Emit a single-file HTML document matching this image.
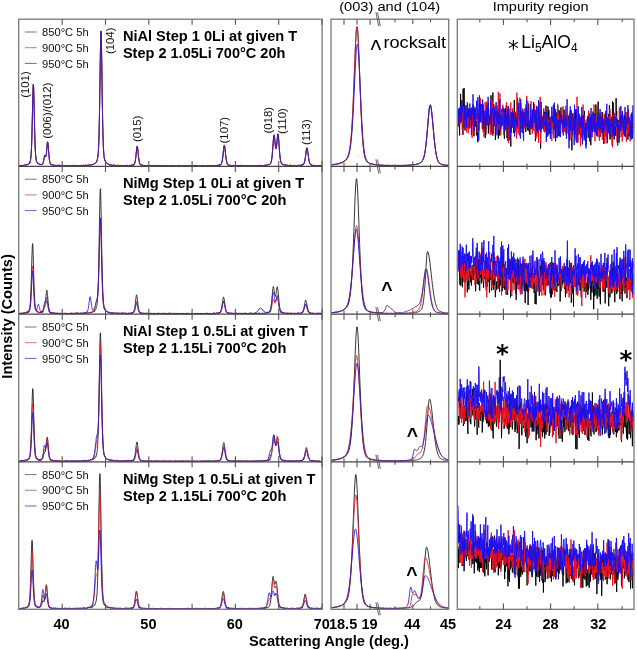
<!DOCTYPE html>
<html><head><meta charset="utf-8"><title>XRD patterns</title>
<style>html,body{margin:0;padding:0;background:#fff}svg{display:block;filter:blur(0.35px)}</style></head>
<body>
<svg width="637" height="650" viewBox="0 0 637 650">
<rect width="637" height="650" fill="#fff"/>
<path d="M19.3 165.6L20.2 165.5L21.1 165.6L22.0 165.6L22.9 165.5L23.8 165.5L24.7 165.2L25.6 164.7L26.5 164.9L27.4 164.7L28.3 163.9L28.4 163.9L28.6 163.8L28.8 163.9L29.0 163.5L29.2 163.1L29.4 163.3L29.6 162.8L29.8 162.8L30.0 162.2L30.1 162.1L30.2 161.4L30.4 160.9L30.6 159.5L30.8 158.1L31.0 156.3L31.2 154.1L31.4 150.2L31.6 145.5L31.8 139.7L31.9 136.7L32.0 132.8L32.2 124.8L32.4 115.8L32.6 106.1L32.8 97.7L33.0 90.1L33.2 85.1L33.4 84.2L33.6 86.8L33.7 89.3L33.8 92.6L34.0 101.0L34.2 109.8L34.4 118.8L34.6 128.1L34.8 135.3L35.0 141.9L35.2 147.4L35.4 151.0L35.5 153.0L35.6 154.9L35.8 156.9L36.0 158.5L36.2 159.9L36.4 160.7L36.6 161.5L36.8 161.8L37.0 162.1L37.2 162.8L37.3 162.8L37.4 163.1L37.6 163.2L37.8 163.6L38.0 163.7L38.2 163.7L39.1 164.0L39.7 164.1L39.9 164.7L40.0 164.6L40.1 164.3L40.3 164.9L40.5 164.6L40.7 164.5L40.9 164.2L41.1 164.3L41.3 164.5L41.5 164.5L41.7 164.5L41.8 164.1L41.9 164.5L42.1 164.3L42.3 164.1L42.5 164.0L42.7 163.7L42.9 163.6L43.1 162.8L43.3 162.2L43.5 161.0L43.6 160.7L43.7 160.3L43.9 159.0L44.1 158.1L44.3 156.7L44.5 156.1L44.7 155.5L44.9 155.9L45.1 155.8L45.3 156.6L45.4 156.9L45.5 156.6L45.7 156.8L45.9 156.2L46.1 154.9L46.3 154.2L46.5 152.3L46.7 149.9L46.9 147.5L47.1 145.3L47.2 144.2L47.3 143.1L47.5 141.9L47.7 142.1L47.9 142.7L48.1 144.5L48.3 147.1L48.5 149.4L48.7 152.4L48.9 154.5L49.0 155.8L49.1 156.9L49.3 158.9L49.5 160.3L49.7 161.9L49.9 162.6L50.1 163.0L50.3 164.0L50.5 163.7L50.7 164.6L50.8 164.1L50.9 164.6L51.1 164.4L51.3 164.6L51.5 165.1L51.7 164.6L51.9 164.6L52.1 165.0L52.3 165.1L52.5 165.1L52.6 165.3L53.5 165.0L54.4 165.5L55.3 165.5L56.2 165.7L57.1 165.7L58.0 165.9L58.9 165.3L59.8 165.7L60.7 165.4L61.6 165.6L62.5 165.8L63.4 165.7L64.3 165.8L65.2 165.7L66.1 165.8L67.0 165.7L67.9 166.0L68.8 165.9L69.7 165.3L70.6 165.8L71.5 165.9L72.4 165.6L73.3 165.4L74.2 166.0L75.1 165.7L76.0 165.8L76.9 166.0L77.8 165.5L78.7 165.6L79.6 165.6L80.5 165.8L81.4 165.5L82.3 165.7L83.2 165.6L84.1 165.7L85.0 165.7L85.9 165.1L86.8 165.5L87.7 165.2L88.6 165.2L89.5 165.2L90.4 165.1L91.3 164.7L92.2 164.7L93.1 164.4L94.0 164.0L94.9 163.2L95.8 162.5L96.0 162.3L96.2 162.3L96.4 162.1L96.6 161.3L96.7 161.1L96.8 161.1L97.0 160.5L97.2 159.9L97.4 159.1L97.6 158.2L97.8 157.4L98.0 155.4L98.2 153.9L98.4 150.6L98.5 149.0L98.6 146.9L98.8 141.7L99.0 135.5L99.2 128.1L99.4 118.5L99.6 106.6L99.8 94.2L100.0 80.1L100.2 65.7L100.3 59.3L100.4 52.9L100.6 41.1L100.8 33.5L101.0 30.9L101.2 33.7L101.4 41.6L101.6 53.2L101.8 66.4L102.0 80.7L102.1 87.9L102.2 94.3L102.4 107.2L102.6 118.4L102.8 128.3L103.0 136.2L103.2 142.5L103.4 147.4L103.6 150.9L103.8 153.9L103.9 154.7L104.0 155.7L104.2 156.8L104.4 158.8L104.6 159.1L104.8 160.1L105.0 160.6L105.2 161.4L105.4 161.6L105.6 161.7L105.7 162.0L105.8 162.1L106.6 163.1L107.5 163.5L108.4 164.2L109.3 165.0L110.2 164.9L111.1 165.4L112.0 165.8L112.9 165.3L113.8 165.0L114.7 165.3L115.6 165.6L116.5 165.6L117.4 165.2L118.3 165.5L119.2 165.5L120.1 165.6L121.0 165.6L121.9 165.4L122.8 165.5L123.7 165.5L124.6 165.8L125.5 165.5L126.4 165.7L127.3 165.3L128.2 165.8L129.1 165.6L130.0 165.5L130.9 165.7L131.8 164.9L132.2 164.9L132.4 165.3L132.6 165.0L132.7 165.1L132.8 165.7L133.0 165.0L133.2 165.0L133.4 164.9L133.6 165.1L133.8 164.7L134.0 164.6L134.2 164.0L134.4 163.9L134.5 163.8L134.6 163.3L134.8 163.2L135.0 162.4L135.2 161.8L135.4 160.0L135.6 158.7L135.8 157.1L136.0 155.3L136.2 153.4L136.3 152.4L136.4 151.4L136.6 149.5L136.8 147.8L137.0 146.4L137.2 146.3L137.4 146.8L137.6 148.0L137.8 149.7L138.0 151.1L138.1 152.4L138.2 153.5L138.4 155.6L138.6 157.6L138.8 159.0L139.0 160.2L139.2 161.6L139.4 162.5L139.6 163.2L139.8 163.6L139.9 164.2L140.0 164.1L140.2 164.5L140.4 164.4L140.6 164.9L140.8 164.7L141.0 164.6L141.2 165.1L141.4 165.2L141.6 165.1L141.7 165.2L141.8 165.4L142.0 165.2L142.6 164.9L143.5 165.5L144.4 165.6L145.3 165.8L146.2 165.6L147.1 165.9L148.0 165.9L148.9 165.4L149.8 165.9L150.7 165.5L151.6 165.4L152.5 165.7L153.4 165.6L154.3 165.3L155.2 165.8L156.1 165.9L157.0 166.1L157.9 165.8L158.8 165.5L159.7 165.6L160.6 166.0L161.5 166.0L162.4 165.9L163.3 165.7L164.2 165.8L165.1 165.8L166.0 165.7L166.9 165.9L167.8 165.8L168.7 165.8L169.6 165.8L170.5 165.7L171.4 165.4L172.3 165.7L173.2 165.8L174.1 166.2L175.0 165.7L175.9 166.2L176.8 166.1L177.7 165.6L178.6 165.7L179.5 165.8L180.4 166.2L181.3 165.9L182.2 166.0L183.1 165.7L184.0 165.3L184.9 165.8L185.8 166.0L186.7 166.1L187.6 165.8L188.5 165.8L189.4 166.1L190.3 165.8L191.2 166.1L192.1 165.6L193.0 165.6L193.9 165.6L194.8 165.9L195.7 165.7L196.6 165.8L197.5 165.9L198.4 165.9L199.3 166.1L200.2 166.1L201.1 165.6L202.0 165.8L202.9 165.7L203.8 165.6L204.7 166.2L205.6 165.9L206.5 165.7L207.4 165.7L208.3 165.8L209.2 165.5L210.1 165.7L211.0 166.0L211.9 165.9L212.8 165.5L213.7 165.6L214.6 166.1L215.5 165.3L216.4 165.4L217.3 165.2L218.2 165.5L219.1 165.3L219.3 165.4L219.5 164.6L219.7 165.1L219.9 164.7L220.0 165.1L220.1 164.9L220.3 165.2L220.5 164.8L220.7 164.4L220.9 164.7L221.1 163.9L221.3 163.7L221.5 163.6L221.7 163.0L221.8 162.6L221.9 162.2L222.1 161.4L222.3 160.4L222.5 159.0L222.7 157.6L222.9 156.0L223.1 153.9L223.3 151.8L223.5 150.4L223.6 149.1L223.7 148.4L223.9 147.0L224.1 145.6L224.3 145.5L224.5 145.4L224.7 146.8L224.9 147.9L225.1 149.8L225.3 151.8L225.4 152.5L225.5 153.6L225.7 155.3L225.9 157.2L226.1 158.9L226.3 160.0L226.5 161.1L226.7 161.8L226.9 162.9L227.1 163.3L227.2 163.9L227.3 163.6L227.5 164.3L227.7 164.7L227.9 164.6L228.1 164.5L228.3 165.2L228.5 165.2L228.7 165.2L228.9 165.3L229.0 165.0L229.1 165.3L229.9 165.5L230.8 165.3L231.7 165.7L232.6 165.5L233.5 165.8L234.4 165.9L235.3 166.1L236.2 165.3L237.1 165.8L238.0 165.7L238.9 165.7L239.8 165.7L240.7 165.7L241.6 165.3L242.5 166.0L243.4 166.1L244.3 166.0L245.2 166.0L246.1 165.6L247.0 165.6L247.9 166.0L248.8 166.0L249.7 165.8L250.6 165.4L251.5 166.4L252.4 165.6L253.3 166.0L254.2 165.5L255.1 165.9L256.0 165.8L256.9 166.0L257.8 165.9L258.7 165.3L259.6 165.5L260.5 165.7L261.4 165.8L262.3 166.0L263.2 165.6L264.1 165.5L265.0 165.4L265.9 165.3L266.8 165.4L267.7 165.0L268.6 164.8L269.0 164.3L269.2 164.1L269.4 164.5L269.5 164.6L269.6 164.3L269.8 164.3L270.0 164.2L270.2 163.9L270.4 163.9L270.6 163.2L270.8 163.0L271.0 162.4L271.2 161.9L271.3 161.6L271.4 161.2L271.6 160.0L271.8 158.8L272.0 157.1L272.2 155.2L272.4 153.3L272.6 150.5L272.8 148.1L273.0 145.1L273.1 143.6L273.2 142.6L273.4 139.5L273.6 137.2L273.8 135.7L274.0 135.0L274.2 135.2L274.4 136.4L274.6 138.0L274.8 140.1L274.9 141.1L275.0 142.5L275.2 144.4L275.4 146.2L275.6 147.7L275.8 148.7L276.0 148.8L276.2 148.9L276.4 147.5L276.6 146.1L276.7 145.2L276.8 144.2L277.0 142.2L277.2 139.7L277.4 137.3L277.6 135.4L277.8 134.2L278.0 134.3L278.2 134.4L278.4 135.8L278.5 136.9L278.6 138.2L278.8 141.3L279.0 143.7L279.2 146.9L279.4 150.2L279.6 152.2L279.8 154.9L280.0 156.9L280.2 158.4L280.3 158.7L280.4 159.7L280.6 160.7L280.8 161.2L281.0 161.9L281.2 162.8L281.4 163.3L281.6 163.8L281.8 163.9L282.0 163.9L282.1 164.0L282.2 164.1L282.4 164.1L282.6 164.6L282.8 164.5L283.0 164.4L283.9 164.8L284.8 164.8L285.7 165.1L286.6 165.4L287.5 165.3L288.4 165.7L289.3 165.9L290.2 165.4L291.1 165.6L292.0 165.5L292.9 166.0L293.8 165.7L294.7 165.7L295.6 165.8L296.5 166.1L297.4 165.6L298.3 165.3L299.2 165.4L300.1 165.5L301.0 165.3L301.9 165.0L302.1 165.7L302.3 165.1L302.5 164.9L302.7 164.7L302.8 164.5L302.9 164.5L303.1 164.6L303.3 164.4L303.5 164.1L303.7 164.2L303.9 163.7L304.1 163.1L304.3 162.3L304.5 162.1L304.6 161.7L304.7 161.2L304.9 160.0L305.1 159.1L305.3 157.5L305.5 156.6L305.7 154.9L305.9 153.3L306.1 151.5L306.3 150.0L306.4 149.9L306.5 149.3L306.7 148.2L306.9 148.1L307.1 148.4L307.3 148.5L307.5 149.7L307.7 151.1L307.9 152.8L308.1 154.1L308.2 155.2L308.3 155.7L308.5 157.6L308.7 158.9L308.9 159.9L309.1 161.1L309.3 161.7L309.5 162.5L309.7 163.3L309.9 163.6L310.0 163.9L310.1 163.8L310.3 164.4L310.5 164.6L310.7 164.4L310.9 164.3L311.1 164.5L311.3 165.0L311.5 165.0L311.7 164.8L311.8 165.2L312.7 165.5L313.6 165.4L314.5 165.4L315.4 165.8L316.3 166.0L317.2 166.0L318.1 165.5L319.0 165.9L319.9 165.8L320.8 165.7L321.7 165.6" fill="none" stroke="#111111" stroke-width="0.85" stroke-linejoin="round"/>
<path d="M19.3 165.6L20.2 165.4L21.1 165.7L22.0 165.5L22.9 165.6L23.8 165.0L24.7 165.2L25.6 165.2L26.5 164.9L27.4 164.6L28.3 163.9L28.4 164.3L28.6 164.1L28.8 163.7L29.0 162.9L29.2 163.0L29.4 163.0L29.6 162.6L29.8 161.9L30.0 162.0L30.1 161.7L30.2 161.1L30.4 160.5L30.6 159.4L30.8 158.3L31.0 155.8L31.2 153.2L31.4 149.9L31.6 145.3L31.8 140.1L31.9 136.2L32.0 132.7L32.2 124.5L32.4 115.5L32.6 106.4L32.8 97.9L33.0 90.0L33.2 85.5L33.4 84.2L33.6 86.9L33.7 89.4L33.8 93.1L34.0 100.5L34.2 109.8L34.4 118.8L34.6 127.3L34.8 135.4L35.0 142.4L35.2 147.5L35.4 151.7L35.5 153.2L35.6 154.6L35.8 157.4L36.0 158.6L36.2 160.2L36.4 160.7L36.6 161.5L36.8 162.0L37.0 162.4L37.2 162.8L37.3 163.0L37.4 163.3L37.6 163.2L37.8 163.0L38.0 163.1L38.2 163.4L39.1 164.0L39.7 164.5L39.9 164.1L40.0 164.4L40.1 164.4L40.3 164.5L40.5 164.5L40.7 164.6L40.9 164.5L41.1 164.7L41.3 164.6L41.5 164.0L41.7 164.4L41.8 164.4L41.9 164.2L42.1 164.1L42.3 164.4L42.5 164.0L42.7 163.5L42.9 163.3L43.1 162.8L43.3 161.8L43.5 161.5L43.6 160.8L43.7 160.4L43.9 158.9L44.1 158.5L44.3 157.1L44.5 156.2L44.7 155.5L44.9 155.4L45.1 155.5L45.3 156.6L45.4 156.3L45.5 156.6L45.7 156.7L45.9 156.1L46.1 155.6L46.3 154.5L46.5 152.2L46.7 150.3L46.9 147.7L47.1 145.1L47.2 144.1L47.3 142.9L47.5 142.1L47.7 142.2L47.9 142.9L48.1 144.7L48.3 147.1L48.5 149.4L48.7 152.3L48.9 155.1L49.0 155.7L49.1 156.9L49.3 158.7L49.5 160.2L49.7 161.3L49.9 162.4L50.1 162.8L50.3 163.5L50.5 163.8L50.7 164.1L50.8 164.6L50.9 164.4L51.1 164.6L51.3 164.6L51.5 165.0L51.7 164.5L51.9 164.9L52.1 165.2L52.3 165.4L52.5 165.1L52.6 165.1L53.5 165.4L54.4 165.4L55.3 165.6L56.2 165.4L57.1 165.7L58.0 165.6L58.9 165.4L59.8 165.1L60.7 165.9L61.6 165.7L62.5 165.8L63.4 165.5L64.3 165.9L65.2 165.8L66.1 165.7L67.0 165.9L67.9 165.9L68.8 165.8L69.7 166.1L70.6 166.0L71.5 165.8L72.4 165.6L73.3 165.7L74.2 166.1L75.1 165.8L76.0 165.5L76.9 165.5L77.8 165.7L78.7 165.8L79.6 165.5L80.5 165.7L81.4 165.8L82.3 165.7L83.2 165.2L84.1 165.4L85.0 165.2L85.9 165.5L86.8 165.2L87.7 165.4L88.6 165.3L89.5 164.6L90.4 164.9L91.3 165.0L92.2 164.7L93.1 164.3L94.0 163.8L94.9 163.6L95.8 163.0L96.0 162.5L96.2 162.1L96.4 161.8L96.6 161.2L96.7 161.2L96.8 160.9L97.0 160.8L97.2 159.8L97.4 158.9L97.6 158.3L97.8 157.2L98.0 155.7L98.2 153.2L98.4 151.0L98.5 149.1L98.6 147.0L98.8 142.0L99.0 135.9L99.2 127.8L99.4 118.2L99.6 106.8L99.8 94.0L100.0 80.3L100.2 65.9L100.3 58.8L100.4 52.6L100.6 41.2L100.8 33.4L101.0 31.1L101.2 33.6L101.4 41.7L101.6 52.6L101.8 65.8L102.0 80.1L102.1 87.6L102.2 94.2L102.4 107.2L102.6 118.5L102.8 127.8L103.0 136.3L103.2 142.1L103.4 147.2L103.6 150.6L103.8 153.6L103.9 154.9L104.0 155.7L104.2 157.1L104.4 158.4L104.6 159.2L104.8 160.2L105.0 161.1L105.2 160.9L105.4 161.3L105.6 161.8L105.7 162.0L105.8 161.9L106.6 163.2L107.5 163.9L108.4 164.3L109.3 164.3L110.2 165.1L111.1 164.7L112.0 165.2L112.9 165.4L113.8 165.0L114.7 165.4L115.6 165.7L116.5 165.5L117.4 165.3L118.3 165.2L119.2 165.6L120.1 165.5L121.0 165.4L121.9 165.7L122.8 165.5L123.7 165.6L124.6 165.7L125.5 165.7L126.4 165.6L127.3 165.6L128.2 165.7L129.1 165.6L130.0 165.2L130.9 165.4L131.8 165.1L132.2 165.0L132.4 165.1L132.6 164.7L132.7 165.3L132.8 164.9L133.0 165.1L133.2 164.6L133.4 164.5L133.6 165.2L133.8 164.9L134.0 164.4L134.2 164.1L134.4 163.8L134.5 163.8L134.6 163.5L134.8 162.9L135.0 162.4L135.2 161.2L135.4 160.8L135.6 158.8L135.8 157.5L136.0 155.2L136.2 153.5L136.3 152.6L136.4 151.3L136.6 149.7L136.8 148.0L137.0 147.1L137.2 146.4L137.4 146.7L137.6 147.7L137.8 149.6L138.0 151.3L138.1 152.5L138.2 153.5L138.4 155.4L138.6 157.1L138.8 159.1L139.0 160.4L139.2 161.5L139.4 162.4L139.6 163.3L139.8 163.4L139.9 163.9L140.0 163.9L140.2 164.5L140.4 164.5L140.6 164.6L140.8 164.9L141.0 164.5L141.2 165.0L141.4 164.7L141.6 165.0L141.7 165.3L141.8 165.3L142.0 165.2L142.6 165.4L143.5 165.5L144.4 165.6L145.3 166.0L146.2 165.7L147.1 166.2L148.0 165.6L148.9 165.9L149.8 165.9L150.7 165.8L151.6 165.7L152.5 166.1L153.4 166.1L154.3 166.0L155.2 166.2L156.1 166.0L157.0 165.4L157.9 166.0L158.8 165.6L159.7 166.1L160.6 165.7L161.5 165.9L162.4 165.8L163.3 165.7L164.2 165.4L165.1 165.8L166.0 165.8L166.9 166.0L167.8 165.7L168.7 165.9L169.6 165.6L170.5 165.8L171.4 165.4L172.3 166.2L173.2 165.9L174.1 165.6L175.0 165.9L175.9 166.0L176.8 165.9L177.7 166.1L178.6 165.8L179.5 165.3L180.4 165.6L181.3 166.1L182.2 166.0L183.1 165.9L184.0 165.6L184.9 166.0L185.8 166.0L186.7 165.6L187.6 165.6L188.5 165.9L189.4 166.1L190.3 166.1L191.2 166.0L192.1 166.3L193.0 165.6L193.9 165.9L194.8 165.7L195.7 165.4L196.6 165.5L197.5 166.1L198.4 165.6L199.3 165.5L200.2 166.0L201.1 166.0L202.0 165.8L202.9 166.1L203.8 165.5L204.7 166.3L205.6 166.0L206.5 165.8L207.4 165.8L208.3 165.7L209.2 165.7L210.1 165.8L211.0 165.5L211.9 166.2L212.8 165.7L213.7 165.8L214.6 165.6L215.5 165.6L216.4 165.8L217.3 165.6L218.2 165.2L219.1 165.2L219.3 165.3L219.5 164.7L219.7 164.6L219.9 165.3L220.0 164.9L220.1 164.4L220.3 164.7L220.5 164.7L220.7 164.6L220.9 164.5L221.1 164.2L221.3 163.9L221.5 163.2L221.7 162.9L221.8 162.6L221.9 162.4L222.1 161.3L222.3 160.4L222.5 158.9L222.7 157.2L222.9 155.6L223.1 153.8L223.3 151.9L223.5 150.0L223.6 149.2L223.7 148.3L223.9 146.6L224.1 146.0L224.3 145.1L224.5 145.7L224.7 146.8L224.9 148.1L225.1 149.9L225.3 151.6L225.4 152.8L225.5 153.3L225.7 155.6L225.9 157.7L226.1 158.9L226.3 160.5L226.5 161.1L226.7 161.8L226.9 162.6L227.1 163.6L227.2 163.7L227.3 163.4L227.5 164.0L227.7 164.4L227.9 164.3L228.1 164.2L228.3 164.5L228.5 164.9L228.7 164.9L228.9 164.9L229.0 165.2L229.1 165.4L229.9 165.3L230.8 165.6L231.7 165.5L232.6 165.6L233.5 165.1L234.4 165.8L235.3 165.7L236.2 165.7L237.1 165.6L238.0 165.5L238.9 165.8L239.8 165.9L240.7 166.1L241.6 165.9L242.5 165.6L243.4 165.7L244.3 166.0L245.2 165.8L246.1 165.7L247.0 165.6L247.9 165.9L248.8 165.8L249.7 166.1L250.6 166.0L251.5 165.4L252.4 166.2L253.3 165.8L254.2 165.7L255.1 165.8L256.0 165.9L256.9 165.7L257.8 165.7L258.7 165.7L259.6 166.0L260.5 165.6L261.4 165.8L262.3 165.7L263.2 165.5L264.1 165.3L265.0 165.2L265.9 165.4L266.8 165.0L267.7 164.8L268.6 164.5L269.0 164.3L269.2 164.6L269.4 164.5L269.5 164.2L269.6 164.6L269.8 164.2L270.0 164.2L270.2 163.9L270.4 164.0L270.6 163.5L270.8 163.0L271.0 162.3L271.2 161.6L271.3 161.5L271.4 161.1L271.6 160.2L271.8 158.6L272.0 157.2L272.2 155.1L272.4 152.6L272.6 150.6L272.8 148.2L273.0 145.2L273.1 143.9L273.2 142.4L273.4 139.2L273.6 137.2L273.8 136.0L274.0 134.8L274.2 134.8L274.4 136.3L274.6 138.0L274.8 140.1L274.9 141.1L275.0 142.1L275.2 144.2L275.4 146.0L275.6 147.4L275.8 148.3L276.0 148.7L276.2 148.9L276.4 147.7L276.6 146.1L276.7 145.3L276.8 144.1L277.0 142.1L277.2 139.9L277.4 137.1L277.6 135.4L277.8 134.2L278.0 133.7L278.2 134.3L278.4 136.0L278.5 137.6L278.6 138.4L278.8 141.1L279.0 144.1L279.2 146.8L279.4 149.4L279.6 152.4L279.8 154.8L280.0 156.1L280.2 158.3L280.3 159.2L280.4 159.6L280.6 160.6L280.8 161.8L281.0 162.1L281.2 162.9L281.4 163.4L281.6 163.5L281.8 163.6L282.0 164.1L282.1 164.0L282.2 164.2L282.4 163.7L282.6 164.5L282.8 164.2L283.0 164.6L283.9 164.9L284.8 164.9L285.7 165.0L286.6 165.0L287.5 165.3L288.4 165.6L289.3 165.6L290.2 165.4L291.1 165.4L292.0 165.3L292.9 165.5L293.8 165.4L294.7 165.3L295.6 165.5L296.5 165.9L297.4 165.8L298.3 165.8L299.2 165.1L300.1 165.6L301.0 165.0L301.9 165.0L302.1 164.7L302.3 164.8L302.5 165.0L302.7 164.9L302.8 164.8L302.9 164.8L303.1 164.8L303.3 164.5L303.5 164.0L303.7 164.4L303.9 163.6L304.1 163.5L304.3 162.7L304.5 161.9L304.6 161.7L304.7 161.1L304.9 160.6L305.1 158.9L305.3 157.9L305.5 156.2L305.7 154.8L305.9 153.8L306.1 151.8L306.3 150.2L306.4 149.3L306.5 149.0L306.7 148.2L306.9 148.2L307.1 147.8L307.3 148.4L307.5 149.8L307.7 151.3L307.9 153.1L308.1 154.1L308.2 154.5L308.3 155.7L308.5 157.1L308.7 158.6L308.9 160.1L309.1 160.7L309.3 162.1L309.5 162.6L309.7 163.1L309.9 163.4L310.0 163.7L310.1 163.9L310.3 164.4L310.5 164.8L310.7 164.6L310.9 164.9L311.1 165.2L311.3 165.3L311.5 165.2L311.7 165.5L311.8 165.4L312.7 165.7L313.6 165.4L314.5 165.4L315.4 165.1L316.3 166.0L317.2 165.8L318.1 165.5L319.0 165.8L319.9 165.8L320.8 165.4L321.7 165.8" fill="none" stroke="#e0202a" stroke-width="0.85" stroke-linejoin="round"/>
<path d="M19.3 165.8L20.2 165.8L21.1 165.4L22.0 165.4L22.9 165.7L23.8 165.5L24.7 165.1L25.6 164.9L26.5 165.0L27.4 164.4L28.3 163.9L28.4 164.4L28.6 163.9L28.8 163.6L29.0 163.6L29.2 163.7L29.4 163.1L29.6 162.5L29.8 162.0L30.0 162.4L30.1 161.1L30.2 161.6L30.4 160.4L30.6 159.3L30.8 157.9L31.0 156.2L31.2 153.8L31.4 149.9L31.6 145.6L31.8 140.2L31.9 135.7L32.0 132.5L32.2 124.2L32.4 115.9L32.6 106.0L32.8 97.2L33.0 89.7L33.2 85.3L33.4 84.4L33.6 86.8L33.7 89.8L33.8 93.0L34.0 100.7L34.2 110.1L34.4 119.1L34.6 127.8L34.8 135.0L35.0 141.7L35.2 147.3L35.4 151.2L35.5 153.3L35.6 154.7L35.8 156.7L36.0 158.9L36.2 160.0L36.4 161.1L36.6 161.4L36.8 161.6L37.0 162.5L37.2 162.6L37.3 163.0L37.4 163.2L37.6 163.5L37.8 163.1L38.0 163.0L38.2 163.6L39.1 164.3L39.7 164.2L39.9 164.5L40.0 164.2L40.1 164.4L40.3 164.4L40.5 164.3L40.7 164.6L40.9 164.6L41.1 164.9L41.3 164.6L41.5 164.8L41.7 164.4L41.8 164.6L41.9 164.3L42.1 164.2L42.3 164.5L42.5 164.1L42.7 163.9L42.9 163.2L43.1 162.4L43.3 162.0L43.5 161.4L43.6 160.5L43.7 160.6L43.9 158.9L44.1 158.2L44.3 157.6L44.5 155.5L44.7 155.3L44.9 155.8L45.1 155.8L45.3 156.3L45.4 156.4L45.5 156.9L45.7 156.7L45.9 156.1L46.1 155.3L46.3 153.7L46.5 152.1L46.7 149.4L46.9 147.7L47.1 145.2L47.2 144.6L47.3 143.5L47.5 141.7L47.7 142.0L47.9 142.6L48.1 144.5L48.3 147.1L48.5 149.6L48.7 152.3L48.9 154.8L49.0 155.6L49.1 156.7L49.3 158.9L49.5 160.5L49.7 161.4L49.9 162.4L50.1 162.8L50.3 163.0L50.5 163.7L50.7 164.2L50.8 164.3L50.9 164.6L51.1 164.7L51.3 164.9L51.5 164.8L51.7 164.9L51.9 164.7L52.1 165.1L52.3 165.1L52.5 165.3L52.6 164.7L53.5 165.2L54.4 165.0L55.3 165.3L56.2 165.2L57.1 165.6L58.0 165.4L58.9 165.0L59.8 165.9L60.7 165.4L61.6 165.3L62.5 165.6L63.4 165.5L64.3 165.4L65.2 165.8L66.1 165.6L67.0 165.9L67.9 165.8L68.8 165.8L69.7 165.7L70.6 165.6L71.5 165.6L72.4 166.0L73.3 165.2L74.2 165.4L75.1 165.5L76.0 165.7L76.9 165.7L77.8 165.5L78.7 165.5L79.6 166.0L80.5 165.4L81.4 164.9L82.3 166.0L83.2 165.3L84.1 165.4L85.0 165.5L85.9 165.1L86.8 165.6L87.7 165.3L88.6 164.9L89.5 165.2L90.4 165.1L91.3 164.8L92.2 164.8L93.1 164.1L94.0 164.2L94.9 163.3L95.8 162.9L96.0 162.3L96.2 162.2L96.4 162.4L96.6 161.5L96.7 161.5L96.8 161.2L97.0 160.3L97.2 160.3L97.4 159.6L97.6 158.1L97.8 157.2L98.0 155.3L98.2 153.5L98.4 151.0L98.5 149.1L98.6 146.8L98.8 141.9L99.0 135.8L99.2 127.8L99.4 118.2L99.6 106.9L99.8 93.5L100.0 80.1L100.2 66.1L100.3 59.1L100.4 52.3L100.6 41.0L100.8 33.5L101.0 31.0L101.2 33.7L101.4 41.8L101.6 53.1L101.8 66.1L102.0 80.6L102.1 87.5L102.2 94.1L102.4 107.1L102.6 118.5L102.8 127.6L103.0 135.9L103.2 142.4L103.4 147.0L103.6 150.8L103.8 153.9L103.9 154.8L104.0 155.8L104.2 157.7L104.4 158.5L104.6 159.4L104.8 160.1L105.0 161.0L105.2 161.2L105.4 161.5L105.6 161.8L105.7 162.3L105.8 162.0L106.6 163.4L107.5 163.8L108.4 163.9L109.3 164.7L110.2 164.9L111.1 164.7L112.0 165.2L112.9 165.2L113.8 165.2L114.7 165.1L115.6 165.9L116.5 165.6L117.4 165.7L118.3 165.7L119.2 165.7L120.1 165.7L121.0 165.5L121.9 165.8L122.8 165.6L123.7 165.5L124.6 165.8L125.5 165.6L126.4 165.2L127.3 165.5L128.2 165.7L129.1 165.5L130.0 165.7L130.9 165.4L131.8 165.1L132.2 165.4L132.4 165.3L132.6 164.9L132.7 165.3L132.8 165.1L133.0 165.3L133.2 165.2L133.4 165.0L133.6 164.3L133.8 164.8L134.0 164.6L134.2 164.4L134.4 164.0L134.5 163.7L134.6 163.6L134.8 162.6L135.0 162.3L135.2 161.1L135.4 160.2L135.6 158.8L135.8 157.6L136.0 155.5L136.2 153.4L136.3 152.5L136.4 151.9L136.6 149.3L136.8 147.9L137.0 146.8L137.2 146.4L137.4 146.8L137.6 147.8L137.8 149.8L138.0 151.7L138.1 152.4L138.2 153.5L138.4 155.6L138.6 157.5L138.8 159.2L139.0 160.4L139.2 161.2L139.4 162.6L139.6 162.8L139.8 163.5L139.9 164.0L140.0 163.9L140.2 164.7L140.4 164.9L140.6 165.0L140.8 164.9L141.0 165.0L141.2 165.1L141.4 165.1L141.6 165.6L141.7 165.1L141.8 165.5L142.0 165.4L142.6 165.5L143.5 165.7L144.4 165.8L145.3 165.8L146.2 165.6L147.1 165.5L148.0 165.6L148.9 165.9L149.8 165.9L150.7 165.9L151.6 165.6L152.5 166.2L153.4 165.5L154.3 165.9L155.2 165.9L156.1 165.7L157.0 165.5L157.9 165.7L158.8 165.6L159.7 165.8L160.6 165.5L161.5 165.5L162.4 165.8L163.3 165.5L164.2 165.8L165.1 165.8L166.0 166.0L166.9 165.9L167.8 165.6L168.7 166.1L169.6 165.7L170.5 165.7L171.4 165.7L172.3 166.3L173.2 165.8L174.1 165.7L175.0 166.0L175.9 165.8L176.8 166.3L177.7 165.7L178.6 166.0L179.5 165.6L180.4 166.2L181.3 165.7L182.2 165.9L183.1 165.6L184.0 166.0L184.9 165.9L185.8 165.3L186.7 166.0L187.6 166.0L188.5 165.9L189.4 166.0L190.3 165.5L191.2 165.4L192.1 166.0L193.0 166.2L193.9 165.5L194.8 165.6L195.7 165.6L196.6 165.5L197.5 166.0L198.4 165.8L199.3 166.1L200.2 166.1L201.1 165.6L202.0 165.9L202.9 165.3L203.8 165.8L204.7 165.9L205.6 165.6L206.5 165.4L207.4 165.7L208.3 166.0L209.2 165.7L210.1 165.4L211.0 165.8L211.9 165.9L212.8 165.5L213.7 165.6L214.6 165.9L215.5 165.7L216.4 165.7L217.3 165.4L218.2 165.4L219.1 165.0L219.3 165.0L219.5 165.5L219.7 165.0L219.9 164.8L220.0 164.9L220.1 164.7L220.3 165.0L220.5 164.9L220.7 164.4L220.9 164.6L221.1 164.6L221.3 163.6L221.5 163.5L221.7 162.9L221.8 162.8L221.9 162.4L222.1 161.5L222.3 160.3L222.5 158.8L222.7 157.9L222.9 155.6L223.1 154.2L223.3 152.2L223.5 149.9L223.6 149.2L223.7 148.6L223.9 146.4L224.1 146.0L224.3 145.4L224.5 145.7L224.7 146.3L224.9 148.1L225.1 149.5L225.3 151.8L225.4 152.4L225.5 153.8L225.7 155.5L225.9 156.8L226.1 158.6L226.3 160.0L226.5 160.6L226.7 161.9L226.9 162.9L227.1 163.2L227.2 163.8L227.3 163.5L227.5 163.8L227.7 164.5L227.9 164.7L228.1 164.7L228.3 164.8L228.5 165.1L228.7 164.9L228.9 165.5L229.0 165.2L229.1 165.2L229.9 165.4L230.8 165.4L231.7 165.8L232.6 165.4L233.5 165.7L234.4 165.8L235.3 166.0L236.2 165.9L237.1 165.6L238.0 165.9L238.9 165.7L239.8 165.5L240.7 165.5L241.6 165.4L242.5 165.8L243.4 166.0L244.3 165.5L245.2 165.7L246.1 165.5L247.0 165.7L247.9 165.5L248.8 165.6L249.7 165.6L250.6 165.6L251.5 165.6L252.4 165.7L253.3 165.7L254.2 165.5L255.1 165.8L256.0 165.3L256.9 165.7L257.8 165.5L258.7 165.7L259.6 165.7L260.5 165.2L261.4 165.7L262.3 165.8L263.2 165.7L264.1 165.5L265.0 164.9L265.9 165.3L266.8 165.0L267.7 165.2L268.6 164.7L269.0 164.5L269.2 164.1L269.4 164.6L269.5 164.3L269.6 164.3L269.8 164.4L270.0 164.1L270.2 163.9L270.4 164.1L270.6 163.2L270.8 162.8L271.0 162.6L271.2 162.1L271.3 161.1L271.4 161.0L271.6 159.8L271.8 158.4L272.0 157.2L272.2 155.0L272.4 153.1L272.6 150.6L272.8 147.9L273.0 145.0L273.1 143.3L273.2 142.1L273.4 139.5L273.6 137.3L273.8 135.6L274.0 135.1L274.2 135.2L274.4 136.2L274.6 138.0L274.8 140.0L274.9 141.3L275.0 141.8L275.2 144.1L275.4 146.2L275.6 147.7L275.8 148.1L276.0 148.8L276.2 148.6L276.4 147.6L276.6 146.1L276.7 145.0L276.8 144.3L277.0 141.6L277.2 139.9L277.4 137.3L277.6 135.7L277.8 133.9L278.0 134.0L278.2 134.6L278.4 135.9L278.5 136.8L278.6 138.5L278.8 141.1L279.0 144.2L279.2 146.8L279.4 149.7L279.6 152.3L279.8 154.7L280.0 156.7L280.2 158.4L280.3 158.9L280.4 159.3L280.6 161.2L280.8 161.6L281.0 162.4L281.2 162.7L281.4 163.4L281.6 163.6L281.8 164.0L282.0 163.8L282.1 164.0L282.2 164.2L282.4 164.2L282.6 164.4L282.8 164.8L283.0 164.4L283.9 164.8L284.8 165.1L285.7 165.0L286.6 165.0L287.5 165.6L288.4 165.6L289.3 165.1L290.2 165.2L291.1 165.7L292.0 165.8L292.9 165.7L293.8 165.7L294.7 165.9L295.6 165.6L296.5 165.9L297.4 165.8L298.3 165.3L299.2 165.6L300.1 165.4L301.0 165.2L301.9 165.0L302.1 165.2L302.3 165.0L302.5 165.2L302.7 164.5L302.8 164.7L302.9 165.0L303.1 164.7L303.3 164.4L303.5 164.2L303.7 163.6L303.9 163.4L304.1 163.4L304.3 162.7L304.5 162.3L304.6 161.6L304.7 161.2L304.9 159.7L305.1 159.1L305.3 158.3L305.5 156.5L305.7 154.8L305.9 153.5L306.1 151.9L306.3 150.3L306.4 149.5L306.5 149.1L306.7 148.4L306.9 147.7L307.1 148.2L307.3 148.9L307.5 150.1L307.7 151.4L307.9 152.6L308.1 154.7L308.2 155.1L308.3 155.7L308.5 157.5L308.7 158.7L308.9 160.2L309.1 160.7L309.3 161.6L309.5 162.5L309.7 163.5L309.9 163.8L310.0 163.6L310.1 163.6L310.3 164.2L310.5 164.2L310.7 164.8L310.9 164.8L311.1 164.9L311.3 164.9L311.5 165.4L311.7 164.9L311.8 164.9L312.7 165.6L313.6 165.7L314.5 165.5L315.4 165.7L316.3 166.1L317.2 165.5L318.1 165.7L319.0 165.8L319.9 165.3L320.8 165.7L321.7 165.9" fill="none" stroke="#2a18c8" stroke-width="0.85" stroke-linejoin="round"/>
<path d="M19.3 313.3L20.2 313.5L21.1 313.4L22.0 313.1L22.9 313.2L23.8 313.1L24.7 312.5L25.6 312.5L26.5 312.2L27.4 311.8L27.6 311.7L27.8 311.3L28.0 311.5L28.2 310.9L28.3 311.4L28.4 311.2L28.6 311.2L28.8 310.6L29.0 310.1L29.2 309.4L29.4 309.2L29.6 308.3L29.8 307.3L30.0 305.9L30.1 305.0L30.2 303.7L30.4 301.5L30.6 297.8L30.8 293.6L31.0 288.7L31.2 282.9L31.4 276.3L31.6 268.4L31.8 261.8L31.9 257.6L32.0 254.4L32.2 248.9L32.4 245.3L32.6 243.7L32.8 245.2L33.0 249.9L33.2 255.8L33.4 262.5L33.6 269.9L33.7 273.2L33.8 277.3L34.0 283.6L34.2 289.7L34.4 293.9L34.6 298.5L34.8 302.1L35.0 304.1L35.2 305.9L35.4 306.9L35.5 307.9L35.6 308.3L35.8 309.0L36.0 309.3L36.2 310.2L36.4 310.3L36.6 310.7L36.8 311.1L37.0 311.2L37.2 311.4L37.3 311.7L37.4 311.3L37.6 312.0L37.8 311.5L38.0 311.7L38.2 312.0L38.4 312.2L38.6 312.2L38.8 312.1L39.0 312.1L39.1 312.2L39.2 312.0L39.4 312.4L39.6 312.3L39.8 312.7L40.0 312.2L40.2 312.4L40.4 312.5L40.6 312.1L40.8 312.2L40.9 313.0L41.0 312.4L41.2 312.7L41.4 312.1L41.6 311.7L41.8 312.3L41.9 312.2L42.0 312.2L42.1 312.0L42.2 311.9L42.3 311.6L42.4 312.1L42.5 311.4L42.6 311.8L42.7 311.4L42.8 311.1L42.9 311.0L43.0 311.2L43.1 310.9L43.2 310.6L43.3 310.3L43.4 309.8L43.5 310.0L43.6 309.3L43.7 308.9L43.8 308.6L43.9 308.2L44.0 307.6L44.1 307.4L44.2 306.9L44.3 306.5L44.4 305.8L44.5 306.2L44.6 305.1L44.7 305.0L44.8 304.6L44.9 304.3L45.0 304.0L45.1 303.1L45.2 302.6L45.3 301.7L45.4 301.5L45.5 300.1L45.6 299.6L45.7 298.8L45.8 298.0L45.9 297.1L46.0 296.2L46.1 295.1L46.2 294.0L46.3 293.1L46.4 292.6L46.5 291.6L46.6 291.2L46.7 290.6L46.8 290.0L46.9 290.3L47.0 290.7L47.1 291.5L47.2 292.1L47.3 293.0L47.4 293.4L47.5 294.8L47.6 295.7L47.7 297.1L47.8 298.1L47.9 299.0L48.0 300.7L48.1 301.7L48.2 302.9L48.3 303.6L48.4 305.0L48.5 305.9L48.6 306.8L48.7 307.5L48.8 307.8L48.9 307.9L49.0 309.3L49.1 309.3L49.2 309.9L49.3 310.6L49.4 310.7L49.5 311.0L49.7 311.5L49.9 311.3L50.1 312.4L50.3 312.1L50.5 312.3L50.7 312.6L50.8 312.5L50.9 312.4L51.1 312.6L51.3 312.6L51.5 312.6L51.7 313.3L52.6 312.7L53.5 312.6L54.4 313.0L55.3 313.1L56.2 313.6L57.1 313.4L58.0 313.6L58.9 313.5L59.8 313.2L60.7 313.6L61.6 313.5L62.5 313.9L63.4 313.5L64.3 313.4L65.2 313.6L66.1 313.6L67.0 313.1L67.9 313.7L68.8 313.7L69.7 313.6L70.6 313.2L71.5 313.0L72.4 313.4L73.3 313.6L74.2 313.5L75.1 313.2L76.0 313.6L76.9 313.1L77.8 313.1L78.7 313.4L79.6 313.2L80.5 313.2L81.4 313.0L82.3 313.5L83.2 313.0L84.1 313.3L85.0 313.3L85.1 313.2L85.3 313.2L85.5 313.4L85.7 313.5L85.9 313.3L86.1 312.8L86.3 312.7L86.5 312.9L86.7 312.8L86.8 313.2L86.9 313.1L87.1 313.0L87.3 313.3L87.5 313.2L87.7 313.0L87.9 313.0L88.1 313.2L88.3 312.8L88.5 313.0L88.6 312.7L88.7 312.9L88.9 312.9L89.1 312.8L89.3 312.8L89.5 312.9L89.7 312.8L89.9 312.5L90.1 312.5L90.3 312.3L90.4 313.0L90.5 312.7L90.7 312.6L90.9 312.5L91.1 312.5L91.3 312.5L91.5 312.2L91.7 312.2L91.9 312.5L92.1 311.9L92.2 311.9L92.3 312.2L92.5 311.8L92.7 312.1L92.9 311.6L93.1 311.8L93.3 311.8L93.5 311.6L93.7 311.6L93.9 311.2L94.0 311.2L94.1 311.1L94.3 311.1L94.5 311.6L94.7 310.6L94.9 310.8L95.1 310.1L95.3 309.7L95.4 309.7L95.5 309.7L95.6 309.5L95.7 309.3L95.8 309.2L95.9 309.0L96.0 308.9L96.1 308.2L96.2 308.2L96.3 307.7L96.4 307.6L96.5 307.2L96.6 306.9L96.7 306.3L96.8 305.7L96.9 305.3L97.0 304.8L97.1 304.1L97.2 302.7L97.3 302.2L97.4 301.1L97.5 299.5L97.6 298.1L97.7 296.6L97.8 295.0L97.9 292.3L98.0 290.4L98.1 287.8L98.2 285.0L98.3 282.1L98.4 278.6L98.5 274.3L98.6 270.2L98.7 265.8L98.8 261.2L98.9 256.2L99.0 250.6L99.1 245.2L99.2 238.9L99.3 233.0L99.4 226.7L99.5 221.2L99.6 215.8L99.7 210.3L99.8 205.7L99.9 200.4L100.0 196.3L100.1 192.8L100.2 190.4L100.3 189.0L100.4 188.7L100.5 189.2L100.6 190.6L100.7 193.8L100.8 197.1L100.9 201.4L101.0 205.6L101.1 210.9L101.2 216.6L101.3 222.8L101.4 228.4L101.5 234.4L101.6 240.2L101.8 251.6L102.0 261.8L102.1 266.7L102.2 270.9L102.4 278.9L102.6 285.6L102.8 291.0L103.0 295.4L103.2 298.5L103.4 301.3L103.6 303.2L103.8 304.9L103.9 305.8L104.0 305.8L104.2 307.1L104.4 307.5L104.6 308.1L104.8 309.1L105.0 309.3L105.2 309.6L105.7 310.4L106.6 311.3L107.5 311.5L108.4 312.1L109.3 312.3L110.2 312.7L111.1 312.7L112.0 313.0L112.9 313.0L113.8 312.9L114.7 313.1L115.6 313.3L116.5 313.4L117.4 313.2L118.3 313.2L119.2 313.4L120.1 313.5L121.0 313.2L121.9 312.8L122.8 313.4L123.7 313.3L124.6 313.3L125.5 313.9L126.4 313.3L127.3 313.5L128.2 313.0L129.1 313.3L130.0 313.4L130.9 313.1L131.6 312.9L131.8 313.0L132.0 312.9L132.2 313.1L132.4 312.8L132.6 312.5L132.7 312.2L132.8 312.4L133.0 312.3L133.2 312.0L133.4 311.8L133.6 311.3L133.8 311.1L134.0 310.8L134.2 310.1L134.4 309.3L134.5 308.8L134.6 308.3L134.8 307.3L135.0 306.3L135.2 304.4L135.4 303.0L135.6 300.8L135.8 299.1L136.0 297.9L136.2 296.1L136.3 295.6L136.4 295.4L136.6 294.8L136.8 295.1L137.0 296.7L137.2 297.5L137.4 299.2L137.6 300.9L137.8 302.6L138.0 304.6L138.1 305.3L138.2 306.1L138.4 307.5L138.6 308.5L138.8 309.8L139.0 310.5L139.2 310.7L139.4 311.4L139.6 311.7L139.8 312.5L139.9 312.3L140.0 312.4L140.2 312.4L140.4 312.7L140.6 312.5L140.8 312.8L141.0 312.9L141.2 312.9L141.4 312.8L141.7 313.1L142.6 312.9L143.5 313.2L144.4 313.3L145.3 313.4L146.2 313.3L147.1 313.2L148.0 313.3L148.9 313.4L149.8 313.3L150.7 313.5L151.6 313.3L152.5 313.5L153.4 314.0L154.3 313.3L155.2 313.5L156.1 313.8L157.0 313.6L157.9 313.8L158.8 313.1L159.7 313.5L160.6 313.9L161.5 313.5L162.4 313.7L163.3 313.2L164.2 313.8L165.1 314.1L166.0 313.6L166.9 313.7L167.8 313.7L168.7 314.1L169.6 313.5L170.5 313.2L171.4 314.0L172.3 313.3L173.2 313.7L174.1 313.1L175.0 313.5L175.9 313.6L176.8 313.4L177.7 313.5L178.6 313.7L179.5 313.5L180.4 313.7L181.3 314.0L182.2 313.2L183.1 313.7L184.0 313.7L184.9 313.5L185.8 314.0L186.7 313.9L187.6 313.7L188.5 313.7L189.4 313.6L190.3 313.4L191.2 313.7L192.1 313.5L193.0 313.5L193.9 313.8L194.8 313.6L195.7 313.8L196.6 313.4L197.5 313.5L198.4 313.6L199.3 313.9L200.2 313.6L201.1 313.8L202.0 313.4L202.9 313.6L203.8 313.8L204.7 313.4L205.6 313.4L206.5 313.7L207.4 313.3L208.3 313.6L209.2 313.6L210.1 313.5L211.0 313.7L211.9 313.6L212.8 313.5L213.7 313.1L214.6 313.1L215.5 313.4L216.4 313.0L217.3 313.2L218.2 313.0L218.5 312.8L218.7 312.9L218.9 312.4L219.1 312.8L219.3 313.0L219.5 312.4L219.7 312.6L219.9 312.4L220.0 312.9L220.1 311.9L220.3 311.7L220.5 311.4L220.7 310.9L220.9 310.2L221.1 310.0L221.3 309.0L221.5 308.4L221.7 307.3L221.8 306.4L221.9 305.9L222.1 305.0L222.3 303.3L222.5 302.0L222.7 300.7L222.9 299.2L223.1 298.3L223.3 297.9L223.5 297.5L223.6 296.9L223.7 297.7L223.9 297.9L224.1 298.8L224.3 299.9L224.5 301.7L224.7 302.9L224.9 304.2L225.1 305.4L225.3 306.9L225.4 307.6L225.5 307.7L225.7 308.6L225.9 309.6L226.1 310.5L226.3 310.9L226.5 311.4L226.7 311.6L226.9 312.3L227.1 312.3L227.2 312.4L227.3 312.7L227.5 312.6L227.7 312.7L227.9 312.9L228.1 312.8L228.3 313.3L229.0 313.1L229.9 313.1L230.8 313.3L231.7 313.1L232.6 313.7L233.5 313.8L234.4 313.4L235.3 313.4L236.2 313.0L237.1 313.4L238.0 313.7L238.9 313.4L239.8 313.7L240.7 313.9L241.6 313.0L242.5 313.5L243.4 313.4L244.3 313.4L245.2 313.1L246.1 313.5L247.0 313.3L247.9 313.8L248.8 313.8L249.7 313.2L250.6 313.2L251.5 313.4L252.4 313.5L253.3 313.5L254.2 313.7L255.1 313.2L255.5 313.3L255.7 313.4L255.9 313.4L256.0 313.3L256.1 313.4L256.3 313.3L256.5 313.7L256.7 313.4L256.9 313.0L257.1 313.6L257.3 313.5L257.5 313.3L257.7 313.2L257.8 313.3L257.9 313.8L258.1 313.3L258.3 313.7L258.5 313.6L258.7 313.3L258.9 313.5L259.1 313.2L259.3 312.7L259.5 313.2L259.6 313.3L259.7 313.6L259.9 313.5L260.1 313.6L260.3 313.5L260.5 313.6L260.7 313.5L260.9 313.4L261.1 313.6L261.3 313.7L261.4 313.6L261.5 313.2L261.7 313.3L261.9 313.1L262.1 313.1L262.3 313.4L262.5 313.2L262.7 313.6L262.9 312.8L263.1 313.0L263.2 313.3L263.3 313.5L263.5 313.2L263.7 313.6L263.9 313.4L264.1 313.0L264.3 313.2L264.5 313.3L264.7 312.9L264.9 313.3L265.0 313.0L265.1 313.2L265.3 313.3L265.9 312.9L266.8 313.1L267.7 312.2L268.3 312.5L268.5 311.9L268.6 312.5L268.7 312.1L268.9 312.3L269.1 312.2L269.3 311.7L269.5 311.4L269.7 311.5L269.9 310.6L270.1 310.6L270.3 309.9L270.4 309.5L270.5 309.1L270.7 308.8L270.9 307.0L271.1 306.0L271.3 304.7L271.5 303.2L271.7 301.4L271.9 299.2L272.1 296.6L272.2 295.7L272.3 294.7L272.5 292.4L272.7 289.9L272.9 288.6L273.1 287.4L273.3 286.4L273.5 286.6L273.7 287.4L273.9 288.6L274.0 289.5L274.1 290.2L274.3 291.6L274.5 293.0L274.7 294.2L274.9 295.2L275.1 296.0L275.3 296.3L275.5 296.4L275.7 296.0L275.8 295.2L275.9 294.8L276.1 293.5L276.3 291.9L276.5 290.5L276.7 289.0L276.9 287.6L277.1 286.8L277.3 286.8L277.5 287.0L277.6 287.6L277.7 288.4L277.9 289.8L278.1 291.4L278.3 294.1L278.5 296.0L278.7 298.2L278.9 300.2L279.1 302.7L279.3 303.8L279.4 305.0L279.5 305.8L279.7 307.1L279.9 308.0L280.1 309.0L280.3 309.8L280.5 310.1L280.7 311.0L280.9 311.4L281.1 311.3L281.2 311.4L281.3 311.5L281.5 312.1L281.7 311.8L281.9 312.1L282.1 311.9L283.0 312.9L283.9 312.8L284.8 313.0L285.7 313.4L286.6 313.3L287.5 313.0L288.4 313.4L289.3 313.5L290.2 313.1L291.1 313.1L292.0 313.2L292.9 313.6L293.8 313.4L294.7 313.2L295.6 313.5L296.5 313.5L297.4 313.1L298.3 312.9L299.2 313.5L300.1 313.7L300.7 313.3L300.9 313.2L301.0 313.0L301.1 312.8L301.3 312.9L301.5 312.9L301.7 312.6L301.9 312.7L302.1 312.4L302.3 312.3L302.5 311.3L302.7 311.4L302.8 311.6L302.9 311.4L303.1 310.8L303.3 310.5L303.5 309.6L303.7 308.8L303.9 307.6L304.1 306.9L304.3 305.9L304.5 305.0L304.6 304.4L304.7 303.6L304.9 302.6L305.1 301.4L305.3 301.0L305.5 300.2L305.7 300.2L305.9 300.4L306.1 301.2L306.3 301.8L306.4 301.8L306.5 302.1L306.7 303.4L306.9 304.3L307.1 305.7L307.3 306.7L307.5 307.8L307.7 308.3L307.9 309.2L308.1 310.1L308.2 310.4L308.3 310.5L308.5 311.0L308.7 311.7L308.9 311.5L309.1 312.1L309.3 312.3L309.5 312.2L309.7 312.4L309.9 312.8L310.0 312.7L310.1 313.1L310.3 313.1L310.5 313.5L310.9 312.8L311.8 313.6L312.7 313.2L313.6 313.6L314.5 313.6L315.4 313.5L316.3 313.4L317.2 313.4L318.1 313.1L319.0 313.5L319.9 313.4L320.8 313.7L321.7 313.4" fill="none" stroke="#111111" stroke-width="0.85" stroke-linejoin="round"/>
<path d="M19.3 313.4L20.2 313.5L21.1 313.4L22.0 313.3L22.9 313.2L23.8 313.1L24.7 313.2L25.6 313.1L26.5 312.6L27.4 312.9L27.6 312.5L27.8 312.0L28.0 312.8L28.2 312.2L28.3 311.8L28.4 312.3L28.6 311.2L28.8 312.1L29.0 311.0L29.2 310.6L29.4 310.3L29.6 310.0L29.8 309.2L30.0 308.4L30.1 307.4L30.2 307.1L30.4 305.2L30.6 302.6L30.8 300.2L31.0 296.6L31.2 292.5L31.4 288.2L31.6 282.8L31.8 278.0L31.9 276.0L32.0 273.3L32.2 269.6L32.4 267.0L32.6 266.0L32.8 267.3L33.0 269.8L33.2 274.2L33.4 278.7L33.6 283.9L33.7 286.1L33.8 288.9L34.0 293.3L34.2 297.4L34.4 300.4L34.6 303.0L34.8 304.9L35.0 306.8L35.2 308.3L35.4 309.4L35.5 309.6L35.6 310.0L35.8 310.2L36.0 310.7L36.2 311.4L36.4 311.6L36.6 311.4L36.8 311.8L37.0 312.0L37.2 311.8L37.3 312.2L37.4 312.3L37.6 312.4L37.8 312.8L38.0 312.2L38.2 312.8L38.4 312.7L38.6 312.8L38.8 312.5L39.0 312.7L39.1 312.7L39.2 313.1L39.4 312.7L39.6 313.1L39.8 312.7L40.0 312.7L40.2 312.8L40.4 312.3L40.6 312.7L40.8 312.6L40.9 312.7L41.0 312.8L41.2 312.5L41.4 312.5L41.6 312.9L41.8 312.4L41.9 312.4L42.0 312.3L42.1 312.3L42.2 312.7L42.3 312.6L42.4 311.8L42.5 312.0L42.6 312.3L42.7 311.8L42.8 311.7L42.9 311.9L43.0 311.8L43.1 311.4L43.2 310.7L43.3 310.5L43.4 310.3L43.5 309.9L43.6 309.5L43.7 309.7L43.8 308.9L43.9 308.7L44.0 308.4L44.1 307.9L44.2 307.4L44.3 307.1L44.4 307.1L44.5 306.6L44.6 305.8L44.7 306.3L44.8 306.2L44.9 305.7L45.0 305.5L45.1 305.4L45.2 305.6L45.3 305.0L45.4 305.2L45.5 305.1L45.6 304.7L45.7 304.4L45.8 303.9L45.9 303.6L46.0 303.4L46.1 302.8L46.2 302.6L46.3 302.1L46.4 302.3L46.5 302.1L46.6 301.3L46.7 301.7L46.8 301.4L46.9 301.4L47.0 301.7L47.1 302.0L47.2 301.9L47.3 303.2L47.4 303.0L47.5 303.2L47.6 304.3L47.7 305.0L47.8 305.4L47.9 305.8L48.0 307.1L48.1 307.4L48.2 308.0L48.3 308.4L48.4 308.9L48.5 309.3L48.6 309.9L48.7 310.2L48.8 310.7L48.9 311.1L49.0 311.2L49.1 311.5L49.2 311.9L49.3 311.5L49.4 312.0L49.5 312.5L49.7 312.2L49.9 312.7L50.1 312.6L50.3 312.8L50.5 312.8L50.7 312.9L50.8 313.1L50.9 313.0L51.1 312.6L51.3 313.6L51.5 313.1L51.7 313.1L52.6 313.5L53.5 313.6L54.4 312.9L55.3 313.5L56.2 313.0L57.1 313.3L58.0 313.5L58.9 313.4L59.8 313.4L60.7 313.2L61.6 313.4L62.5 313.5L63.4 313.5L64.3 313.2L65.2 313.3L66.1 313.7L67.0 313.7L67.9 313.4L68.8 313.6L69.7 313.6L70.6 313.7L71.5 313.6L72.4 313.4L73.3 313.3L74.2 313.5L75.1 313.0L76.0 313.5L76.9 312.8L77.8 313.2L78.7 313.3L79.6 313.5L80.5 314.0L81.4 313.4L82.3 313.3L83.2 312.9L84.1 313.6L85.0 312.8L85.1 313.3L85.3 313.1L85.5 313.8L85.7 313.2L85.9 313.3L86.1 313.0L86.3 313.1L86.5 313.4L86.7 312.9L86.8 313.0L86.9 313.0L87.1 312.9L87.3 312.8L87.5 313.1L87.7 313.3L87.9 313.3L88.1 312.7L88.3 312.8L88.5 312.9L88.6 313.0L88.7 312.9L88.9 312.9L89.1 313.0L89.3 313.0L89.5 312.3L89.7 312.7L89.9 312.9L90.1 313.0L90.3 312.8L90.4 312.5L90.5 312.5L90.7 312.6L90.9 312.5L91.1 312.6L91.3 312.7L91.5 312.1L91.7 312.2L91.9 311.7L92.1 312.3L92.2 312.1L92.3 311.9L92.5 312.0L92.7 312.1L92.9 311.9L93.1 311.5L93.3 311.2L93.5 311.1L93.7 310.6L93.9 310.2L94.0 310.2L94.1 310.1L94.3 309.7L94.5 309.0L94.7 308.3L94.9 307.9L95.1 307.1L95.3 306.4L95.4 306.3L95.5 305.8L95.6 305.0L95.7 304.6L95.8 303.9L95.9 303.9L96.0 303.3L96.1 302.7L96.2 302.4L96.3 302.4L96.4 301.9L96.5 301.5L96.6 301.4L96.7 300.7L96.8 300.3L96.9 300.2L97.0 299.3L97.1 299.4L97.2 299.0L97.3 298.5L97.4 298.0L97.5 297.0L97.6 296.3L97.7 295.0L97.8 294.2L97.9 292.9L98.0 291.6L98.1 290.2L98.2 288.0L98.3 286.0L98.4 283.2L98.5 280.7L98.6 277.4L98.7 274.5L98.8 271.0L98.9 267.5L99.0 263.6L99.1 259.5L99.2 255.2L99.3 251.3L99.4 246.6L99.5 241.8L99.6 238.1L99.7 234.1L99.8 230.4L99.9 227.1L100.0 223.5L100.1 221.3L100.2 219.5L100.3 218.1L100.4 217.7L100.5 219.0L100.6 219.8L100.7 221.9L100.8 224.6L100.9 227.7L101.0 231.5L101.1 235.1L101.2 239.6L101.3 244.1L101.4 248.4L101.5 253.0L101.6 257.5L101.8 266.2L102.0 273.7L102.1 277.6L102.2 281.1L102.4 287.3L102.6 292.2L102.8 296.5L103.0 299.5L103.2 302.0L103.4 304.5L103.6 305.6L103.8 306.7L103.9 307.2L104.0 307.9L104.2 308.1L104.4 309.1L104.6 309.7L104.8 310.0L105.0 310.1L105.2 310.2L105.7 310.7L106.6 311.6L107.5 312.3L108.4 312.5L109.3 312.8L110.2 312.8L111.1 313.3L112.0 313.0L112.9 313.0L113.8 313.2L114.7 313.1L115.6 313.5L116.5 313.6L117.4 313.5L118.3 313.1L119.2 313.1L120.1 313.5L121.0 313.1L121.9 313.5L122.8 313.1L123.7 313.3L124.6 313.5L125.5 313.3L126.4 313.6L127.3 313.6L128.2 313.7L129.1 313.3L130.0 313.3L130.9 313.3L131.6 313.3L131.8 312.8L132.0 313.2L132.2 313.2L132.4 312.7L132.6 312.6L132.7 312.9L132.8 313.3L133.0 312.9L133.2 312.5L133.4 312.5L133.6 312.0L133.8 312.4L134.0 311.6L134.2 311.4L134.4 310.4L134.5 310.4L134.6 309.8L134.8 309.4L135.0 308.7L135.2 307.6L135.4 306.3L135.6 305.3L135.8 303.6L136.0 302.5L136.2 301.9L136.3 301.9L136.4 301.4L136.6 301.4L136.8 301.1L137.0 302.0L137.2 302.8L137.4 304.1L137.6 305.6L137.8 306.5L138.0 307.7L138.1 307.9L138.2 308.4L138.4 309.6L138.6 310.2L138.8 310.5L139.0 311.6L139.2 312.0L139.4 312.2L139.6 312.5L139.8 312.7L139.9 312.5L140.0 312.3L140.2 313.2L140.4 312.9L140.6 313.0L140.8 313.1L141.0 313.1L141.2 313.2L141.4 313.0L141.7 313.3L142.6 313.4L143.5 313.4L144.4 313.4L145.3 313.5L146.2 313.3L147.1 313.5L148.0 313.5L148.9 313.6L149.8 313.8L150.7 313.7L151.6 313.8L152.5 313.5L153.4 313.7L154.3 313.8L155.2 313.5L156.1 313.5L157.0 314.0L157.9 313.2L158.8 313.6L159.7 313.6L160.6 313.4L161.5 313.6L162.4 313.7L163.3 313.1L164.2 313.8L165.1 313.6L166.0 313.4L166.9 313.8L167.8 313.6L168.7 313.5L169.6 313.1L170.5 313.8L171.4 313.6L172.3 313.5L173.2 313.6L174.1 313.9L175.0 313.5L175.9 313.6L176.8 313.5L177.7 313.4L178.6 313.4L179.5 313.5L180.4 313.6L181.3 313.9L182.2 313.6L183.1 313.6L184.0 313.7L184.9 313.6L185.8 313.8L186.7 313.3L187.6 313.1L188.5 313.7L189.4 313.5L190.3 313.7L191.2 313.3L192.1 313.5L193.0 313.6L193.9 313.7L194.8 313.6L195.7 313.8L196.6 313.5L197.5 313.8L198.4 313.5L199.3 313.6L200.2 313.4L201.1 313.6L202.0 313.4L202.9 313.8L203.8 313.5L204.7 313.6L205.6 313.6L206.5 313.6L207.4 313.4L208.3 314.0L209.2 313.5L210.1 313.9L211.0 313.3L211.9 314.0L212.8 313.7L213.7 313.9L214.6 313.1L215.5 313.7L216.4 313.4L217.3 313.4L218.2 313.6L218.5 313.3L218.7 313.0L218.9 313.1L219.1 312.8L219.3 313.1L219.5 312.9L219.7 312.9L219.9 312.6L220.0 312.2L220.1 312.4L220.3 312.3L220.5 312.2L220.7 311.9L220.9 311.0L221.1 311.1L221.3 310.5L221.5 309.6L221.7 308.9L221.8 307.9L221.9 308.4L222.1 306.8L222.3 305.7L222.5 305.1L222.7 303.9L222.9 302.7L223.1 301.7L223.3 301.7L223.5 301.6L223.6 301.1L223.7 301.0L223.9 301.9L224.1 303.0L224.3 303.1L224.5 304.5L224.7 305.2L224.9 306.6L225.1 307.6L225.3 308.6L225.4 308.6L225.5 309.0L225.7 310.5L225.9 310.9L226.1 310.8L226.3 311.7L226.5 312.3L226.7 312.2L226.9 312.5L227.1 312.7L227.2 312.8L227.3 312.8L227.5 313.0L227.7 312.9L227.9 313.2L228.1 313.1L228.3 313.2L229.0 313.0L229.9 313.3L230.8 313.4L231.7 313.3L232.6 313.4L233.5 313.3L234.4 313.4L235.3 313.1L236.2 313.2L237.1 313.6L238.0 313.7L238.9 313.4L239.8 313.5L240.7 313.6L241.6 313.9L242.5 314.0L243.4 313.5L244.3 313.4L245.2 313.4L246.1 313.9L247.0 313.4L247.9 313.7L248.8 313.5L249.7 313.5L250.6 313.8L251.5 313.7L252.4 314.0L253.3 313.8L254.2 314.0L255.1 313.5L255.5 313.5L255.7 313.3L255.9 313.5L256.0 313.7L256.1 313.5L256.3 313.6L256.5 313.4L256.7 313.5L256.9 313.8L257.1 313.5L257.3 313.5L257.5 313.6L257.7 313.3L257.8 313.2L257.9 313.6L258.1 313.6L258.3 314.0L258.5 313.5L258.7 313.6L258.9 314.0L259.1 313.4L259.3 313.4L259.5 313.7L259.6 313.6L259.7 313.7L259.9 313.3L260.1 313.8L260.3 313.6L260.5 313.1L260.7 313.5L260.9 313.4L261.1 313.5L261.3 313.7L261.4 313.5L261.5 313.4L261.7 313.7L261.9 313.4L262.1 313.2L262.3 313.2L262.5 313.8L262.7 313.6L262.9 313.8L263.1 313.2L263.2 313.3L263.3 313.3L263.5 313.6L263.7 313.7L263.9 313.4L264.1 313.4L264.3 313.6L264.5 313.3L264.7 313.2L264.9 313.3L265.0 313.6L265.1 313.8L265.3 313.4L265.9 313.2L266.8 313.2L267.7 313.1L268.3 313.1L268.5 312.7L268.6 312.9L268.7 312.8L268.9 313.0L269.1 312.8L269.3 312.5L269.5 312.7L269.7 312.6L269.9 312.2L270.1 311.6L270.3 311.6L270.4 311.1L270.5 311.3L270.7 310.9L270.9 310.5L271.1 309.7L271.3 308.5L271.5 307.8L271.7 306.7L271.9 305.6L272.1 304.6L272.2 304.1L272.3 303.4L272.5 302.1L272.7 301.1L272.9 300.1L273.1 299.6L273.3 299.4L273.5 299.3L273.7 299.7L273.9 299.8L274.0 300.9L274.1 300.8L274.3 300.9L274.5 302.2L274.7 303.0L274.9 303.1L275.1 303.0L275.3 303.2L275.5 302.7L275.7 302.2L275.8 301.9L275.9 300.7L276.1 300.4L276.3 299.4L276.5 298.2L276.7 297.0L276.9 296.1L277.1 295.4L277.3 295.4L277.5 296.0L277.6 295.9L277.7 296.5L277.9 297.6L278.1 299.2L278.3 300.5L278.5 302.0L278.7 303.4L278.9 305.1L279.1 306.1L279.3 307.3L279.4 308.1L279.5 308.5L279.7 309.4L279.9 309.8L280.1 311.1L280.3 311.1L280.5 311.8L280.7 311.9L280.9 311.8L281.1 312.4L281.2 312.3L281.3 312.6L281.5 312.1L281.7 312.4L281.9 312.4L282.1 313.0L283.0 313.2L283.9 312.9L284.8 313.3L285.7 313.3L286.6 313.3L287.5 313.7L288.4 313.2L289.3 313.4L290.2 313.3L291.1 313.6L292.0 313.4L292.9 313.6L293.8 313.3L294.7 313.2L295.6 313.3L296.5 313.3L297.4 313.3L298.3 314.0L299.2 313.2L300.1 313.3L300.7 313.2L300.9 313.2L301.0 313.5L301.1 313.3L301.3 312.9L301.5 312.7L301.7 313.1L301.9 313.1L302.1 312.4L302.3 312.8L302.5 312.0L302.7 312.2L302.8 312.3L302.9 311.7L303.1 311.2L303.3 311.5L303.5 310.4L303.7 310.2L303.9 309.2L304.1 309.0L304.3 308.5L304.5 307.3L304.6 306.8L304.7 306.2L304.9 305.5L305.1 305.1L305.3 304.8L305.5 304.5L305.7 304.3L305.9 304.5L306.1 304.7L306.3 305.7L306.4 305.4L306.5 305.8L306.7 305.9L306.9 307.1L307.1 308.1L307.3 308.6L307.5 309.7L307.7 310.2L307.9 311.0L308.1 310.8L308.2 311.2L308.3 311.8L308.5 311.9L308.7 312.0L308.9 312.3L309.1 312.5L309.3 312.9L309.5 313.0L309.7 312.9L309.9 312.8L310.0 313.3L310.1 313.3L310.3 312.9L310.5 313.4L310.9 313.0L311.8 313.3L312.7 313.2L313.6 313.1L314.5 313.3L315.4 313.3L316.3 313.7L317.2 313.7L318.1 313.4L319.0 313.2L319.9 313.3L320.8 313.1L321.7 313.5" fill="none" stroke="#e0202a" stroke-width="0.85" stroke-linejoin="round"/>
<path d="M19.3 313.4L20.2 313.2L21.1 313.4L22.0 313.4L22.9 313.5L23.8 313.0L24.7 313.4L25.6 312.9L26.5 313.1L27.4 312.3L27.6 312.7L27.8 312.2L28.0 312.6L28.2 312.3L28.3 311.8L28.4 312.2L28.6 311.9L28.8 311.8L29.0 312.0L29.2 311.1L29.4 310.7L29.6 310.5L29.8 309.5L30.0 308.9L30.1 308.4L30.2 307.5L30.4 306.1L30.6 303.4L30.8 301.7L31.0 298.1L31.2 294.4L31.4 291.0L31.6 286.5L31.8 281.5L31.9 279.6L32.0 277.4L32.2 273.7L32.4 271.7L32.6 271.1L32.8 272.5L33.0 274.4L33.2 278.3L33.4 282.3L33.6 286.7L33.7 289.3L33.8 290.7L34.0 294.9L34.2 298.4L34.4 301.8L34.6 304.1L34.8 306.0L35.0 307.4L35.2 308.7L35.4 309.1L35.5 309.5L35.6 309.7L35.8 310.2L36.0 309.9L36.2 310.2L36.4 310.7L36.6 310.0L36.8 309.4L37.0 308.6L37.2 308.2L37.3 307.7L37.4 307.4L37.6 306.3L37.8 305.6L38.0 305.0L38.2 304.5L38.4 304.1L38.6 304.6L38.8 305.5L39.0 305.8L39.1 306.5L39.2 306.8L39.4 307.7L39.6 308.5L39.8 309.3L40.0 310.3L40.2 310.8L40.4 311.5L40.6 311.1L40.8 311.6L40.9 311.5L41.0 312.0L41.2 312.4L41.4 311.7L41.6 312.0L41.8 311.9L41.9 311.9L42.0 311.7L42.1 311.7L42.2 312.0L42.3 311.3L42.4 311.6L42.5 311.4L42.6 310.7L42.7 310.7L42.8 310.7L42.9 310.8L43.0 310.0L43.1 309.6L43.2 309.4L43.3 309.2L43.4 308.7L43.5 308.3L43.6 307.5L43.7 306.8L43.8 306.2L43.9 306.0L44.0 305.3L44.1 304.7L44.2 304.4L44.3 303.8L44.4 302.9L44.5 302.9L44.6 302.5L44.7 302.5L44.8 302.2L44.9 302.4L45.0 302.0L45.1 301.6L45.2 301.3L45.3 301.4L45.4 301.4L45.5 301.4L45.6 301.3L45.7 301.0L45.8 300.5L45.9 300.5L46.0 299.8L46.1 299.8L46.2 299.6L46.3 299.1L46.4 298.9L46.5 298.5L46.6 297.7L46.7 297.9L46.8 297.8L46.9 297.7L47.0 297.9L47.1 298.7L47.2 298.8L47.3 299.5L47.4 300.3L47.5 300.9L47.6 302.1L47.7 302.7L47.8 303.4L47.9 304.0L48.0 305.0L48.1 305.7L48.2 306.1L48.3 306.7L48.4 307.5L48.5 308.0L48.6 308.9L48.7 309.4L48.8 309.7L48.9 310.2L49.0 310.6L49.1 310.4L49.2 311.1L49.3 311.5L49.4 311.4L49.5 311.3L49.7 312.0L49.9 312.0L50.1 312.5L50.3 312.7L50.5 312.8L50.7 312.8L50.8 312.4L50.9 313.1L51.1 312.5L51.3 313.2L51.5 313.0L51.7 312.8L52.6 313.0L53.5 313.2L54.4 313.7L55.3 313.3L56.2 313.6L57.1 312.8L58.0 313.5L58.9 313.4L59.8 313.7L60.7 313.6L61.6 313.8L62.5 313.3L63.4 313.5L64.3 313.4L65.2 313.6L66.1 313.6L67.0 313.2L67.9 313.7L68.8 313.9L69.7 313.4L70.6 313.7L71.5 313.6L72.4 313.3L73.3 313.6L74.2 313.2L75.1 313.6L76.0 313.1L76.9 313.1L77.8 313.5L78.7 313.4L79.6 313.5L80.5 313.2L81.4 313.0L82.3 313.5L83.2 312.9L84.1 313.3L85.0 313.0L85.1 313.2L85.3 312.3L85.5 312.7L85.7 312.6L85.9 312.7L86.1 312.3L86.3 312.9L86.5 312.3L86.7 311.7L86.8 312.2L86.9 312.0L87.1 311.7L87.3 311.7L87.5 311.2L87.7 310.5L87.9 310.1L88.1 309.2L88.3 308.4L88.5 307.0L88.6 306.4L88.7 305.4L88.9 303.9L89.1 302.4L89.3 301.1L89.5 298.8L89.7 297.4L89.9 296.8L90.1 296.8L90.3 296.9L90.4 296.9L90.5 297.8L90.7 299.0L90.9 300.5L91.1 301.9L91.3 303.8L91.5 305.3L91.7 306.7L91.9 307.3L92.1 308.3L92.2 308.9L92.3 309.5L92.5 309.8L92.7 309.8L92.9 310.3L93.1 310.0L93.3 310.1L93.5 310.0L93.7 309.7L93.9 309.5L94.0 309.6L94.1 309.3L94.3 308.3L94.5 308.5L94.7 307.8L94.9 306.7L95.1 306.2L95.3 305.6L95.4 305.2L95.5 304.4L95.6 303.8L95.7 303.3L95.8 303.1L95.9 302.5L96.0 302.5L96.1 301.8L96.2 301.6L96.3 301.0L96.4 300.5L96.5 300.0L96.6 300.1L96.7 299.3L96.8 299.3L96.9 299.1L97.0 298.6L97.1 298.5L97.2 297.8L97.3 297.3L97.4 296.8L97.5 296.0L97.6 295.4L97.7 294.5L97.8 293.7L97.9 292.2L98.0 290.9L98.1 289.2L98.2 287.3L98.3 285.1L98.4 283.1L98.5 280.5L98.6 277.3L98.7 274.0L98.8 270.7L98.9 266.9L99.0 263.0L99.1 259.1L99.2 255.0L99.3 251.0L99.4 246.6L99.5 242.2L99.6 237.8L99.7 233.7L99.8 230.0L99.9 226.5L100.0 223.4L100.1 221.1L100.2 219.3L100.3 218.3L100.4 218.2L100.5 218.8L100.6 219.8L100.7 221.8L100.8 224.6L100.9 227.8L101.0 230.8L101.1 235.5L101.2 239.7L101.3 244.0L101.4 248.8L101.5 253.0L101.6 257.1L101.8 265.9L102.0 273.8L102.1 277.5L102.2 280.9L102.4 286.8L102.6 292.1L102.8 296.2L103.0 299.4L103.2 301.8L103.4 303.9L103.6 305.4L103.8 307.2L103.9 306.9L104.0 307.1L104.2 308.0L104.4 309.0L104.6 309.5L104.8 309.7L105.0 310.3L105.2 310.2L105.7 311.0L106.6 311.4L107.5 311.7L108.4 312.8L109.3 312.5L110.2 312.9L111.1 313.2L112.0 313.1L112.9 313.1L113.8 312.9L114.7 313.5L115.6 313.0L116.5 312.8L117.4 313.2L118.3 313.2L119.2 313.4L120.1 313.6L121.0 313.3L121.9 313.3L122.8 313.3L123.7 312.9L124.6 313.3L125.5 313.3L126.4 313.1L127.3 313.7L128.2 313.7L129.1 313.5L130.0 313.5L130.9 313.1L131.6 313.3L131.8 312.8L132.0 312.8L132.2 313.0L132.4 313.2L132.6 312.9L132.7 312.8L132.8 313.2L133.0 312.8L133.2 312.7L133.4 312.6L133.6 312.2L133.8 312.0L134.0 312.2L134.2 311.6L134.4 311.4L134.5 310.8L134.6 310.8L134.8 309.8L135.0 309.1L135.2 308.1L135.4 307.4L135.6 306.7L135.8 305.1L136.0 304.6L136.2 303.5L136.3 303.5L136.4 303.2L136.6 302.8L136.8 303.3L137.0 303.6L137.2 305.0L137.4 305.4L137.6 306.6L137.8 307.5L138.0 308.4L138.1 308.8L138.2 308.9L138.4 310.5L138.6 310.7L138.8 311.4L139.0 311.4L139.2 312.2L139.4 312.2L139.6 312.6L139.8 312.6L139.9 312.6L140.0 312.9L140.2 312.9L140.4 313.3L140.6 313.0L140.8 312.9L141.0 313.3L141.2 313.0L141.4 313.7L141.7 313.7L142.6 313.7L143.5 313.5L144.4 313.5L145.3 313.5L146.2 313.5L147.1 313.4L148.0 313.6L148.9 313.8L149.8 313.8L150.7 313.1L151.6 314.1L152.5 313.6L153.4 313.3L154.3 313.5L155.2 313.8L156.1 313.6L157.0 313.4L157.9 313.3L158.8 313.8L159.7 313.4L160.6 313.5L161.5 313.4L162.4 313.3L163.3 313.7L164.2 313.9L165.1 313.5L166.0 313.2L166.9 313.5L167.8 313.6L168.7 313.1L169.6 313.8L170.5 313.4L171.4 313.7L172.3 313.6L173.2 313.6L174.1 313.3L175.0 313.8L175.9 313.7L176.8 314.0L177.7 313.5L178.6 313.7L179.5 313.5L180.4 313.9L181.3 313.7L182.2 313.4L183.1 313.7L184.0 313.5L184.9 313.5L185.8 313.7L186.7 314.0L187.6 313.4L188.5 313.6L189.4 313.4L190.3 314.1L191.2 314.0L192.1 314.1L193.0 313.8L193.9 313.4L194.8 313.5L195.7 313.6L196.6 313.6L197.5 313.4L198.4 313.7L199.3 313.5L200.2 313.6L201.1 314.1L202.0 313.7L202.9 313.3L203.8 313.7L204.7 313.6L205.6 313.7L206.5 313.7L207.4 313.3L208.3 313.6L209.2 313.8L210.1 314.2L211.0 313.7L211.9 314.0L212.8 313.9L213.7 313.3L214.6 313.3L215.5 313.9L216.4 313.2L217.3 313.2L218.2 313.4L218.5 313.0L218.7 313.5L218.9 313.4L219.1 313.4L219.3 313.2L219.5 312.7L219.7 313.1L219.9 312.9L220.0 312.8L220.1 312.5L220.3 312.4L220.5 311.9L220.7 311.9L220.9 311.6L221.1 311.0L221.3 310.3L221.5 309.8L221.7 308.7L221.8 307.9L221.9 308.0L222.1 306.9L222.3 305.6L222.5 304.9L222.7 303.9L222.9 303.0L223.1 301.9L223.3 301.4L223.5 301.3L223.6 301.3L223.7 301.1L223.9 301.6L224.1 302.8L224.3 303.4L224.5 304.4L224.7 305.3L224.9 306.6L225.1 307.7L225.3 308.6L225.4 309.3L225.5 309.3L225.7 310.2L225.9 310.6L226.1 311.4L226.3 311.7L226.5 312.2L226.7 312.5L226.9 312.3L227.1 312.7L227.2 312.6L227.3 313.0L227.5 312.8L227.7 313.3L227.9 313.1L228.1 313.2L228.3 313.0L229.0 313.2L229.9 313.4L230.8 313.2L231.7 313.4L232.6 313.3L233.5 313.3L234.4 313.5L235.3 313.6L236.2 313.4L237.1 313.6L238.0 313.4L238.9 313.3L239.8 313.3L240.7 313.6L241.6 313.8L242.5 313.5L243.4 313.6L244.3 313.3L245.2 313.6L246.1 313.5L247.0 313.3L247.9 313.6L248.8 313.5L249.7 313.1L250.6 313.1L251.5 313.2L252.4 313.3L253.3 313.4L254.2 313.0L255.1 312.8L255.5 312.6L255.7 312.7L255.9 312.5L256.0 312.4L256.1 312.3L256.3 311.9L256.5 312.0L256.7 312.3L256.9 311.9L257.1 311.9L257.3 311.5L257.5 311.0L257.7 310.8L257.8 310.9L257.9 310.6L258.1 310.5L258.3 310.4L258.5 310.2L258.7 309.8L258.9 309.1L259.1 309.4L259.3 308.6L259.5 308.4L259.6 308.6L259.7 308.5L259.9 308.5L260.1 308.2L260.3 308.0L260.5 308.1L260.7 307.9L260.9 308.0L261.1 308.2L261.3 308.4L261.4 308.5L261.5 308.5L261.7 309.0L261.9 308.9L262.1 309.2L262.3 309.7L262.5 309.3L262.7 310.2L262.9 310.4L263.1 310.4L263.2 311.0L263.3 310.9L263.5 311.2L263.7 311.3L263.9 311.3L264.1 311.4L264.3 311.4L264.5 311.6L264.7 311.7L264.9 311.9L265.0 312.2L265.1 311.9L265.3 312.4L265.9 312.6L266.8 312.3L267.7 312.4L268.3 312.4L268.5 312.2L268.6 312.2L268.7 312.6L268.9 312.3L269.1 312.4L269.3 312.0L269.5 312.0L269.7 311.3L269.9 311.2L270.1 311.2L270.3 310.6L270.4 310.6L270.5 310.0L270.7 309.3L270.9 308.5L271.1 308.0L271.3 306.5L271.5 304.9L271.7 303.5L271.9 301.6L272.1 300.4L272.2 299.1L272.3 298.5L272.5 296.6L272.7 294.9L272.9 293.5L273.1 292.8L273.3 292.2L273.5 292.6L273.7 293.2L273.9 293.7L274.0 294.4L274.1 295.4L274.3 296.6L274.5 297.8L274.7 298.7L274.9 299.8L275.1 300.7L275.3 301.7L275.5 301.6L275.7 301.3L275.8 301.2L275.9 301.0L276.1 300.5L276.3 299.3L276.5 298.6L276.7 298.1L276.9 297.6L277.1 296.6L277.3 297.1L277.5 297.0L277.6 297.2L277.7 298.2L277.9 298.9L278.1 300.3L278.3 301.4L278.5 302.8L278.7 303.8L278.9 305.4L279.1 306.7L279.3 307.5L279.4 308.3L279.5 308.8L279.7 309.0L279.9 310.4L280.1 310.8L280.3 311.2L280.5 311.8L280.7 312.3L280.9 311.8L281.1 312.4L281.2 312.4L281.3 312.4L281.5 312.7L281.7 312.8L281.9 312.6L282.1 312.2L283.0 312.8L283.9 312.9L284.8 313.5L285.7 313.3L286.6 313.6L287.5 313.2L288.4 313.4L289.3 313.4L290.2 313.5L291.1 313.6L292.0 313.8L292.9 313.3L293.8 313.8L294.7 313.7L295.6 313.5L296.5 313.6L297.4 313.4L298.3 313.2L299.2 313.3L300.1 313.2L300.7 313.2L300.9 313.0L301.0 313.6L301.1 313.1L301.3 313.3L301.5 313.3L301.7 313.0L301.9 312.9L302.1 312.6L302.3 312.4L302.5 312.9L302.7 312.2L302.8 311.6L302.9 311.7L303.1 311.3L303.3 311.2L303.5 311.0L303.7 310.4L303.9 309.4L304.1 308.7L304.3 308.3L304.5 307.5L304.6 307.0L304.7 307.0L304.9 306.0L305.1 304.9L305.3 304.3L305.5 304.4L305.7 303.9L305.9 304.5L306.1 304.8L306.3 305.7L306.4 305.2L306.5 305.9L306.7 306.0L306.9 307.2L307.1 308.0L307.3 309.1L307.5 309.1L307.7 310.1L307.9 310.7L308.1 311.6L308.2 311.1L308.3 311.3L308.5 312.0L308.7 312.1L308.9 312.3L309.1 312.4L309.3 312.7L309.5 312.5L309.7 313.0L309.9 313.2L310.0 313.2L310.1 313.7L310.3 313.3L310.5 313.0L310.9 313.2L311.8 313.5L312.7 313.3L313.6 313.9L314.5 313.6L315.4 313.4L316.3 313.4L317.2 313.7L318.1 313.4L319.0 313.2L319.9 313.7L320.8 313.4L321.7 313.9" fill="none" stroke="#2a18c8" stroke-width="0.85" stroke-linejoin="round"/>
<path d="M19.3 461.4L20.2 460.8L21.1 460.8L22.0 460.8L22.9 460.8L23.8 460.7L24.7 460.3L25.6 459.9L26.5 460.0L27.4 459.9L27.8 459.0L28.0 459.0L28.2 458.8L28.3 458.9L28.4 458.3L28.6 458.6L28.8 458.2L29.0 458.4L29.2 457.7L29.4 457.2L29.6 456.4L29.8 455.4L30.0 454.5L30.1 453.2L30.2 453.0L30.4 450.7L30.6 447.7L30.8 444.5L31.0 439.6L31.2 434.2L31.4 428.1L31.6 420.6L31.8 413.4L31.9 409.5L32.0 406.0L32.2 399.1L32.4 393.1L32.6 389.4L32.8 388.6L33.0 390.5L33.2 395.8L33.4 402.0L33.6 409.5L33.7 412.6L33.8 416.9L34.0 424.2L34.2 431.1L34.4 436.6L34.6 441.8L34.8 445.8L35.0 449.5L35.2 451.3L35.4 453.3L35.5 454.0L35.6 454.5L35.8 455.9L36.0 456.6L36.2 457.0L36.4 457.5L36.6 458.0L36.8 458.3L37.0 458.6L37.2 458.6L37.3 458.6L37.4 458.9L37.6 458.6L38.2 459.7L39.1 459.8L39.4 459.4L39.6 459.9L39.8 460.2L40.0 459.6L40.2 459.8L40.4 460.1L40.6 459.7L40.8 460.1L40.9 460.1L41.0 459.9L41.2 459.9L41.4 460.0L41.6 459.7L41.8 459.8L42.0 459.4L42.2 459.2L42.4 458.7L42.6 458.6L42.7 458.5L42.8 458.3L43.0 457.4L43.2 456.4L43.4 455.7L43.6 455.2L43.8 454.1L44.0 453.8L44.2 452.7L44.4 452.6L44.5 452.2L44.6 452.1L44.8 452.1L45.0 451.8L45.2 451.7L45.4 450.9L45.6 449.7L45.8 447.7L46.0 446.7L46.2 444.9L46.3 444.1L46.4 442.5L46.6 441.0L46.8 439.0L47.0 437.5L47.2 437.4L47.4 437.3L47.6 438.7L47.8 441.0L48.0 443.4L48.1 444.8L48.2 446.0L48.4 448.1L48.6 450.3L48.8 452.4L49.0 454.1L49.2 455.7L49.4 456.6L49.6 457.9L49.8 458.3L49.9 458.2L50.0 458.5L50.2 459.3L50.4 459.5L50.6 459.4L50.8 459.4L51.0 460.3L51.2 460.2L51.4 460.1L51.6 460.0L51.7 460.5L51.8 460.2L52.0 460.4L52.6 460.0L53.5 460.6L54.4 460.8L55.3 460.9L56.2 460.7L57.1 460.8L58.0 461.2L58.9 460.9L59.8 461.3L60.7 461.2L61.6 461.3L62.5 461.3L63.4 461.2L64.3 461.3L65.2 461.0L66.1 460.9L67.0 461.1L67.9 461.3L68.8 460.9L69.7 461.5L70.6 461.5L71.5 460.9L72.4 460.9L73.3 460.8L74.2 461.1L75.1 461.3L76.0 461.1L76.9 460.9L77.8 461.2L78.7 461.1L79.6 461.3L80.5 461.2L81.4 460.7L82.3 460.8L83.2 461.1L84.1 461.1L85.0 460.9L85.9 460.6L86.8 460.9L87.7 460.6L88.6 460.9L89.5 460.6L90.4 460.1L91.3 459.8L91.7 460.1L91.9 460.0L92.1 459.6L92.2 459.8L92.3 459.8L92.5 459.5L92.7 459.5L92.9 459.2L93.1 459.1L93.3 459.3L93.5 459.1L93.7 459.0L93.9 459.1L94.0 459.0L94.1 458.5L94.3 458.9L94.5 458.1L94.7 458.1L94.9 458.0L95.1 457.6L95.3 457.3L95.4 457.0L95.5 457.2L95.6 457.0L95.7 456.8L95.8 456.2L95.9 456.2L96.0 456.4L96.1 456.0L96.2 455.8L96.3 455.4L96.4 455.0L96.5 454.2L96.6 454.7L96.7 453.6L96.8 453.2L96.9 452.9L97.0 452.1L97.1 451.4L97.2 450.5L97.3 449.3L97.4 448.7L97.5 446.8L97.6 445.7L97.7 443.6L97.8 442.0L97.9 439.7L98.0 437.4L98.1 434.6L98.2 431.9L98.3 428.8L98.4 424.9L98.5 420.9L98.6 416.3L98.7 412.6L98.8 407.3L98.9 401.8L99.0 396.8L99.1 390.9L99.2 384.5L99.3 378.6L99.4 373.0L99.5 366.5L99.6 360.6L99.7 355.1L99.8 349.9L99.9 345.1L100.0 341.2L100.1 337.8L100.2 335.0L100.3 333.7L100.4 332.9L100.5 334.0L100.6 336.1L100.7 338.3L100.8 341.7L100.9 345.9L101.0 350.9L101.1 356.5L101.2 361.7L101.3 368.1L101.4 373.8L101.5 380.1L101.6 386.3L101.8 397.3L102.0 408.8L102.1 413.3L102.2 417.5L102.4 425.8L102.6 432.3L102.8 438.0L103.0 442.5L103.2 445.4L103.4 448.6L103.6 450.7L103.8 452.4L103.9 453.0L104.0 453.3L104.2 454.2L104.4 455.1L104.6 455.9L104.8 456.1L105.0 457.0L105.2 457.1L105.7 457.8L106.6 458.8L107.5 459.2L108.4 459.8L109.3 460.1L110.2 459.7L111.1 460.1L112.0 460.2L112.9 460.5L113.8 460.4L114.7 460.5L115.6 460.5L116.5 460.3L117.4 460.9L118.3 460.8L119.2 460.9L120.1 461.7L121.0 461.2L121.9 460.9L122.8 460.8L123.7 461.1L124.6 460.7L125.5 460.7L126.4 461.0L127.3 460.6L128.2 460.5L129.1 460.8L130.0 461.0L130.9 460.4L131.8 460.6L131.9 460.6L132.1 460.5L132.3 460.6L132.5 460.1L132.7 460.1L132.9 460.0L133.1 460.0L133.3 460.2L133.5 459.8L133.6 459.5L133.7 459.7L133.9 458.6L134.1 458.9L134.3 458.5L134.5 457.5L134.7 456.7L134.9 455.9L135.1 454.8L135.3 453.2L135.4 452.4L135.5 451.6L135.7 450.1L135.9 448.1L136.1 446.2L136.3 444.5L136.5 443.9L136.7 442.4L136.9 441.9L137.1 442.0L137.2 442.3L137.3 442.6L137.5 444.0L137.7 445.8L137.9 447.5L138.1 449.0L138.3 451.3L138.5 452.7L138.7 453.9L138.9 455.4L139.0 456.5L139.1 456.5L139.3 457.6L139.5 458.2L139.7 458.5L139.9 459.1L140.1 459.6L140.3 459.6L140.5 459.9L140.7 460.1L140.8 460.1L140.9 460.2L141.1 460.4L141.3 460.5L141.5 460.5L141.7 460.7L142.6 461.0L143.5 460.5L144.4 461.0L145.3 461.0L146.2 461.0L147.1 461.0L148.0 461.1L148.9 461.1L149.8 461.3L150.7 460.9L151.6 461.3L152.5 460.9L153.4 461.6L154.3 461.4L155.2 460.9L156.1 461.2L157.0 461.3L157.9 461.1L158.8 461.4L159.7 461.2L160.6 461.7L161.5 461.3L162.4 461.3L163.3 461.1L164.2 461.0L165.1 461.4L166.0 460.8L166.9 461.3L167.8 461.6L168.7 461.7L169.6 460.9L170.5 461.2L171.4 461.3L172.3 461.4L173.2 461.4L174.1 460.9L175.0 461.2L175.9 460.8L176.8 461.2L177.7 461.7L178.6 461.0L179.5 461.3L180.4 461.3L181.3 460.9L182.2 461.3L183.1 461.0L184.0 461.2L184.9 461.4L185.8 461.1L186.7 461.3L187.6 460.9L188.5 461.0L189.4 461.2L190.3 461.1L191.2 461.1L192.1 461.3L193.0 461.0L193.9 461.3L194.8 461.1L195.7 461.4L196.6 461.2L197.5 461.1L198.4 461.4L199.3 461.3L200.2 461.3L201.1 461.0L202.0 461.3L202.9 461.1L203.8 460.8L204.7 461.1L205.6 461.5L206.5 461.1L207.4 460.9L208.3 461.2L209.2 460.9L210.1 461.0L211.0 461.0L211.9 461.2L212.8 461.2L213.7 461.1L214.6 461.0L215.5 460.8L216.4 460.8L217.3 460.9L218.2 460.7L218.8 460.5L219.0 460.8L219.1 460.6L219.2 460.6L219.4 460.4L219.6 460.3L219.8 460.2L220.0 460.2L220.2 459.6L220.4 459.5L220.6 459.6L220.8 458.8L220.9 458.8L221.0 457.9L221.2 457.8L221.4 457.0L221.6 456.0L221.8 455.0L222.0 453.8L222.2 452.1L222.4 450.9L222.6 449.2L222.7 448.3L222.8 448.0L223.0 445.9L223.2 444.7L223.4 443.6L223.6 443.3L223.8 442.6L224.0 443.0L224.2 443.9L224.4 444.4L224.5 445.5L224.6 446.4L224.8 447.8L225.0 449.2L225.2 450.7L225.4 452.3L225.6 453.5L225.8 454.7L226.0 456.4L226.2 457.1L226.3 457.6L226.4 457.7L226.6 458.0L226.8 458.7L227.0 459.5L227.2 459.6L227.4 459.5L227.6 460.1L227.8 460.1L228.0 460.2L228.1 460.7L228.2 460.2L228.4 460.3L228.6 460.4L229.0 460.8L229.9 460.9L230.8 461.0L231.7 460.9L232.6 461.0L233.5 461.0L234.4 460.7L235.3 460.8L236.2 461.2L237.1 461.2L238.0 460.7L238.9 461.2L239.8 460.8L240.7 460.8L241.6 461.3L242.5 461.2L243.4 461.1L244.3 461.3L245.2 461.4L246.1 461.2L247.0 461.0L247.9 461.2L248.8 461.2L249.7 461.2L250.6 461.4L251.5 460.8L252.4 461.6L253.3 461.3L254.2 461.0L255.1 461.4L256.0 461.0L256.9 460.8L257.8 461.3L258.7 461.0L259.6 461.3L260.5 460.9L261.4 461.0L262.3 460.9L263.2 460.6L264.1 460.7L265.0 460.5L265.5 460.6L265.7 461.0L265.9 460.6L266.1 460.6L266.3 460.9L266.5 460.3L266.7 460.6L266.8 460.5L266.9 460.7L267.1 460.5L267.3 460.4L267.5 460.5L267.7 460.4L267.9 460.8L268.1 460.0L268.3 460.5L268.5 460.6L268.6 460.3L268.7 460.3L268.8 459.9L268.9 460.2L269.0 459.9L269.1 460.1L269.2 459.3L269.3 459.7L269.4 459.3L269.5 459.9L269.6 459.4L269.7 459.7L269.8 459.2L269.9 459.1L270.0 459.5L270.1 459.3L270.2 459.1L270.3 459.0L270.4 458.7L270.5 458.5L270.6 458.4L270.7 457.8L270.8 457.4L270.9 457.4L271.0 456.9L271.1 456.4L271.2 455.9L271.3 455.5L271.4 454.6L271.5 454.0L271.6 453.4L271.7 452.9L271.8 451.6L271.9 450.9L272.0 450.5L272.1 449.5L272.2 448.2L272.3 447.7L272.4 446.4L272.5 445.4L272.6 444.5L272.7 443.3L272.8 442.5L272.9 441.2L273.0 440.5L273.1 438.6L273.2 437.8L273.3 437.1L273.4 436.6L273.5 435.9L273.6 435.4L273.7 435.1L273.8 435.0L273.9 435.5L274.0 435.3L274.1 435.9L274.2 436.4L274.3 436.9L274.4 437.2L274.5 437.7L274.6 438.9L274.7 439.0L274.8 439.7L274.9 440.8L275.0 441.4L275.1 441.9L275.2 442.2L275.3 443.0L275.4 443.5L275.5 443.4L275.6 444.1L275.7 443.7L275.8 443.5L275.9 443.6L276.0 443.3L276.1 443.0L276.2 442.6L276.3 442.4L276.4 442.1L276.5 441.5L276.6 440.9L276.7 440.1L276.8 439.5L276.9 439.2L277.0 439.1L277.1 438.7L277.2 438.3L277.3 437.8L277.4 437.9L277.5 438.1L277.6 438.5L277.7 438.4L277.8 439.0L277.9 439.7L278.0 440.3L278.1 440.7L278.2 442.0L278.3 442.5L278.4 443.5L278.5 444.7L278.6 445.5L278.7 446.7L278.9 448.7L279.1 450.4L279.3 452.1L279.4 452.6L279.5 453.4L279.7 454.5L279.9 455.5L280.1 457.3L280.3 457.3L280.5 458.3L280.7 458.4L280.9 459.0L281.1 459.1L281.2 458.9L281.3 459.7L281.5 459.5L281.7 459.7L281.9 460.3L282.1 459.8L282.3 460.0L283.0 460.4L283.9 460.6L284.8 459.9L285.7 460.8L286.6 461.2L287.5 461.1L288.4 461.0L289.3 461.0L290.2 461.0L291.1 461.2L292.0 460.9L292.9 461.1L293.8 461.3L294.7 461.2L295.6 461.1L296.5 460.8L297.4 460.9L298.3 461.0L299.2 460.9L300.1 460.8L301.0 460.2L301.4 460.8L301.6 460.5L301.8 460.4L301.9 460.7L302.0 460.4L302.2 460.3L302.4 460.4L302.6 460.0L302.8 459.7L303.0 459.5L303.2 459.5L303.4 459.1L303.6 458.2L303.7 458.8L303.8 458.2L304.0 457.5L304.2 457.0L304.4 456.1L304.6 455.3L304.8 454.2L305.0 453.1L305.2 452.3L305.4 451.1L305.5 450.7L305.6 450.2L305.8 449.2L306.0 448.7L306.2 447.8L306.4 447.5L306.6 447.6L306.8 448.1L307.0 449.3L307.2 449.7L307.3 450.7L307.4 451.1L307.6 451.7L307.8 453.5L308.0 454.1L308.2 455.2L308.4 456.2L308.6 457.1L308.8 457.5L309.0 458.3L309.1 458.3L309.2 458.5L309.4 459.4L309.6 459.6L309.8 459.8L310.0 460.2L310.2 460.4L310.4 460.3L310.6 460.4L310.8 460.8L310.9 460.6L311.0 460.4L311.2 460.9L311.8 460.9L312.7 460.5L313.6 460.6L314.5 461.3L315.4 461.3L316.3 461.0L317.2 461.4L318.1 461.2L319.0 461.2L319.9 461.0L320.8 461.7L321.7 461.6" fill="none" stroke="#111111" stroke-width="0.85" stroke-linejoin="round"/>
<path d="M19.3 461.3L20.2 460.7L21.1 461.0L22.0 461.2L22.9 460.7L23.8 460.6L24.7 460.7L25.6 460.5L26.5 460.1L27.4 459.6L27.8 459.7L28.0 459.5L28.2 459.4L28.3 459.4L28.4 459.5L28.6 459.0L28.8 459.0L29.0 458.7L29.2 458.1L29.4 457.8L29.6 457.2L29.8 457.0L30.0 455.6L30.1 455.3L30.2 454.6L30.4 452.9L30.6 450.3L30.8 447.5L31.0 444.3L31.2 440.1L31.4 434.9L31.6 429.4L31.8 422.9L31.9 420.6L32.0 417.7L32.2 411.7L32.4 407.1L32.6 404.2L32.8 403.4L33.0 404.8L33.2 409.0L33.4 414.1L33.6 420.3L33.7 422.9L33.8 425.7L34.0 431.8L34.2 436.9L34.4 441.8L34.6 445.4L34.8 448.9L35.0 451.7L35.2 453.6L35.4 455.3L35.5 455.9L35.6 456.0L35.8 456.7L36.0 457.1L36.2 458.0L36.4 458.4L36.6 458.8L36.8 458.6L37.0 458.9L37.2 459.3L37.3 459.1L37.4 459.2L37.6 459.8L38.2 459.5L39.1 459.9L39.4 460.0L39.6 460.0L39.8 459.6L40.0 459.6L40.2 459.6L40.4 460.2L40.6 460.1L40.8 459.7L40.9 460.1L41.0 460.0L41.2 460.2L41.4 459.3L41.6 459.3L41.8 459.3L42.0 459.1L42.2 458.9L42.4 458.5L42.6 457.7L42.7 457.7L42.8 456.9L43.0 456.4L43.2 455.5L43.4 453.9L43.6 453.1L43.8 451.8L44.0 450.9L44.2 450.6L44.4 449.5L44.5 449.8L44.6 449.2L44.8 449.9L45.0 450.1L45.2 449.7L45.4 449.4L45.6 448.9L45.8 448.2L46.0 446.4L46.2 445.2L46.3 444.1L46.4 443.2L46.6 441.2L46.8 439.3L47.0 438.5L47.2 437.8L47.4 438.3L47.6 440.1L47.8 441.9L48.0 444.0L48.1 445.2L48.2 446.2L48.4 449.1L48.6 450.7L48.8 452.6L49.0 454.4L49.2 456.1L49.4 456.9L49.6 457.8L49.8 458.2L49.9 458.6L50.0 458.7L50.2 459.3L50.4 459.2L50.6 460.2L50.8 460.1L51.0 459.9L51.2 460.4L51.4 460.0L51.6 460.5L51.7 460.3L51.8 460.5L52.0 460.5L52.6 460.5L53.5 460.7L54.4 460.9L55.3 460.4L56.2 460.9L57.1 461.2L58.0 460.8L58.9 460.8L59.8 460.7L60.7 460.6L61.6 461.2L62.5 460.8L63.4 460.8L64.3 461.1L65.2 461.0L66.1 461.7L67.0 461.2L67.9 460.7L68.8 461.5L69.7 461.2L70.6 461.0L71.5 460.9L72.4 460.7L73.3 461.4L74.2 461.0L75.1 460.8L76.0 461.3L76.9 461.0L77.8 460.6L78.7 460.7L79.6 460.8L80.5 461.5L81.4 460.9L82.3 460.8L83.2 460.9L84.1 460.8L85.0 460.0L85.9 460.7L86.8 460.8L87.7 460.4L88.6 460.4L89.5 460.2L90.4 460.0L91.3 459.5L91.7 459.4L91.9 459.6L92.1 459.3L92.2 459.1L92.3 459.2L92.5 458.7L92.7 458.7L92.9 458.8L93.1 458.3L93.3 457.7L93.5 457.4L93.7 457.4L93.9 456.7L94.0 456.7L94.1 456.6L94.3 455.4L94.5 454.7L94.7 453.6L94.9 452.7L95.1 451.4L95.3 450.2L95.4 449.3L95.5 448.5L95.6 448.0L95.7 447.0L95.8 446.9L95.9 445.9L96.0 444.7L96.1 444.0L96.2 443.7L96.3 443.1L96.4 442.8L96.5 441.9L96.6 441.4L96.7 441.4L96.8 440.6L96.9 440.2L97.0 439.9L97.1 439.9L97.2 439.1L97.3 439.1L97.4 437.9L97.5 437.6L97.6 437.1L97.7 435.6L97.8 434.5L97.9 433.5L98.0 431.3L98.1 430.1L98.2 427.6L98.3 425.0L98.4 422.9L98.5 419.1L98.6 415.9L98.7 412.1L98.8 408.2L98.9 403.5L99.0 399.1L99.1 394.1L99.2 388.9L99.3 383.8L99.4 377.9L99.5 373.2L99.6 367.9L99.7 362.8L99.8 358.0L99.9 353.6L100.0 349.9L100.1 347.2L100.2 345.1L100.3 343.7L100.4 343.2L100.5 343.9L100.6 345.7L100.7 348.5L100.8 350.9L100.9 355.1L101.0 359.7L101.1 364.6L101.2 370.1L101.3 375.6L101.4 381.0L101.5 386.6L101.6 392.2L101.8 403.0L102.0 412.4L102.1 416.7L102.2 421.1L102.4 428.4L102.6 435.1L102.8 439.7L103.0 443.8L103.2 447.2L103.4 449.8L103.6 451.2L103.8 452.9L103.9 453.2L104.0 453.9L104.2 454.6L104.4 455.5L104.6 456.3L104.8 456.5L105.0 456.9L105.2 457.0L105.7 458.0L106.6 458.8L107.5 459.1L108.4 459.4L109.3 459.8L110.2 459.9L111.1 460.2L112.0 460.3L112.9 460.4L113.8 460.5L114.7 460.7L115.6 460.7L116.5 460.3L117.4 460.8L118.3 460.9L119.2 461.0L120.1 460.9L121.0 460.9L121.9 461.2L122.8 461.4L123.7 460.9L124.6 461.3L125.5 460.9L126.4 460.9L127.3 460.7L128.2 460.6L129.1 460.8L130.0 461.0L130.9 461.1L131.8 460.9L131.9 460.7L132.1 461.1L132.3 460.6L132.5 460.6L132.7 460.4L132.9 460.5L133.1 460.4L133.3 460.4L133.5 460.3L133.6 460.5L133.7 460.0L133.9 459.4L134.1 459.4L134.3 459.0L134.5 458.8L134.7 457.7L134.9 457.4L135.1 456.2L135.3 455.3L135.4 455.0L135.5 453.9L135.7 452.9L135.9 451.5L136.1 450.1L136.3 448.9L136.5 447.9L136.7 447.0L136.9 446.9L137.1 446.9L137.2 447.3L137.3 447.9L137.5 448.7L137.7 449.8L137.9 451.1L138.1 452.2L138.3 454.1L138.5 454.9L138.7 456.5L138.9 457.2L139.0 457.5L139.1 458.3L139.3 458.8L139.5 458.9L139.7 459.4L139.9 459.7L140.1 460.1L140.3 459.6L140.5 460.3L140.7 460.6L140.8 460.1L140.9 460.3L141.1 460.6L141.3 460.3L141.5 460.6L141.7 460.6L142.6 460.8L143.5 461.1L144.4 460.8L145.3 461.0L146.2 461.3L147.1 461.2L148.0 460.9L148.9 461.2L149.8 461.1L150.7 461.0L151.6 461.1L152.5 461.5L153.4 461.0L154.3 461.0L155.2 461.0L156.1 460.8L157.0 461.1L157.9 461.0L158.8 460.8L159.7 461.2L160.6 460.8L161.5 460.8L162.4 461.0L163.3 460.8L164.2 461.0L165.1 461.4L166.0 460.9L166.9 461.1L167.8 461.1L168.7 461.2L169.6 460.9L170.5 461.1L171.4 461.4L172.3 461.1L173.2 461.0L174.1 461.4L175.0 461.3L175.9 461.3L176.8 461.3L177.7 461.1L178.6 461.0L179.5 460.8L180.4 460.9L181.3 461.0L182.2 461.0L183.1 460.9L184.0 461.3L184.9 461.1L185.8 461.1L186.7 461.2L187.6 461.3L188.5 461.3L189.4 461.3L190.3 461.5L191.2 461.1L192.1 461.2L193.0 461.2L193.9 461.1L194.8 461.0L195.7 461.3L196.6 461.2L197.5 461.6L198.4 461.7L199.3 461.6L200.2 460.9L201.1 461.6L202.0 461.1L202.9 460.9L203.8 461.3L204.7 460.8L205.6 460.8L206.5 461.0L207.4 460.6L208.3 461.0L209.2 461.3L210.1 461.0L211.0 461.2L211.9 461.4L212.8 461.4L213.7 460.6L214.6 461.2L215.5 461.0L216.4 461.1L217.3 460.8L218.2 460.8L218.8 460.7L219.0 460.9L219.1 460.9L219.2 460.7L219.4 460.4L219.6 459.9L219.8 460.1L220.0 459.8L220.2 459.9L220.4 459.8L220.6 459.8L220.8 459.2L220.9 459.5L221.0 458.9L221.2 457.9L221.4 457.6L221.6 456.6L221.8 456.1L222.0 455.3L222.2 454.0L222.4 452.7L222.6 451.0L222.7 450.2L222.8 450.1L223.0 448.8L223.2 447.6L223.4 446.7L223.6 446.3L223.8 445.8L224.0 446.0L224.2 446.6L224.4 447.9L224.5 448.2L224.6 449.1L224.8 449.8L225.0 451.6L225.2 452.7L225.4 454.0L225.6 455.2L225.8 456.3L226.0 457.3L226.2 457.3L226.3 457.9L226.4 458.2L226.6 458.3L226.8 459.2L227.0 459.4L227.2 459.8L227.4 459.7L227.6 460.1L227.8 460.2L228.0 460.4L228.1 460.4L228.2 460.2L228.4 461.0L228.6 460.6L229.0 460.8L229.9 460.9L230.8 461.3L231.7 460.8L232.6 461.2L233.5 461.1L234.4 461.2L235.3 461.5L236.2 461.2L237.1 461.5L238.0 461.3L238.9 461.2L239.8 461.1L240.7 461.1L241.6 461.2L242.5 460.7L243.4 461.1L244.3 461.4L245.2 461.3L246.1 461.3L247.0 461.2L247.9 461.3L248.8 461.3L249.7 460.8L250.6 461.1L251.5 461.2L252.4 461.2L253.3 461.2L254.2 460.8L255.1 461.0L256.0 460.8L256.9 461.8L257.8 461.0L258.7 460.8L259.6 460.6L260.5 461.0L261.4 461.3L262.3 460.8L263.2 461.0L264.1 461.2L265.0 460.9L265.5 460.4L265.7 460.4L265.9 460.5L266.1 460.8L266.3 460.0L266.5 460.8L266.7 460.5L266.8 460.8L266.9 460.1L267.1 460.3L267.3 460.1L267.5 460.2L267.7 460.1L267.9 459.9L268.1 460.2L268.3 459.4L268.5 459.1L268.6 459.3L268.7 459.1L268.8 458.8L268.9 458.4L269.0 458.5L269.1 458.4L269.2 458.3L269.3 458.3L269.4 457.9L269.5 457.5L269.6 457.4L269.7 457.1L269.8 456.7L269.9 456.6L270.0 456.4L270.1 456.1L270.2 456.0L270.3 455.8L270.4 455.5L270.5 455.8L270.6 455.0L270.7 455.4L270.8 454.8L270.9 454.8L271.0 454.3L271.1 454.4L271.2 454.3L271.3 453.6L271.4 453.5L271.5 453.2L271.6 452.9L271.7 452.2L271.8 451.8L271.9 451.4L272.0 451.3L272.1 450.4L272.2 449.7L272.3 448.6L272.4 448.2L272.5 447.5L272.6 446.5L272.7 446.0L272.8 445.1L272.9 444.3L273.0 443.9L273.1 442.6L273.2 442.1L273.3 441.6L273.4 441.2L273.5 440.5L273.6 439.9L273.7 440.1L273.8 440.1L273.9 439.8L274.0 440.3L274.1 440.7L274.2 440.6L274.3 441.0L274.4 441.3L274.5 441.9L274.6 442.1L274.7 442.7L274.8 443.3L274.9 443.7L275.0 443.8L275.1 444.1L275.2 444.3L275.3 444.6L275.4 445.5L275.5 445.1L275.6 444.8L275.7 444.6L275.8 444.7L275.9 443.7L276.0 443.6L276.1 443.3L276.2 442.6L276.3 442.1L276.4 441.5L276.5 440.6L276.6 440.1L276.7 439.6L276.8 438.8L276.9 438.1L277.0 437.7L277.1 436.7L277.2 436.9L277.3 436.0L277.4 436.1L277.5 436.6L277.6 436.5L277.7 436.6L277.8 437.4L277.9 438.2L278.0 438.7L278.1 439.1L278.2 440.8L278.3 441.3L278.4 442.4L278.5 443.4L278.6 444.5L278.7 445.6L278.9 447.3L279.1 449.3L279.3 451.5L279.4 451.7L279.5 453.1L279.7 454.0L279.9 455.3L280.1 456.1L280.3 457.0L280.5 457.5L280.7 458.3L280.9 458.5L281.1 458.9L281.2 458.7L281.3 459.4L281.5 459.2L281.7 459.5L281.9 459.7L282.1 460.0L282.3 459.9L283.0 460.6L283.9 460.8L284.8 460.5L285.7 461.1L286.6 460.5L287.5 460.9L288.4 460.8L289.3 460.9L290.2 460.9L291.1 461.0L292.0 461.1L292.9 461.0L293.8 460.8L294.7 460.8L295.6 460.7L296.5 460.9L297.4 461.0L298.3 461.3L299.2 460.8L300.1 460.7L301.0 460.8L301.4 460.5L301.6 460.4L301.8 460.6L301.9 460.3L302.0 460.5L302.2 460.9L302.4 460.5L302.6 460.4L302.8 460.0L303.0 460.1L303.2 459.8L303.4 459.7L303.6 459.1L303.7 458.9L303.8 458.5L304.0 458.0L304.2 457.6L304.4 456.9L304.6 456.2L304.8 455.4L305.0 454.2L305.2 454.1L305.4 452.7L305.5 452.2L305.6 451.5L305.8 451.3L306.0 450.3L306.2 449.8L306.4 449.9L306.6 450.4L306.8 450.4L307.0 451.2L307.2 451.6L307.3 452.3L307.4 452.2L307.6 453.5L307.8 454.6L308.0 455.4L308.2 456.4L308.4 456.8L308.6 457.2L308.8 458.2L309.0 458.5L309.1 459.1L309.2 459.0L309.4 458.9L309.6 460.0L309.8 459.7L310.0 459.9L310.2 460.7L310.4 460.7L310.6 460.7L310.8 460.3L310.9 460.7L311.0 460.7L311.2 460.5L311.8 460.8L312.7 460.8L313.6 461.0L314.5 460.8L315.4 461.2L316.3 460.7L317.2 461.2L318.1 461.3L319.0 461.0L319.9 461.0L320.8 461.6L321.7 461.1" fill="none" stroke="#e0202a" stroke-width="0.85" stroke-linejoin="round"/>
<path d="M19.3 461.3L20.2 461.2L21.1 460.8L22.0 461.1L22.9 460.8L23.8 460.9L24.7 460.3L25.6 460.6L26.5 460.6L27.4 460.3L27.8 460.1L28.0 459.8L28.2 459.7L28.3 459.4L28.4 459.5L28.6 459.4L28.8 459.2L29.0 459.0L29.2 458.7L29.4 458.2L29.6 457.8L29.8 457.5L30.0 456.9L30.1 456.2L30.2 455.4L30.4 454.6L30.6 452.3L30.8 449.7L31.0 446.9L31.2 443.4L31.4 438.6L31.6 434.0L31.8 429.3L31.9 426.4L32.0 423.9L32.2 419.7L32.4 415.0L32.6 413.4L32.8 412.7L33.0 414.2L33.2 417.1L33.4 421.7L33.6 426.3L33.7 428.7L33.8 431.4L34.0 436.4L34.2 440.5L34.4 445.0L34.6 447.9L34.8 450.9L35.0 452.9L35.2 454.6L35.4 455.9L35.5 456.4L35.6 457.0L35.8 457.6L36.0 457.9L36.2 458.4L36.4 459.0L36.6 459.1L36.8 459.3L37.0 459.3L37.2 459.4L37.3 459.4L37.4 459.7L37.6 459.6L38.2 460.1L39.1 460.6L39.4 460.0L39.6 460.4L39.8 460.2L40.0 460.3L40.2 459.8L40.4 460.2L40.6 459.8L40.8 460.0L40.9 460.1L41.0 460.1L41.2 459.6L41.4 459.5L41.6 459.2L41.8 458.7L42.0 458.7L42.2 458.2L42.4 457.7L42.6 456.8L42.7 456.4L42.8 455.9L43.0 454.0L43.2 453.4L43.4 451.3L43.6 449.6L43.8 448.0L44.0 446.8L44.2 445.6L44.4 445.2L44.5 445.3L44.6 445.2L44.8 445.9L45.0 446.7L45.2 447.3L45.4 448.3L45.6 448.3L45.8 448.4L46.0 447.7L46.2 446.9L46.3 446.4L46.4 446.1L46.6 444.8L46.8 443.8L47.0 442.8L47.2 442.5L47.4 442.9L47.6 444.3L47.8 445.7L48.0 447.8L48.1 448.9L48.2 449.6L48.4 451.4L48.6 453.3L48.8 454.8L49.0 455.6L49.2 457.0L49.4 458.0L49.6 457.8L49.8 458.8L49.9 459.1L50.0 459.1L50.2 459.7L50.4 459.4L50.6 460.3L50.8 460.4L51.0 460.2L51.2 460.4L51.4 460.0L51.6 460.8L51.7 460.6L51.8 460.4L52.0 460.4L52.6 460.4L53.5 460.7L54.4 460.3L55.3 461.0L56.2 460.9L57.1 460.8L58.0 461.1L58.9 461.1L59.8 461.1L60.7 461.2L61.6 461.3L62.5 461.2L63.4 461.4L64.3 461.0L65.2 461.4L66.1 460.6L67.0 460.7L67.9 460.8L68.8 461.1L69.7 461.2L70.6 460.8L71.5 461.0L72.4 460.9L73.3 461.2L74.2 460.8L75.1 461.2L76.0 461.0L76.9 461.4L77.8 461.1L78.7 460.9L79.6 461.1L80.5 461.0L81.4 460.7L82.3 460.9L83.2 460.6L84.1 461.3L85.0 460.6L85.9 460.5L86.8 460.9L87.7 460.8L88.6 460.1L89.5 460.4L90.4 460.1L91.3 459.5L91.7 459.5L91.9 459.2L92.1 459.3L92.2 459.0L92.3 458.8L92.5 458.8L92.7 459.1L92.9 458.2L93.1 458.1L93.3 457.9L93.5 457.0L93.7 457.2L93.9 455.7L94.0 455.9L94.1 455.0L94.3 454.4L94.5 453.6L94.7 451.9L94.9 450.4L95.1 448.7L95.3 446.8L95.4 446.3L95.5 445.0L95.6 444.0L95.7 443.2L95.8 442.4L95.9 441.5L96.0 440.2L96.1 439.3L96.2 438.8L96.3 438.2L96.4 437.0L96.5 437.0L96.6 436.1L96.7 436.0L96.8 435.9L96.9 435.2L97.0 435.1L97.1 434.6L97.2 434.3L97.3 434.7L97.4 434.2L97.5 433.9L97.6 433.9L97.7 433.4L97.8 432.1L97.9 431.7L98.0 430.5L98.1 429.2L98.2 427.5L98.3 425.6L98.4 423.1L98.5 420.5L98.6 418.0L98.7 415.0L98.8 411.2L98.9 407.8L99.0 403.6L99.1 399.0L99.2 394.3L99.3 390.1L99.4 385.8L99.5 380.8L99.6 376.8L99.7 372.1L99.8 367.5L99.9 363.9L100.0 361.2L100.1 358.6L100.2 356.2L100.3 355.3L100.4 355.2L100.5 355.6L100.6 357.2L100.7 359.8L100.8 362.1L100.9 366.0L101.0 370.1L101.1 374.6L101.2 379.0L101.3 384.1L101.4 388.8L101.5 394.0L101.6 398.7L101.8 408.5L102.0 417.3L102.1 421.6L102.2 425.2L102.4 431.4L102.6 436.5L102.8 442.0L103.0 445.6L103.2 448.2L103.4 450.4L103.6 452.3L103.8 453.5L103.9 454.4L104.0 454.6L104.2 455.1L104.4 455.6L104.6 456.5L104.8 456.9L105.0 457.1L105.2 457.3L105.7 458.0L106.6 459.1L107.5 459.3L108.4 459.6L109.3 460.2L110.2 460.5L111.1 460.3L112.0 460.4L112.9 460.4L113.8 460.7L114.7 460.9L115.6 460.9L116.5 461.1L117.4 461.1L118.3 461.0L119.2 461.0L120.1 460.7L121.0 461.2L121.9 461.0L122.8 461.1L123.7 460.7L124.6 461.0L125.5 461.1L126.4 460.8L127.3 461.0L128.2 461.1L129.1 460.6L130.0 460.8L130.9 460.5L131.8 460.6L131.9 460.6L132.1 460.7L132.3 461.0L132.5 460.6L132.7 460.7L132.9 460.5L133.1 460.6L133.3 460.6L133.5 460.6L133.6 460.2L133.7 460.0L133.9 460.1L134.1 459.7L134.3 459.2L134.5 459.3L134.7 458.8L134.9 458.3L135.1 457.1L135.3 456.5L135.4 456.2L135.5 456.0L135.7 454.7L135.9 453.3L136.1 452.6L136.3 451.6L136.5 450.5L136.7 450.3L136.9 449.8L137.1 449.8L137.2 450.3L137.3 450.6L137.5 451.1L137.7 452.2L137.9 453.2L138.1 454.2L138.3 455.3L138.5 456.5L138.7 457.3L138.9 457.8L139.0 458.0L139.1 458.2L139.3 459.2L139.5 459.2L139.7 459.6L139.9 460.0L140.1 460.1L140.3 460.2L140.5 460.1L140.7 460.8L140.8 460.5L140.9 460.7L141.1 460.7L141.3 460.5L141.5 460.6L141.7 461.0L142.6 461.0L143.5 460.9L144.4 461.3L145.3 460.9L146.2 461.1L147.1 461.1L148.0 461.1L148.9 460.7L149.8 461.1L150.7 461.2L151.6 460.8L152.5 461.3L153.4 461.3L154.3 461.5L155.2 460.9L156.1 461.1L157.0 461.1L157.9 461.2L158.8 461.2L159.7 461.4L160.6 461.4L161.5 461.1L162.4 461.2L163.3 460.9L164.2 461.4L165.1 461.3L166.0 461.4L166.9 460.9L167.8 461.5L168.7 461.0L169.6 460.9L170.5 461.2L171.4 461.1L172.3 461.7L173.2 461.3L174.1 461.6L175.0 461.2L175.9 461.2L176.8 461.4L177.7 461.0L178.6 461.1L179.5 461.3L180.4 461.3L181.3 461.5L182.2 461.3L183.1 460.8L184.0 461.4L184.9 461.1L185.8 461.3L186.7 461.0L187.6 461.1L188.5 461.3L189.4 461.6L190.3 461.3L191.2 461.0L192.1 461.3L193.0 461.1L193.9 461.3L194.8 461.6L195.7 461.1L196.6 461.1L197.5 461.3L198.4 461.3L199.3 461.1L200.2 461.3L201.1 461.1L202.0 461.2L202.9 461.7L203.8 461.2L204.7 461.3L205.6 461.4L206.5 461.1L207.4 461.3L208.3 461.1L209.2 460.9L210.1 461.1L211.0 461.5L211.9 461.3L212.8 460.9L213.7 461.2L214.6 461.3L215.5 461.1L216.4 460.9L217.3 460.9L218.2 460.7L218.8 460.9L219.0 460.8L219.1 460.7L219.2 460.6L219.4 461.0L219.6 460.6L219.8 460.7L220.0 460.0L220.2 459.8L220.4 459.6L220.6 459.6L220.8 459.6L220.9 459.1L221.0 459.2L221.2 458.5L221.4 458.3L221.6 457.6L221.8 456.6L222.0 455.4L222.2 454.8L222.4 453.2L222.6 452.0L222.7 452.3L222.8 451.5L223.0 450.5L223.2 449.4L223.4 448.7L223.6 448.0L223.8 447.6L224.0 447.8L224.2 448.5L224.4 449.4L224.5 449.8L224.6 450.4L224.8 451.4L225.0 452.7L225.2 453.7L225.4 455.1L225.6 455.7L225.8 456.3L226.0 457.5L226.2 458.5L226.3 458.1L226.4 458.8L226.6 459.8L226.8 459.5L227.0 459.6L227.2 459.9L227.4 459.9L227.6 460.2L227.8 460.4L228.0 460.9L228.1 460.8L228.2 460.5L228.4 460.5L228.6 460.9L229.0 460.9L229.9 460.8L230.8 461.4L231.7 461.4L232.6 461.1L233.5 461.0L234.4 461.2L235.3 461.6L236.2 461.1L237.1 461.4L238.0 461.0L238.9 461.2L239.8 461.1L240.7 461.0L241.6 461.3L242.5 461.0L243.4 460.9L244.3 461.1L245.2 460.9L246.1 461.3L247.0 461.0L247.9 461.1L248.8 461.4L249.7 461.2L250.6 461.3L251.5 461.3L252.4 461.1L253.3 460.9L254.2 461.2L255.1 461.1L256.0 461.4L256.9 461.0L257.8 460.8L258.7 460.8L259.6 460.9L260.5 461.1L261.4 461.1L262.3 460.9L263.2 461.1L264.1 461.0L265.0 460.4L265.5 460.7L265.7 460.1L265.9 460.7L266.1 460.3L266.3 460.6L266.5 460.2L266.7 460.4L266.8 460.1L266.9 460.1L267.1 460.0L267.3 459.7L267.5 459.3L267.7 459.5L267.9 458.9L268.1 458.7L268.3 458.3L268.5 457.3L268.6 458.0L268.7 457.3L268.8 457.2L268.9 456.5L269.0 456.1L269.1 454.8L269.2 455.2L269.3 454.4L269.4 454.1L269.5 454.0L269.6 453.3L269.7 452.6L269.8 452.4L269.9 452.0L270.0 451.5L270.1 451.5L270.2 451.0L270.3 450.5L270.4 450.2L270.5 450.2L270.6 449.9L270.7 449.7L270.8 449.6L270.9 449.3L271.0 449.4L271.1 449.3L271.2 449.5L271.3 449.3L271.4 448.9L271.5 449.1L271.6 448.4L271.7 448.3L271.8 447.9L271.9 447.2L272.0 446.9L272.1 446.4L272.2 445.7L272.3 444.8L272.4 443.5L272.5 443.7L272.6 442.4L272.7 441.6L272.8 440.5L272.9 439.9L273.0 439.4L273.1 437.8L273.2 437.5L273.3 436.6L273.4 436.3L273.5 435.8L273.6 435.3L273.7 434.8L273.8 434.7L273.9 435.1L274.0 435.1L274.1 435.7L274.2 436.1L274.3 436.7L274.4 437.2L274.5 438.2L274.6 438.9L274.7 439.6L274.8 440.4L274.9 441.4L275.0 441.5L275.1 442.7L275.2 443.0L275.3 443.7L275.4 444.0L275.5 445.1L275.6 444.5L275.7 445.2L275.8 445.6L275.9 445.3L276.0 444.8L276.1 445.1L276.2 445.3L276.3 444.9L276.4 444.2L276.5 444.5L276.6 443.9L276.7 443.5L276.8 442.6L276.9 442.8L277.0 442.2L277.1 442.3L277.2 442.2L277.3 441.7L277.4 441.8L277.5 442.4L277.6 442.0L277.7 442.3L277.8 443.0L277.9 443.3L278.0 443.9L278.1 444.7L278.2 445.4L278.3 446.1L278.4 446.8L278.5 447.8L278.6 448.3L278.7 449.4L278.9 450.7L279.1 452.1L279.3 453.7L279.4 453.9L279.5 454.2L279.7 455.4L279.9 456.9L280.1 457.0L280.3 457.9L280.5 458.4L280.7 458.9L280.9 459.1L281.1 459.1L281.2 459.4L281.3 459.7L281.5 459.9L281.7 460.0L281.9 459.9L282.1 459.7L282.3 460.4L283.0 460.4L283.9 460.6L284.8 460.8L285.7 460.7L286.6 460.7L287.5 461.2L288.4 461.2L289.3 460.7L290.2 460.9L291.1 460.9L292.0 461.1L292.9 461.1L293.8 460.9L294.7 461.2L295.6 461.3L296.5 461.0L297.4 460.8L298.3 461.2L299.2 460.7L300.1 460.7L301.0 461.0L301.4 460.8L301.6 460.7L301.8 460.5L301.9 460.5L302.0 460.9L302.2 460.8L302.4 460.2L302.6 460.3L302.8 460.2L303.0 460.0L303.2 459.5L303.4 459.9L303.6 459.1L303.7 459.3L303.8 458.8L304.0 458.2L304.2 458.3L304.4 457.3L304.6 456.7L304.8 456.0L305.0 455.1L305.2 454.5L305.4 453.7L305.5 452.9L305.6 452.5L305.8 452.1L306.0 451.7L306.2 450.5L306.4 450.6L306.6 450.9L306.8 451.5L307.0 452.0L307.2 452.5L307.3 453.2L307.4 453.0L307.6 454.2L307.8 454.9L308.0 456.1L308.2 456.8L308.4 457.5L308.6 457.9L308.8 458.5L309.0 459.0L309.1 459.0L309.2 459.2L309.4 459.3L309.6 459.9L309.8 460.3L310.0 460.3L310.2 460.1L310.4 460.6L310.6 460.6L310.8 460.7L310.9 460.6L311.0 460.6L311.2 460.9L311.8 460.9L312.7 460.7L313.6 460.8L314.5 460.9L315.4 460.9L316.3 461.2L317.2 461.2L318.1 460.9L319.0 461.4L319.9 461.2L320.8 461.6L321.7 461.3" fill="none" stroke="#2a18c8" stroke-width="0.85" stroke-linejoin="round"/>
<path d="M19.3 608.6L20.2 608.6L21.1 608.2L22.0 608.4L22.9 608.2L23.8 608.1L24.7 608.0L25.6 607.3L26.5 607.4L27.1 606.9L27.3 607.1L27.4 606.8L27.5 606.7L27.7 606.5L27.9 606.3L28.1 605.9L28.3 605.3L28.5 605.3L28.7 604.8L28.9 604.3L29.1 602.8L29.2 602.5L29.3 602.1L29.5 600.6L29.7 598.9L29.9 596.2L30.1 592.7L30.3 588.5L30.5 583.7L30.7 577.7L30.9 570.8L31.0 567.3L31.1 564.3L31.3 556.6L31.5 549.6L31.7 544.5L31.9 540.9L32.1 540.3L32.3 541.7L32.5 546.5L32.7 552.5L32.8 555.7L32.9 558.7L33.1 566.6L33.3 573.7L33.5 579.7L33.7 585.4L33.9 589.8L34.1 594.3L34.3 597.4L34.5 599.5L34.6 600.3L34.7 601.2L34.9 602.3L35.1 603.9L35.3 604.5L35.5 604.9L35.7 605.1L35.9 605.5L36.1 606.0L36.3 606.3L36.4 606.0L36.5 606.1L36.7 605.9L36.9 606.6L37.3 606.5L37.9 607.3L38.1 607.2L38.2 607.3L38.3 607.3L38.5 607.4L38.7 607.3L38.9 607.3L39.1 607.4L39.3 607.1L39.5 607.3L39.7 607.2L39.9 606.8L40.0 607.0L40.1 607.0L40.3 606.9L40.5 606.8L40.7 606.4L40.9 606.4L41.1 605.6L41.3 605.0L41.4 604.8L41.5 604.9L41.6 604.8L41.7 604.3L41.8 603.8L41.9 603.3L42.0 603.2L42.1 602.8L42.2 602.1L42.3 602.2L42.4 601.5L42.5 601.3L42.6 601.5L42.7 601.0L42.8 601.0L42.9 601.0L43.0 601.1L43.1 601.1L43.2 600.7L43.3 601.0L43.4 600.9L43.5 601.3L43.6 601.3L43.7 601.3L43.8 601.7L43.9 601.7L44.0 601.2L44.1 601.2L44.2 601.3L44.3 600.8L44.4 600.3L44.5 599.7L44.6 599.7L44.7 598.8L44.8 597.7L44.9 597.4L45.0 596.2L45.1 596.1L45.2 594.2L45.3 593.4L45.4 592.7L45.5 590.9L45.6 589.7L45.7 588.6L45.8 587.6L45.9 586.9L46.0 586.2L46.1 585.5L46.2 585.0L46.3 584.7L46.4 584.9L46.5 585.0L46.6 585.3L46.7 586.1L46.8 586.6L46.9 587.6L47.0 589.4L47.1 590.5L47.2 591.9L47.3 593.1L47.4 594.0L47.5 595.5L47.6 596.7L47.7 597.7L47.8 598.5L48.0 600.6L48.1 601.5L48.2 602.0L48.4 603.4L48.6 604.5L48.8 605.2L49.0 606.2L49.2 606.4L49.4 606.9L49.6 606.8L49.8 607.1L49.9 607.5L50.0 607.1L50.2 607.8L50.4 607.4L50.6 607.7L50.8 608.0L51.0 608.1L51.2 608.0L51.7 608.0L52.6 608.3L53.5 608.1L54.4 608.6L55.3 608.4L56.2 608.4L57.1 608.9L58.0 608.4L58.9 608.8L59.8 609.1L60.7 608.7L61.6 608.6L62.5 608.4L63.4 608.7L64.3 608.2L65.2 608.3L66.1 608.3L67.0 608.3L67.9 608.5L68.8 608.7L69.7 608.4L70.6 608.3L71.5 608.5L72.4 608.6L73.3 608.9L74.2 608.4L75.1 608.4L76.0 608.8L76.9 608.5L77.8 608.3L78.7 608.5L79.6 608.3L80.5 608.3L81.4 608.7L82.3 608.4L83.2 608.2L84.1 608.1L85.0 607.9L85.9 608.6L86.8 608.1L87.7 607.8L88.6 607.6L89.5 607.3L90.4 607.7L91.1 607.4L91.3 607.5L91.5 607.0L91.7 607.4L91.9 606.8L92.1 606.7L92.2 606.8L92.3 607.3L92.5 606.9L92.7 606.5L92.9 606.8L93.1 606.4L93.3 606.3L93.5 605.9L93.7 605.9L93.9 605.7L94.0 605.8L94.1 605.6L94.3 605.4L94.5 604.9L94.7 604.9L94.9 604.3L95.1 604.6L95.3 603.5L95.5 603.4L95.7 602.5L95.8 602.5L95.9 601.9L96.1 601.0L96.3 600.4L96.5 598.9L96.7 597.2L96.9 594.8L97.1 592.3L97.3 588.1L97.5 583.3L97.6 580.5L97.7 577.2L97.9 570.1L98.1 560.6L98.3 550.7L98.5 538.9L98.7 527.2L98.9 514.5L99.1 501.6L99.3 490.7L99.4 485.3L99.5 481.3L99.7 475.5L99.9 473.7L100.1 476.7L100.3 483.1L100.5 493.3L100.7 505.5L100.9 517.7L101.1 531.0L101.2 536.8L101.3 543.0L101.5 554.0L101.7 563.3L101.9 572.1L102.1 579.2L102.3 584.9L102.5 589.4L102.7 592.6L102.9 595.9L103.0 597.0L103.1 597.6L103.3 599.7L103.5 600.7L103.7 601.3L103.9 602.3L104.1 603.1L104.3 603.6L104.5 604.1L104.7 604.4L104.8 604.4L105.7 605.4L106.6 606.2L107.5 607.0L108.4 607.4L109.3 607.3L110.2 608.1L111.1 607.9L112.0 608.0L112.9 608.3L113.8 608.4L114.7 608.1L115.6 608.6L116.5 608.5L117.4 608.5L118.3 608.4L119.2 608.7L120.1 608.2L121.0 608.5L121.9 608.5L122.8 608.5L123.7 608.6L124.6 608.7L125.5 608.2L126.4 608.4L127.3 608.5L128.2 608.2L129.1 608.5L130.0 608.2L130.9 608.2L131.4 608.3L131.6 607.9L131.8 608.3L132.0 607.8L132.2 608.1L132.4 607.7L132.6 607.4L132.7 607.5L132.8 607.7L133.0 607.4L133.2 607.3L133.4 607.2L133.6 606.8L133.8 606.1L134.0 605.4L134.2 605.2L134.4 603.9L134.5 603.2L134.6 602.8L134.8 601.7L135.0 599.8L135.2 598.8L135.4 596.7L135.6 594.9L135.8 594.2L136.0 592.4L136.2 591.6L136.3 591.3L136.4 591.5L136.6 591.6L136.8 592.6L137.0 593.5L137.2 594.9L137.4 596.8L137.6 598.5L137.8 599.9L138.0 601.3L138.1 602.0L138.2 602.6L138.4 603.7L138.6 605.0L138.8 606.0L139.0 605.9L139.2 606.2L139.4 607.2L139.6 607.4L139.8 607.4L139.9 607.3L140.0 607.5L140.2 607.5L140.4 607.9L140.6 607.8L140.8 607.9L141.0 608.2L141.2 607.9L141.7 608.1L142.6 608.1L143.5 608.5L144.4 608.3L145.3 608.8L146.2 608.5L147.1 609.1L148.0 608.8L148.9 608.5L149.8 608.7L150.7 608.6L151.6 609.0L152.5 608.3L153.4 608.5L154.3 608.7L155.2 608.6L156.1 608.6L157.0 608.4L157.9 608.6L158.8 609.0L159.7 608.8L160.6 608.4L161.5 608.6L162.4 608.8L163.3 608.6L164.2 608.7L165.1 608.6L166.0 609.1L166.9 608.9L167.8 608.6L168.7 608.8L169.6 608.6L170.5 608.3L171.4 608.8L172.3 608.7L173.2 608.8L174.1 608.9L175.0 608.7L175.9 609.0L176.8 609.2L177.7 608.4L178.6 608.7L179.5 608.5L180.4 608.7L181.3 608.7L182.2 608.6L183.1 608.6L184.0 609.0L184.9 608.5L185.8 608.9L186.7 608.7L187.6 608.2L188.5 608.7L189.4 608.4L190.3 608.8L191.2 608.6L192.1 608.7L193.0 608.6L193.9 608.9L194.8 608.9L195.7 608.6L196.6 609.1L197.5 608.9L198.4 608.6L199.3 608.8L200.2 608.9L201.1 608.9L202.0 608.7L202.9 608.8L203.8 608.7L204.7 608.7L205.6 608.3L206.5 608.8L207.4 609.1L208.3 608.6L209.2 608.7L210.1 608.6L211.0 609.0L211.9 608.4L212.8 608.6L213.7 608.6L214.6 608.9L215.5 608.4L216.4 608.4L217.3 608.0L218.2 608.2L218.3 608.4L218.5 608.0L218.7 608.2L218.9 607.8L219.1 608.0L219.3 607.7L219.5 607.6L219.7 607.4L219.9 607.2L220.0 607.1L220.1 606.8L220.3 606.6L220.5 605.9L220.7 605.4L220.9 605.1L221.1 603.8L221.3 602.4L221.5 601.5L221.7 600.1L221.8 599.5L221.9 599.0L222.1 597.7L222.3 595.7L222.5 594.2L222.7 593.1L222.9 592.1L223.1 591.5L223.3 591.4L223.5 591.6L223.6 592.0L223.7 592.3L223.9 593.7L224.1 594.9L224.3 596.1L224.5 597.8L224.7 599.7L224.9 600.6L225.1 602.3L225.3 602.6L225.4 603.3L225.5 603.8L225.7 604.9L225.9 605.7L226.1 606.1L226.3 606.5L226.5 607.0L226.7 607.1L226.9 607.2L227.1 607.4L227.2 607.9L227.3 608.2L227.5 607.8L227.7 608.0L227.9 607.9L228.1 607.7L229.0 607.9L229.9 608.3L230.8 608.2L231.7 608.1L232.6 608.5L233.5 608.5L234.4 608.4L235.3 608.6L236.2 608.7L237.1 608.8L238.0 608.6L238.9 608.8L239.8 608.5L240.7 608.7L241.6 608.3L242.5 608.4L243.4 608.9L244.3 608.4L245.2 608.7L246.1 608.4L247.0 608.5L247.9 608.7L248.8 608.5L249.7 608.8L250.6 608.6L251.5 608.5L252.4 608.7L253.3 608.5L254.2 608.8L255.1 608.5L256.0 608.8L256.9 608.4L257.8 608.4L258.7 608.4L259.6 608.6L260.5 607.8L261.4 608.5L262.3 608.3L263.2 608.5L264.1 607.9L264.2 608.3L264.4 608.0L264.6 608.4L264.8 608.1L265.0 608.2L265.2 607.9L265.4 608.1L265.6 608.2L265.8 607.9L265.9 608.2L266.0 608.1L266.2 607.7L266.4 608.2L266.6 607.6L266.8 607.8L267.0 607.9L267.2 607.6L267.4 607.4L267.6 607.6L267.7 607.5L267.8 607.2L268.0 607.1L268.2 607.2L268.4 607.2L268.6 607.1L268.8 606.9L269.0 606.4L269.2 606.1L269.4 605.8L269.5 605.4L269.6 605.5L269.8 605.0L270.0 604.3L270.2 603.0L270.4 602.8L270.6 601.0L270.8 599.5L271.0 597.8L271.2 595.3L271.3 594.5L271.4 593.4L271.5 592.5L271.6 591.0L271.7 589.9L271.8 588.5L271.9 587.1L272.0 585.9L272.1 584.4L272.2 582.9L272.3 581.8L272.4 580.8L272.5 580.2L272.6 578.7L272.7 577.9L272.8 577.6L272.9 577.2L273.0 576.7L273.1 576.9L273.2 576.6L273.3 577.2L273.4 577.6L273.5 577.9L273.6 578.7L273.7 579.1L273.8 579.6L273.9 580.7L274.0 580.9L274.1 581.8L274.2 582.2L274.3 582.8L274.4 583.3L274.5 583.7L274.6 584.2L274.7 584.2L274.8 584.3L274.9 583.8L275.0 583.8L275.1 584.1L275.2 583.4L275.3 583.2L275.4 583.0L275.5 582.5L275.6 582.0L275.7 582.0L275.8 581.6L275.9 581.3L276.0 581.4L276.1 581.1L276.2 581.2L276.3 581.5L276.4 581.9L276.5 582.2L276.6 582.7L276.7 583.6L276.8 584.6L276.9 585.3L277.0 586.4L277.1 587.4L277.2 588.3L277.3 589.9L277.4 590.8L277.5 592.1L277.6 593.2L277.7 593.7L277.8 595.0L277.9 596.5L278.1 597.9L278.3 599.8L278.5 600.9L278.7 602.3L278.9 603.4L279.1 604.2L279.3 604.8L279.4 605.2L279.5 605.5L279.7 605.9L279.9 606.1L280.1 606.8L280.3 606.7L280.5 607.0L280.7 607.2L280.9 607.1L281.1 607.6L281.2 607.4L282.1 607.9L283.0 607.8L283.9 608.2L284.8 608.2L285.7 608.2L286.6 608.6L287.5 608.3L288.4 608.6L289.3 608.5L290.2 608.5L291.1 608.3L292.0 608.3L292.9 608.1L293.8 608.4L294.7 608.6L295.6 608.6L296.5 608.3L297.4 608.1L298.3 608.3L299.2 608.4L300.1 608.0L300.2 608.0L300.4 608.0L300.6 608.1L300.8 608.4L301.0 607.9L301.2 607.5L301.4 607.5L301.6 607.8L301.8 607.1L301.9 607.4L302.0 606.4L302.2 606.4L302.4 606.3L302.6 605.3L302.8 605.0L303.0 604.0L303.2 603.3L303.4 602.6L303.6 601.2L303.7 601.0L303.8 599.9L304.0 599.0L304.2 598.1L304.4 597.1L304.6 595.4L304.8 594.7L305.0 594.7L305.2 594.0L305.4 594.5L305.5 594.8L305.6 595.0L305.8 595.8L306.0 596.5L306.2 597.8L306.4 599.4L306.6 599.8L306.8 601.1L307.0 602.6L307.2 603.4L307.3 603.9L307.4 604.2L307.6 604.8L307.8 605.5L308.0 606.2L308.2 606.7L308.4 606.7L308.6 607.2L308.8 606.9L309.0 607.7L309.1 607.5L309.2 607.7L309.4 608.0L309.6 607.6L309.8 608.0L310.0 608.2L310.9 608.3L311.8 608.1L312.7 608.7L313.6 608.2L314.5 608.4L315.4 608.6L316.3 608.3L317.2 608.2L318.1 608.5L319.0 608.6L319.9 608.3L320.8 608.3L321.7 608.9" fill="none" stroke="#111111" stroke-width="0.85" stroke-linejoin="round"/>
<path d="M19.3 608.5L20.2 608.5L21.1 608.5L22.0 608.6L22.9 608.1L23.8 608.1L24.7 608.0L25.6 607.5L26.5 607.6L27.1 607.2L27.3 607.0L27.4 607.1L27.5 607.0L27.7 606.6L27.9 606.6L28.1 606.1L28.3 606.3L28.5 605.8L28.7 605.8L28.9 605.0L29.1 604.4L29.2 603.6L29.3 603.2L29.5 602.0L29.7 600.1L29.9 598.0L30.1 595.4L30.3 592.2L30.5 588.2L30.7 583.0L30.9 577.6L31.0 574.8L31.1 571.7L31.3 566.1L31.5 559.9L31.7 555.9L31.9 552.9L32.1 551.9L32.3 553.9L32.5 557.0L32.7 561.9L32.8 565.0L32.9 568.1L33.1 573.9L33.3 579.9L33.5 584.5L33.7 589.4L33.9 593.5L34.1 596.7L34.3 598.9L34.5 600.7L34.6 602.0L34.7 602.6L34.9 603.9L35.1 604.2L35.3 605.0L35.5 605.0L35.7 605.8L35.9 606.1L36.1 606.4L36.3 606.3L36.4 606.9L36.5 606.4L36.7 606.7L36.9 606.9L37.3 607.2L37.9 606.9L38.1 606.8L38.2 607.3L38.3 607.1L38.5 606.9L38.7 607.4L38.9 607.3L39.1 607.5L39.3 607.2L39.5 607.1L39.7 607.1L39.9 607.1L40.0 607.2L40.1 607.0L40.3 606.7L40.5 606.0L40.7 605.9L40.9 605.4L41.1 604.4L41.3 603.6L41.4 603.4L41.5 602.8L41.6 602.0L41.7 601.5L41.8 601.1L41.9 600.3L42.0 599.7L42.1 598.9L42.2 598.7L42.3 597.7L42.4 597.3L42.5 597.1L42.6 596.3L42.7 596.0L42.8 596.2L42.9 595.4L43.0 596.1L43.1 596.1L43.2 596.2L43.3 596.2L43.4 596.6L43.5 597.1L43.6 597.1L43.7 597.7L43.8 597.8L43.9 597.8L44.0 598.6L44.1 599.3L44.2 599.0L44.3 599.1L44.4 598.8L44.5 598.6L44.6 598.6L44.7 598.1L44.8 597.4L44.9 596.8L45.0 596.6L45.1 595.0L45.2 594.3L45.3 593.4L45.4 592.3L45.5 591.5L45.6 590.3L45.7 589.0L45.8 588.1L45.9 587.3L46.0 586.7L46.1 586.3L46.2 585.4L46.3 585.4L46.4 585.6L46.5 586.3L46.6 586.5L46.7 587.4L46.8 587.5L46.9 588.7L47.0 590.0L47.1 591.0L47.2 591.6L47.3 593.1L47.4 594.8L47.5 595.8L47.6 597.1L47.7 598.3L47.8 598.9L48.0 600.3L48.1 601.3L48.2 602.3L48.4 603.7L48.6 604.6L48.8 605.2L49.0 606.3L49.2 606.9L49.4 606.4L49.6 607.0L49.8 606.9L49.9 607.3L50.0 607.1L50.2 607.6L50.4 607.5L50.6 607.4L50.8 607.5L51.0 607.9L51.2 607.7L51.7 608.1L52.6 608.5L53.5 608.1L54.4 608.0L55.3 608.2L56.2 608.7L57.1 608.3L58.0 608.3L58.9 608.6L59.8 609.0L60.7 608.3L61.6 608.3L62.5 608.4L63.4 608.9L64.3 608.9L65.2 608.3L66.1 608.4L67.0 608.4L67.9 608.6L68.8 608.5L69.7 608.7L70.6 608.6L71.5 608.7L72.4 608.5L73.3 608.6L74.2 608.3L75.1 608.3L76.0 608.6L76.9 608.0L77.8 608.7L78.7 608.3L79.6 608.1L80.5 608.1L81.4 608.8L82.3 608.0L83.2 607.9L84.1 607.8L85.0 608.6L85.9 608.1L86.8 607.9L87.7 607.8L88.6 607.2L89.5 607.4L90.4 606.6L91.1 606.4L91.3 606.7L91.5 606.4L91.7 606.1L91.9 605.8L92.1 605.4L92.2 605.5L92.3 605.1L92.5 605.3L92.7 605.2L92.9 604.0L93.1 603.2L93.3 602.6L93.5 601.7L93.7 600.2L93.9 598.4L94.0 598.0L94.1 597.3L94.3 595.4L94.5 592.6L94.7 590.6L94.9 587.9L95.1 585.1L95.3 582.5L95.5 580.4L95.7 577.8L95.8 576.8L95.9 576.1L96.1 574.7L96.3 574.4L96.5 574.0L96.7 574.2L96.9 573.9L97.1 573.9L97.3 572.7L97.5 571.2L97.6 569.7L97.7 568.1L97.9 563.7L98.1 558.0L98.3 550.9L98.5 542.6L98.7 533.6L98.9 522.8L99.1 513.2L99.3 504.0L99.4 500.2L99.5 496.4L99.7 492.2L99.9 490.8L100.1 493.4L100.3 499.4L100.5 508.1L100.7 518.5L100.9 529.9L101.1 540.4L101.2 545.7L101.3 551.0L101.5 560.5L101.7 569.2L101.9 576.5L102.1 582.3L102.3 587.2L102.5 591.6L102.7 594.3L102.9 596.8L103.0 597.7L103.1 598.7L103.3 599.9L103.5 601.0L103.7 601.9L103.9 603.1L104.1 603.2L104.3 603.8L104.5 604.5L104.7 604.4L104.8 605.0L105.7 605.6L106.6 606.1L107.5 607.0L108.4 607.0L109.3 607.4L110.2 607.5L111.1 608.1L112.0 607.8L112.9 608.0L113.8 608.0L114.7 608.2L115.6 608.0L116.5 608.2L117.4 608.2L118.3 608.1L119.2 608.3L120.1 608.2L121.0 608.4L121.9 608.3L122.8 608.5L123.7 608.3L124.6 608.2L125.5 608.5L126.4 608.3L127.3 608.3L128.2 608.6L129.1 608.3L130.0 608.0L130.9 608.3L131.4 608.5L131.6 608.0L131.8 608.1L132.0 607.5L132.2 607.9L132.4 607.8L132.6 607.8L132.7 607.6L132.8 607.7L133.0 607.6L133.2 607.2L133.4 607.1L133.6 606.3L133.8 606.3L134.0 605.5L134.2 604.9L134.4 604.1L134.5 603.0L134.6 603.2L134.8 601.2L135.0 600.3L135.2 598.5L135.4 596.4L135.6 595.7L135.8 594.0L136.0 592.2L136.2 591.6L136.3 591.5L136.4 591.3L136.6 591.7L136.8 592.3L137.0 593.2L137.2 595.0L137.4 596.6L137.6 598.0L137.8 599.4L138.0 601.4L138.1 601.9L138.2 602.7L138.4 603.8L138.6 604.7L138.8 605.5L139.0 606.4L139.2 606.9L139.4 607.1L139.6 607.2L139.8 607.1L139.9 607.6L140.0 607.6L140.2 607.6L140.4 607.7L140.6 607.9L140.8 608.0L141.0 607.6L141.2 608.2L141.7 608.3L142.6 608.7L143.5 608.3L144.4 608.5L145.3 608.1L146.2 608.6L147.1 608.4L148.0 608.4L148.9 608.2L149.8 608.9L150.7 608.3L151.6 608.6L152.5 608.7L153.4 608.7L154.3 608.7L155.2 608.7L156.1 609.2L157.0 608.5L157.9 608.6L158.8 608.9L159.7 608.7L160.6 608.2L161.5 608.6L162.4 608.8L163.3 608.3L164.2 608.9L165.1 608.7L166.0 608.8L166.9 608.7L167.8 608.5L168.7 608.6L169.6 608.8L170.5 608.7L171.4 608.7L172.3 608.8L173.2 608.7L174.1 608.8L175.0 608.9L175.9 608.7L176.8 608.9L177.7 608.6L178.6 608.7L179.5 608.9L180.4 608.8L181.3 608.8L182.2 608.7L183.1 608.7L184.0 608.7L184.9 608.9L185.8 608.4L186.7 608.5L187.6 608.7L188.5 608.5L189.4 608.6L190.3 608.8L191.2 608.7L192.1 608.1L193.0 608.5L193.9 608.5L194.8 608.8L195.7 608.6L196.6 608.2L197.5 608.6L198.4 608.5L199.3 608.4L200.2 608.5L201.1 608.3L202.0 608.6L202.9 608.6L203.8 608.8L204.7 608.1L205.6 608.6L206.5 608.6L207.4 608.4L208.3 608.8L209.2 608.6L210.1 608.8L211.0 608.6L211.9 608.7L212.8 608.5L213.7 608.6L214.6 608.6L215.5 608.5L216.4 608.4L217.3 608.4L218.2 608.0L218.3 608.0L218.5 608.1L218.7 608.3L218.9 607.9L219.1 608.2L219.3 607.7L219.5 607.6L219.7 607.6L219.9 607.4L220.0 607.3L220.1 606.6L220.3 606.7L220.5 606.3L220.7 605.5L220.9 605.0L221.1 604.1L221.3 603.7L221.5 602.6L221.7 600.5L221.8 600.6L221.9 600.0L222.1 598.6L222.3 597.1L222.5 596.3L222.7 594.9L222.9 594.1L223.1 593.4L223.3 593.3L223.5 593.7L223.6 594.1L223.7 594.8L223.9 595.0L224.1 596.7L224.3 597.7L224.5 598.6L224.7 600.4L224.9 601.4L225.1 602.7L225.3 603.5L225.4 604.1L225.5 604.6L225.7 604.9L225.9 605.9L226.1 606.6L226.3 606.8L226.5 607.0L226.7 607.6L226.9 607.4L227.1 607.5L227.2 607.3L227.3 607.9L227.5 607.8L227.7 608.3L227.9 608.1L228.1 608.1L229.0 608.2L229.9 608.4L230.8 608.5L231.7 608.6L232.6 608.6L233.5 608.5L234.4 608.5L235.3 608.5L236.2 608.4L237.1 608.4L238.0 609.0L238.9 608.7L239.8 608.7L240.7 608.8L241.6 608.4L242.5 608.5L243.4 608.7L244.3 608.6L245.2 608.4L246.1 608.7L247.0 608.7L247.9 608.4L248.8 608.5L249.7 608.3L250.6 608.5L251.5 608.4L252.4 608.7L253.3 608.8L254.2 608.6L255.1 609.1L256.0 608.4L256.9 608.3L257.8 608.5L258.7 608.5L259.6 608.2L260.5 608.4L261.4 608.1L262.3 607.8L263.2 608.0L264.1 607.8L264.2 607.8L264.4 607.8L264.6 607.8L264.8 607.8L265.0 607.5L265.2 608.0L265.4 607.6L265.6 607.3L265.8 607.4L265.9 607.2L266.0 607.2L266.2 606.7L266.4 606.4L266.6 605.9L266.8 605.8L267.0 605.6L267.2 604.9L267.4 604.3L267.6 603.5L267.7 603.9L267.8 603.1L268.0 602.8L268.2 601.6L268.4 601.0L268.6 600.4L268.8 599.7L269.0 599.4L269.2 599.3L269.4 598.9L269.5 598.7L269.6 598.9L269.8 598.8L270.0 599.0L270.2 598.3L270.4 598.3L270.6 597.8L270.8 597.0L271.0 596.0L271.2 594.6L271.3 593.5L271.4 592.8L271.5 591.7L271.6 590.8L271.7 590.3L271.8 589.0L271.9 587.7L272.0 586.5L272.1 586.2L272.2 585.2L272.3 583.8L272.4 583.0L272.5 582.3L272.6 581.3L272.7 580.9L272.8 580.7L272.9 579.9L273.0 579.7L273.1 579.6L273.2 579.7L273.3 580.1L273.4 580.6L273.5 581.1L273.6 581.9L273.7 582.3L273.8 582.7L273.9 583.4L274.0 583.8L274.1 584.9L274.2 585.9L274.3 585.9L274.4 586.3L274.5 587.2L274.6 587.6L274.7 587.5L274.8 587.6L274.9 588.1L275.0 587.9L275.1 588.0L275.2 587.9L275.3 587.8L275.4 587.3L275.5 587.2L275.6 587.0L275.7 587.2L275.8 586.1L275.9 586.5L276.0 586.3L276.1 586.5L276.2 586.3L276.3 586.9L276.4 586.9L276.5 587.3L276.6 587.6L276.7 588.7L276.8 589.3L276.9 589.9L277.0 590.3L277.1 591.9L277.2 592.4L277.3 593.5L277.4 594.2L277.5 595.0L277.6 596.0L277.7 596.8L277.8 597.7L277.9 598.6L278.1 600.1L278.3 601.7L278.5 602.6L278.7 603.7L278.9 604.4L279.1 604.8L279.3 605.5L279.4 605.7L279.5 605.8L279.7 606.8L279.9 606.5L280.1 606.9L280.3 607.1L280.5 607.5L280.7 607.2L280.9 607.2L281.1 607.3L281.2 607.6L282.1 607.7L283.0 607.8L283.9 607.8L284.8 608.0L285.7 608.3L286.6 608.3L287.5 608.4L288.4 608.4L289.3 608.6L290.2 608.3L291.1 608.6L292.0 608.7L292.9 608.4L293.8 608.6L294.7 608.5L295.6 608.9L296.5 608.3L297.4 608.4L298.3 608.4L299.2 608.2L300.1 608.1L300.2 608.3L300.4 607.7L300.6 608.1L300.8 607.8L301.0 607.5L301.2 607.9L301.4 607.7L301.6 607.7L301.8 607.1L301.9 607.3L302.0 607.3L302.2 606.5L302.4 606.2L302.6 606.1L302.8 605.2L303.0 604.7L303.2 603.5L303.4 602.9L303.6 602.4L303.7 601.9L303.8 601.5L304.0 600.3L304.2 599.4L304.4 598.3L304.6 597.6L304.8 597.2L305.0 596.6L305.2 596.0L305.4 596.2L305.5 596.7L305.6 596.9L305.8 597.6L306.0 598.4L306.2 599.7L306.4 600.2L306.6 601.5L306.8 602.3L307.0 603.8L307.2 604.0L307.3 604.2L307.4 605.3L307.6 605.1L307.8 605.9L308.0 606.6L308.2 607.1L308.4 606.9L308.6 607.3L308.8 607.4L309.0 607.8L309.1 608.0L309.2 607.7L309.4 608.1L309.6 607.8L309.8 608.4L310.0 608.3L310.9 608.6L311.8 608.1L312.7 608.8L313.6 608.8L314.5 608.4L315.4 608.5L316.3 608.1L317.2 608.2L318.1 608.5L319.0 608.5L319.9 609.0L320.8 608.8L321.7 608.7" fill="none" stroke="#e0202a" stroke-width="0.85" stroke-linejoin="round"/>
<path d="M19.3 608.6L20.2 608.8L21.1 608.7L22.0 608.6L22.9 608.2L23.8 608.2L24.7 608.3L25.6 608.1L26.5 607.8L27.1 607.8L27.3 607.6L27.4 607.9L27.5 607.4L27.7 607.2L27.9 607.2L28.1 607.0L28.3 606.9L28.5 606.3L28.7 606.4L28.9 606.4L29.1 605.9L29.2 605.2L29.3 604.8L29.5 604.0L29.7 602.9L29.9 601.6L30.1 600.0L30.3 597.5L30.5 594.9L30.7 591.3L30.9 587.7L31.0 585.5L31.1 583.5L31.3 579.8L31.5 575.5L31.7 572.4L31.9 570.9L32.1 570.1L32.3 571.0L32.5 573.6L32.7 576.8L32.8 578.8L32.9 580.6L33.1 584.9L33.3 588.8L33.5 592.3L33.7 595.4L33.9 598.1L34.1 600.4L34.3 602.2L34.5 603.5L34.6 604.0L34.7 604.3L34.9 605.1L35.1 605.7L35.3 606.1L35.5 606.3L35.7 606.3L35.9 606.5L36.1 607.0L36.3 606.9L36.4 607.2L36.5 607.1L36.7 607.3L36.9 607.4L37.3 607.6L37.9 607.9L38.1 607.4L38.2 607.2L38.3 607.6L38.5 607.3L38.7 607.4L38.9 607.3L39.1 607.4L39.3 607.2L39.5 607.1L39.7 607.4L39.9 606.7L40.0 606.6L40.1 607.0L40.3 605.9L40.5 605.5L40.7 604.8L40.9 603.9L41.1 603.0L41.3 601.8L41.4 600.9L41.5 600.1L41.6 598.6L41.7 597.8L41.8 597.3L41.9 596.4L42.0 595.2L42.1 594.2L42.2 593.5L42.3 592.7L42.4 591.2L42.5 590.7L42.6 590.6L42.7 590.2L42.8 589.7L42.9 589.4L43.0 589.4L43.1 589.8L43.2 590.5L43.3 590.6L43.4 591.2L43.5 592.1L43.6 593.0L43.7 593.5L43.8 594.5L43.9 595.5L44.0 596.0L44.1 597.0L44.2 597.1L44.3 597.7L44.4 598.5L44.5 598.6L44.6 598.6L44.7 599.5L44.8 599.1L44.9 598.7L45.0 599.2L45.1 598.7L45.2 598.6L45.3 598.0L45.4 598.0L45.5 597.4L45.6 596.7L45.7 596.0L45.8 595.5L45.9 595.1L46.0 594.5L46.1 594.3L46.2 594.2L46.3 594.5L46.4 594.3L46.5 593.8L46.6 594.3L46.7 595.1L46.8 595.6L46.9 596.2L47.0 597.1L47.1 597.3L47.2 598.5L47.3 599.2L47.4 599.4L47.5 601.1L47.6 601.2L47.7 602.3L47.8 602.7L48.0 603.7L48.1 604.3L48.2 604.6L48.4 605.6L48.6 606.1L48.8 606.8L49.0 607.0L49.2 607.5L49.4 607.2L49.6 607.8L49.8 607.5L49.9 607.8L50.0 607.8L50.2 607.6L50.4 607.9L50.6 608.4L50.8 607.9L51.0 608.7L51.2 608.0L51.7 608.3L52.6 608.6L53.5 608.4L54.4 608.5L55.3 608.0L56.2 608.6L57.1 608.1L58.0 608.2L58.9 608.7L59.8 608.7L60.7 608.3L61.6 608.6L62.5 608.5L63.4 608.6L64.3 608.8L65.2 608.7L66.1 608.8L67.0 608.9L67.9 608.6L68.8 608.2L69.7 608.2L70.6 608.6L71.5 608.5L72.4 608.4L73.3 608.2L74.2 608.5L75.1 608.6L76.0 608.6L76.9 608.2L77.8 607.9L78.7 608.6L79.6 608.9L80.5 608.2L81.4 608.4L82.3 608.3L83.2 608.0L84.1 608.2L85.0 608.4L85.9 608.4L86.8 607.9L87.7 608.0L88.6 607.5L89.5 607.5L90.4 606.9L91.1 606.7L91.3 606.3L91.5 606.1L91.7 605.6L91.9 605.2L92.1 605.2L92.2 605.2L92.3 604.4L92.5 604.2L92.7 603.6L92.9 602.8L93.1 601.7L93.3 600.6L93.5 599.2L93.7 597.4L93.9 595.6L94.0 594.3L94.1 592.9L94.3 590.0L94.5 586.7L94.7 583.0L94.9 579.3L95.1 575.4L95.3 571.8L95.5 567.6L95.7 564.6L95.8 563.7L95.9 562.3L96.1 561.0L96.3 560.8L96.5 561.9L96.7 563.2L96.9 564.9L97.1 566.3L97.3 568.5L97.5 569.4L97.6 569.7L97.7 569.5L97.9 568.5L98.1 567.0L98.3 564.1L98.5 559.2L98.7 554.2L98.9 548.7L99.1 542.6L99.3 537.2L99.4 535.5L99.5 533.1L99.7 530.2L99.9 530.2L100.1 532.1L100.3 535.9L100.5 542.0L100.7 549.0L100.9 556.2L101.1 563.6L101.2 566.7L101.3 570.6L101.5 576.3L101.7 582.5L101.9 586.9L102.1 591.3L102.3 594.3L102.5 596.6L102.7 598.6L102.9 600.2L103.0 601.2L103.1 601.7L103.3 602.6L103.5 603.3L103.7 604.1L103.9 604.2L104.1 604.8L104.3 604.9L104.5 605.3L104.7 605.5L104.8 605.9L105.7 606.6L106.6 607.3L107.5 607.4L108.4 607.6L109.3 607.6L110.2 608.2L111.1 607.3L112.0 608.2L112.9 607.9L113.8 608.0L114.7 608.9L115.6 608.4L116.5 608.1L117.4 609.0L118.3 608.3L119.2 608.7L120.1 608.6L121.0 608.5L121.9 608.9L122.8 608.5L123.7 608.7L124.6 608.7L125.5 608.4L126.4 607.8L127.3 608.5L128.2 608.4L129.1 608.5L130.0 608.6L130.9 608.4L131.4 608.0L131.6 608.3L131.8 608.1L132.0 608.3L132.2 607.7L132.4 608.6L132.6 608.0L132.7 608.0L132.8 608.0L133.0 608.2L133.2 608.1L133.4 607.8L133.6 607.5L133.8 607.6L134.0 607.2L134.2 606.5L134.4 605.9L134.5 605.9L134.6 605.7L134.8 605.0L135.0 603.5L135.2 603.1L135.4 602.3L135.6 601.2L135.8 600.1L136.0 599.7L136.2 599.8L136.3 599.4L136.4 599.4L136.6 599.5L136.8 600.1L137.0 600.6L137.2 601.6L137.4 602.1L137.6 603.1L137.8 604.2L138.0 605.1L138.1 605.2L138.2 605.3L138.4 605.9L138.6 606.5L138.8 607.7L139.0 607.4L139.2 607.7L139.4 607.8L139.6 608.2L139.8 608.1L139.9 608.2L140.0 607.5L140.2 608.0L140.4 608.3L140.6 608.3L140.8 608.3L141.0 608.3L141.2 608.5L141.7 608.4L142.6 608.3L143.5 608.4L144.4 608.5L145.3 608.3L146.2 608.6L147.1 608.9L148.0 609.0L148.9 608.8L149.8 608.7L150.7 608.6L151.6 608.4L152.5 608.8L153.4 608.9L154.3 608.5L155.2 608.4L156.1 608.8L157.0 608.6L157.9 608.4L158.8 608.6L159.7 608.7L160.6 609.2L161.5 608.4L162.4 608.6L163.3 608.7L164.2 608.8L165.1 609.0L166.0 608.7L166.9 608.7L167.8 608.5L168.7 609.0L169.6 608.4L170.5 608.7L171.4 608.5L172.3 608.9L173.2 608.6L174.1 608.5L175.0 608.7L175.9 609.0L176.8 608.8L177.7 608.6L178.6 609.0L179.5 609.0L180.4 608.7L181.3 608.9L182.2 608.6L183.1 609.0L184.0 609.1L184.9 608.9L185.8 608.4L186.7 608.9L187.6 608.7L188.5 608.7L189.4 608.9L190.3 608.5L191.2 608.7L192.1 608.6L193.0 609.1L193.9 609.1L194.8 609.3L195.7 608.8L196.6 608.8L197.5 608.6L198.4 608.4L199.3 608.8L200.2 608.8L201.1 608.6L202.0 608.4L202.9 608.9L203.8 608.6L204.7 608.8L205.6 608.8L206.5 608.5L207.4 608.9L208.3 608.9L209.2 608.5L210.1 608.7L211.0 608.7L211.9 608.7L212.8 608.5L213.7 608.7L214.6 608.4L215.5 608.5L216.4 608.2L217.3 608.2L218.2 608.2L218.3 608.4L218.5 608.3L218.7 608.4L218.9 607.6L219.1 608.2L219.3 608.0L219.5 607.7L219.7 608.2L219.9 607.9L220.0 607.8L220.1 607.8L220.3 607.6L220.5 607.2L220.7 606.4L220.9 606.1L221.1 605.8L221.3 605.1L221.5 604.8L221.7 603.5L221.8 603.2L221.9 603.1L222.1 601.9L222.3 601.1L222.5 600.3L222.7 599.7L222.9 599.0L223.1 598.7L223.3 598.3L223.5 598.5L223.6 598.7L223.7 599.0L223.9 599.7L224.1 600.0L224.3 601.7L224.5 601.9L224.7 603.0L224.9 603.9L225.1 604.7L225.3 605.4L225.4 605.9L225.5 606.2L225.7 606.4L225.9 607.2L226.1 607.0L226.3 607.2L226.5 608.4L226.7 608.1L226.9 607.9L227.1 608.0L227.2 608.0L227.3 608.0L227.5 608.0L227.7 608.0L227.9 607.9L228.1 608.3L229.0 608.2L229.9 608.9L230.8 608.6L231.7 608.8L232.6 608.3L233.5 608.1L234.4 608.5L235.3 608.9L236.2 608.7L237.1 608.6L238.0 608.6L238.9 608.4L239.8 608.5L240.7 609.3L241.6 608.4L242.5 608.8L243.4 608.8L244.3 608.4L245.2 608.7L246.1 609.0L247.0 608.9L247.9 608.6L248.8 608.4L249.7 608.3L250.6 608.7L251.5 608.7L252.4 608.3L253.3 608.7L254.2 608.3L255.1 608.5L256.0 608.5L256.9 608.6L257.8 608.4L258.7 608.6L259.6 608.6L260.5 608.4L261.4 608.5L262.3 608.1L263.2 608.1L264.1 607.9L264.2 607.9L264.4 607.8L264.6 607.3L264.8 607.6L265.0 607.6L265.2 607.4L265.4 607.1L265.6 607.0L265.8 606.8L265.9 606.7L266.0 606.4L266.2 606.0L266.4 605.5L266.6 605.4L266.8 604.6L267.0 604.1L267.2 602.5L267.4 601.4L267.6 600.3L267.7 599.9L267.8 599.1L268.0 598.2L268.2 597.0L268.4 596.1L268.6 594.9L268.8 594.0L269.0 593.1L269.2 592.7L269.4 593.2L269.5 593.1L269.6 593.4L269.8 594.1L270.0 595.0L270.2 595.4L270.4 596.2L270.6 596.5L270.8 596.7L271.0 596.9L271.2 596.7L271.3 596.4L271.4 596.6L271.5 595.9L271.6 596.2L271.7 595.4L271.8 595.0L271.9 594.8L272.0 594.5L272.1 593.6L272.2 593.4L272.3 592.6L272.4 592.2L272.5 592.0L272.6 591.6L272.7 591.1L272.8 591.0L272.9 591.1L273.0 590.8L273.1 590.8L273.2 591.0L273.3 591.1L273.4 591.4L273.5 591.7L273.6 592.2L273.7 592.7L273.8 592.5L273.9 593.3L274.0 593.4L274.1 594.2L274.2 594.1L274.3 594.6L274.4 594.0L274.5 595.1L274.6 595.2L274.7 594.9L274.8 594.8L274.9 595.5L275.0 595.0L275.1 594.7L275.2 595.0L275.3 594.4L275.4 594.5L275.5 594.4L275.6 594.1L275.7 593.9L275.8 593.9L275.9 593.0L276.0 593.5L276.1 593.6L276.2 593.3L276.3 593.6L276.4 593.5L276.5 594.1L276.6 594.3L276.7 594.8L276.8 595.2L276.9 595.8L277.0 596.3L277.1 596.5L277.2 597.7L277.3 598.2L277.4 598.8L277.5 599.2L277.6 599.9L277.7 600.4L277.8 601.4L277.9 601.6L278.1 602.8L278.3 603.7L278.5 604.4L278.7 605.5L278.9 605.6L279.1 606.1L279.3 606.8L279.4 606.7L279.5 606.5L279.7 607.2L279.9 607.1L280.1 607.5L280.3 607.7L280.5 607.8L280.7 607.8L280.9 607.5L281.1 607.7L281.2 608.0L282.1 607.9L283.0 608.2L283.9 608.5L284.8 608.3L285.7 608.6L286.6 608.8L287.5 608.2L288.4 608.9L289.3 608.4L290.2 608.9L291.1 608.6L292.0 608.6L292.9 608.7L293.8 609.1L294.7 608.6L295.6 608.6L296.5 608.7L297.4 608.5L298.3 608.3L299.2 608.6L300.1 608.3L300.2 608.6L300.4 608.2L300.6 608.1L300.8 607.7L301.0 608.0L301.2 608.0L301.4 607.7L301.6 608.1L301.8 607.6L301.9 607.8L302.0 607.8L302.2 607.2L302.4 607.1L302.6 606.6L302.8 606.8L303.0 606.0L303.2 605.7L303.4 605.1L303.6 604.8L303.7 603.9L303.8 603.7L304.0 603.3L304.2 602.7L304.4 602.0L304.6 600.9L304.8 600.8L305.0 600.5L305.2 600.3L305.4 600.5L305.5 600.5L305.6 600.6L305.8 601.1L306.0 601.6L306.2 602.7L306.4 603.1L306.6 603.9L306.8 604.4L307.0 605.0L307.2 605.7L307.3 605.9L307.4 605.9L307.6 606.6L307.8 607.1L308.0 607.1L308.2 607.2L308.4 607.7L308.6 607.8L308.8 608.1L309.0 608.1L309.1 607.9L309.2 608.0L309.4 608.2L309.6 608.3L309.8 608.7L310.0 608.3L310.9 608.3L311.8 608.3L312.7 608.1L313.6 608.5L314.5 608.4L315.4 608.9L316.3 608.4L317.2 608.5L318.1 608.4L319.0 608.5L319.9 608.6L320.8 608.4L321.7 608.8" fill="none" stroke="#2a18c8" stroke-width="0.85" stroke-linejoin="round"/>
<path d="M331.6 164.7L332.0 164.7L332.4 164.8L332.8 164.8L333.2 164.6L333.6 164.6L334.0 164.5L334.4 164.4L334.8 164.5L335.2 164.3L335.6 164.2L336.0 164.3L336.4 164.2L336.8 164.2L337.2 163.9L337.6 163.7L338.0 164.0L338.4 163.7L338.8 163.6L339.2 163.6L339.6 163.5L340.0 163.4L340.4 163.2L340.8 163.0L341.2 162.8L341.6 162.7L342.0 162.5L342.4 162.3L342.8 162.3L343.2 161.8L343.6 161.6L344.0 161.5L344.4 161.0L344.8 160.8L345.2 160.5L345.6 160.0L346.0 160.0L346.4 159.4L346.8 158.7L347.2 158.1L347.6 157.5L348.0 156.3L348.4 155.4L348.8 154.3L349.2 152.7L349.6 150.6L350.0 148.2L350.4 145.8L350.8 142.1L351.2 138.0L351.6 133.2L352.0 127.3L352.4 120.7L352.8 113.0L353.2 104.3L353.6 95.0L354.0 84.9L354.4 74.4L354.8 63.8L355.2 53.4L355.6 44.0L356.0 35.9L356.4 29.9L356.8 27.0L357.2 26.9L357.6 29.6L358.0 35.1L358.4 42.9L358.8 52.2L359.2 62.4L359.6 73.3L360.0 84.4L360.4 94.9L360.8 105.0L361.2 114.4L361.6 122.4L362.0 129.9L362.4 136.3L362.8 141.6L363.2 145.9L363.6 149.7L364.0 152.8L364.4 155.0L364.8 156.8L365.2 158.3L365.6 159.3L366.0 160.2L366.4 160.9L366.8 161.5L367.2 161.8L367.6 162.3L368.0 162.4L368.4 162.7L368.8 162.9L369.2 163.4L369.6 163.2L370.0 163.6L370.4 163.7L370.8 163.7L371.2 163.9L371.6 164.0L372.0 164.3L372.4 164.2L372.8 164.2L373.2 164.3L373.6 164.4L374.0 164.5L374.4 164.5L374.8 164.7L375.2 164.7L375.6 164.5L376.0 164.8L376.4 164.7L376.8 164.8L377.2 164.7L377.6 165.0L378.0 164.9L378.4 165.0L378.8 165.1L379.2 165.0L379.6 165.2L380.0 165.1L380.4 165.2L380.8 165.1L381.2 165.2L381.6 165.4L382.0 165.3L382.4 165.3L382.8 165.4L383.2 165.2L383.6 165.3L384.0 165.2L384.4 165.4L384.8 165.4L385.2 165.3L385.6 165.5L386.0 165.4L386.4 165.4L386.8 165.5L387.2 165.4L387.6 165.5L388.0 165.4L388.4 165.6L388.8 165.6L389.2 165.3L389.6 165.5L390.0 165.7L390.4 165.4L390.8 165.6L391.2 165.8L391.6 165.5L392.0 165.4L392.4 165.5L392.8 165.3L393.2 165.5L393.6 165.5L394.0 165.6L394.4 165.5L394.8 165.4L395.2 165.5L395.6 165.5L396.0 165.7L396.4 165.6L396.8 165.6L397.2 165.4L397.6 165.6L398.0 165.5L398.4 165.6L398.8 165.3L399.2 165.6L399.6 165.5L400.0 165.2L400.4 165.5L400.8 165.6L401.2 165.4L401.6 165.4L402.0 165.4L402.4 165.6L402.8 165.4L403.2 165.6L403.6 165.2L404.0 165.4L404.4 165.4L404.8 165.3L405.2 165.3L405.6 165.5L406.0 165.2L406.4 165.4L406.8 165.5L407.2 165.2L407.6 165.1L408.0 165.1L408.4 165.2L408.8 165.3L409.2 165.1L409.6 165.0L410.0 165.1L410.4 165.0L410.8 165.2L411.2 164.9L411.6 164.9L412.0 165.1L412.4 165.1L412.8 165.0L413.2 164.8L413.6 164.7L414.0 164.8L414.4 164.7L414.8 164.6L415.2 164.5L415.6 164.4L416.0 164.4L416.4 164.3L416.8 164.2L417.2 164.2L417.6 163.9L418.0 163.9L418.4 163.6L418.8 163.6L419.2 163.4L419.6 163.3L420.0 163.1L420.4 162.8L420.8 162.5L421.2 162.3L421.6 161.9L422.0 161.3L422.4 160.7L422.8 159.9L423.2 159.0L423.6 158.0L424.0 156.8L424.4 155.0L424.8 153.1L425.2 150.7L425.6 147.6L426.0 144.4L426.4 140.8L426.8 136.7L427.2 132.1L427.6 127.5L428.0 122.4L428.4 117.7L428.8 113.1L429.2 109.6L429.6 106.6L430.0 105.3L430.4 105.0L430.8 106.3L431.2 108.3L431.6 111.3L432.0 115.0L432.4 119.0L432.8 123.3L433.2 127.8L433.6 132.1L434.0 136.5L434.4 140.8L434.8 144.3L435.2 147.8L435.6 150.6L436.0 153.1L436.4 155.4L436.8 157.3L437.2 158.6L437.6 159.9L438.0 160.8L438.4 161.7L438.8 162.3L439.2 162.7L439.6 163.3L440.0 163.6L440.4 163.9L440.8 164.0L441.2 164.1L441.6 164.2L442.0 164.5L442.4 164.7L442.8 164.8L443.2 164.9L443.6 164.8L444.0 164.8L444.4 165.2L444.8 165.2L445.2 164.9L445.6 165.3L446.0 165.1L446.4 165.3L446.8 165.2L447.2 165.2L447.6 165.3L448.0 165.3" fill="none" stroke="#111111" stroke-width="0.85" stroke-linejoin="round"/>
<path d="M331.6 164.7L332.0 164.6L332.4 164.4L332.8 164.5L333.2 164.6L333.6 164.6L334.0 164.4L334.4 164.4L334.8 164.3L335.2 164.3L335.6 164.1L336.0 164.1L336.4 164.0L336.8 163.9L337.2 163.8L337.6 163.9L338.0 163.5L338.4 163.5L338.8 163.4L339.2 163.3L339.6 163.1L340.0 163.0L340.4 162.9L340.8 162.8L341.2 162.8L341.6 162.5L342.0 162.3L342.4 162.1L342.8 161.6L343.2 161.8L343.6 161.4L344.0 161.0L344.4 160.7L344.8 160.4L345.2 160.3L345.6 159.8L346.0 159.2L346.4 158.8L346.8 157.9L347.2 157.4L347.6 156.6L348.0 155.5L348.4 154.4L348.8 152.9L349.2 151.2L349.6 149.0L350.0 146.4L350.4 143.2L350.8 139.5L351.2 135.0L351.6 129.5L352.0 123.4L352.4 116.5L352.8 108.5L353.2 99.9L353.6 90.1L354.0 80.4L354.4 69.8L354.8 59.7L355.2 49.8L355.6 41.0L356.0 33.8L356.4 28.7L356.8 26.5L357.2 27.3L357.6 30.7L358.0 36.2L358.4 44.0L358.8 53.3L359.2 63.4L359.6 74.0L360.0 84.6L360.4 94.9L360.8 104.9L361.2 113.9L361.6 122.2L362.0 129.2L362.4 135.4L362.8 140.9L363.2 145.3L363.6 148.9L364.0 152.1L364.4 154.5L364.8 156.2L365.2 157.7L365.6 159.0L366.0 159.7L366.4 160.6L366.8 161.4L367.2 161.6L367.6 162.0L368.0 162.1L368.4 162.6L368.8 162.8L369.2 163.0L369.6 163.2L370.0 163.5L370.4 163.5L370.8 163.7L371.2 163.6L371.6 163.6L372.0 164.1L372.4 164.2L372.8 164.3L373.2 164.3L373.6 164.4L374.0 164.4L374.4 164.4L374.8 164.7L375.2 164.7L375.6 164.8L376.0 164.6L376.4 164.6L376.8 164.9L377.2 165.0L377.6 164.9L378.0 164.8L378.4 164.8L378.8 165.0L379.2 164.9L379.6 165.0L380.0 165.1L380.4 164.9L380.8 165.1L381.2 165.3L381.6 165.2L382.0 165.4L382.4 165.2L382.8 165.1L383.2 165.4L383.6 165.2L384.0 165.1L384.4 165.3L384.8 165.4L385.2 165.4L385.6 165.4L386.0 165.5L386.4 165.5L386.8 165.4L387.2 165.4L387.6 165.3L388.0 165.5L388.4 165.2L388.8 165.3L389.2 165.3L389.6 165.5L390.0 165.3L390.4 165.5L390.8 165.3L391.2 165.4L391.6 165.6L392.0 165.5L392.4 165.3L392.8 165.4L393.2 165.5L393.6 165.5L394.0 165.5L394.4 165.6L394.8 165.5L395.2 165.6L395.6 165.5L396.0 165.4L396.4 165.6L396.8 165.4L397.2 165.5L397.6 165.4L398.0 165.4L398.4 165.4L398.8 165.4L399.2 165.4L399.6 165.5L400.0 165.4L400.4 165.6L400.8 165.5L401.2 165.4L401.6 165.5L402.0 165.4L402.4 165.5L402.8 165.3L403.2 165.5L403.6 165.4L404.0 165.4L404.4 165.3L404.8 165.4L405.2 165.5L405.6 165.5L406.0 165.4L406.4 165.4L406.8 165.2L407.2 165.1L407.6 165.5L408.0 165.4L408.4 165.2L408.8 165.1L409.2 165.1L409.6 165.1L410.0 165.1L410.4 165.0L410.8 164.9L411.2 165.0L411.6 165.1L412.0 165.0L412.4 164.9L412.8 165.0L413.2 164.9L413.6 164.8L414.0 164.8L414.4 164.6L414.8 164.6L415.2 164.7L415.6 164.5L416.0 164.4L416.4 164.1L416.8 164.2L417.2 164.0L417.6 164.0L418.0 164.1L418.4 163.7L418.8 163.7L419.2 163.6L419.6 163.4L420.0 162.9L420.4 163.0L420.8 162.6L421.2 162.1L421.6 161.7L422.0 161.5L422.4 160.7L422.8 160.0L423.2 159.1L423.6 157.9L424.0 156.7L424.4 155.0L424.8 152.8L425.2 150.7L425.6 147.7L426.0 144.4L426.4 140.8L426.8 136.6L427.2 132.2L427.6 127.3L428.0 122.5L428.4 117.6L428.8 113.1L429.2 109.4L429.6 106.7L430.0 105.2L430.4 105.1L430.8 106.4L431.2 108.2L431.6 111.3L432.0 114.8L432.4 119.1L432.8 123.3L433.2 127.6L433.6 132.2L434.0 136.7L434.4 140.6L434.8 144.3L435.2 147.6L435.6 150.6L436.0 153.1L436.4 155.3L436.8 157.1L437.2 158.7L437.6 159.9L438.0 160.8L438.4 161.8L438.8 162.3L439.2 163.0L439.6 163.3L440.0 163.6L440.4 163.7L440.8 164.1L441.2 164.1L441.6 164.5L442.0 164.5L442.4 164.5L442.8 164.6L443.2 164.9L443.6 165.0L444.0 164.8L444.4 165.1L444.8 165.0L445.2 165.1L445.6 165.1L446.0 164.9L446.4 165.0L446.8 165.2L447.2 165.4L447.6 165.3L448.0 165.3" fill="none" stroke="#e0202a" stroke-width="0.85" stroke-linejoin="round"/>
<path d="M331.6 164.8L332.0 164.6L332.4 164.9L332.8 164.7L333.2 164.6L333.6 164.7L334.0 164.4L334.4 164.6L334.8 164.4L335.2 164.4L335.6 164.6L336.0 164.4L336.4 164.3L336.8 164.0L337.2 164.0L337.6 163.9L338.0 163.9L338.4 164.0L338.8 163.7L339.2 163.7L339.6 163.4L340.0 163.2L340.4 163.0L340.8 163.1L341.2 162.9L341.6 162.9L342.0 162.7L342.4 162.6L342.8 162.2L343.2 162.2L343.6 161.9L344.0 161.7L344.4 161.4L344.8 161.1L345.2 160.9L345.6 160.4L346.0 160.1L346.4 159.5L346.8 159.1L347.2 158.4L347.6 157.6L348.0 157.2L348.4 156.0L348.8 154.8L349.2 153.2L349.6 151.6L350.0 149.4L350.4 147.0L350.8 143.9L351.2 140.5L351.6 136.1L352.0 131.6L352.4 126.0L352.8 119.4L353.2 112.6L353.6 105.1L354.0 96.7L354.4 88.3L354.8 79.6L355.2 71.1L355.6 62.9L356.0 55.7L356.4 50.1L356.8 45.8L357.2 44.1L357.6 44.5L358.0 47.2L358.4 52.1L358.8 58.3L359.2 65.8L359.6 74.1L360.0 83.0L360.4 92.0L360.8 100.7L361.2 109.1L361.6 116.9L362.0 124.3L362.4 130.8L362.8 136.6L363.2 141.3L363.6 145.6L364.0 149.1L364.4 152.0L364.8 154.5L365.2 156.3L365.6 158.0L366.0 159.0L366.4 160.0L366.8 160.5L367.2 161.2L367.6 161.8L368.0 162.1L368.4 162.4L368.8 162.8L369.2 163.0L369.6 163.2L370.0 163.1L370.4 163.5L370.8 163.8L371.2 163.7L371.6 163.6L372.0 164.1L372.4 163.7L372.8 164.2L373.2 164.2L373.6 164.4L374.0 164.4L374.4 164.6L374.8 164.7L375.2 164.8L375.6 164.5L376.0 164.8L376.4 164.7L376.8 164.8L377.2 164.9L377.6 164.9L378.0 164.9L378.4 165.0L378.8 165.0L379.2 165.0L379.6 165.2L380.0 165.2L380.4 165.2L380.8 165.1L381.2 165.0L381.6 165.0L382.0 165.2L382.4 165.1L382.8 165.2L383.2 165.2L383.6 165.3L384.0 165.3L384.4 165.4L384.8 165.3L385.2 165.2L385.6 165.5L386.0 165.4L386.4 165.4L386.8 165.3L387.2 165.2L387.6 165.5L388.0 165.7L388.4 165.4L388.8 165.4L389.2 165.6L389.6 165.5L390.0 165.5L390.4 165.7L390.8 165.4L391.2 165.4L391.6 165.5L392.0 165.6L392.4 165.6L392.8 165.6L393.2 165.5L393.6 165.6L394.0 165.4L394.4 165.5L394.8 165.7L395.2 165.3L395.6 165.5L396.0 165.6L396.4 165.5L396.8 165.7L397.2 165.5L397.6 165.8L398.0 165.6L398.4 165.4L398.8 165.4L399.2 165.5L399.6 165.6L400.0 165.4L400.4 165.5L400.8 165.5L401.2 165.4L401.6 165.6L402.0 165.4L402.4 165.7L402.8 165.3L403.2 165.6L403.6 165.5L404.0 165.5L404.4 165.3L404.8 165.3L405.2 165.3L405.6 165.3L406.0 165.3L406.4 165.3L406.8 165.5L407.2 165.5L407.6 165.5L408.0 165.3L408.4 165.3L408.8 165.2L409.2 165.2L409.6 165.2L410.0 165.2L410.4 165.3L410.8 165.3L411.2 164.9L411.6 164.9L412.0 165.1L412.4 165.0L412.8 164.8L413.2 164.7L413.6 164.9L414.0 164.7L414.4 164.6L414.8 164.8L415.2 164.6L415.6 164.5L416.0 164.5L416.4 164.1L416.8 164.1L417.2 164.1L417.6 164.1L418.0 163.8L418.4 163.7L418.8 163.7L419.2 163.5L419.6 163.4L420.0 163.1L420.4 162.7L420.8 162.4L421.2 162.1L421.6 161.7L422.0 161.4L422.4 160.8L422.8 159.9L423.2 159.1L423.6 158.1L424.0 156.6L424.4 154.9L424.8 152.9L425.2 150.5L425.6 147.8L426.0 144.4L426.4 140.5L426.8 136.6L427.2 132.2L427.6 127.3L428.0 122.6L428.4 117.7L428.8 113.3L429.2 109.4L429.6 106.7L430.0 105.1L430.4 104.9L430.8 106.3L431.2 108.4L431.6 111.2L432.0 114.9L432.4 119.0L432.8 123.4L433.2 127.8L433.6 132.3L434.0 136.8L434.4 140.6L434.8 144.2L435.2 147.5L435.6 150.6L436.0 153.2L436.4 155.2L436.8 157.2L437.2 158.7L437.6 159.9L438.0 160.8L438.4 161.7L438.8 162.5L439.2 162.8L439.6 163.3L440.0 163.7L440.4 163.6L440.8 164.0L441.2 164.3L441.6 164.4L442.0 164.5L442.4 164.7L442.8 164.9L443.2 164.7L443.6 164.8L444.0 164.9L444.4 165.0L444.8 165.0L445.2 165.0L445.6 165.2L446.0 165.2L446.4 165.3L446.8 165.2L447.2 165.3L447.6 165.5L448.0 165.4" fill="none" stroke="#2a18c8" stroke-width="0.85" stroke-linejoin="round"/>
<path d="M331.6 312.6L332.0 312.8L332.4 312.7L332.8 312.7L333.2 312.5L333.6 312.6L334.0 312.6L334.4 312.6L334.8 312.5L335.2 312.3L335.6 312.3L336.0 312.4L336.4 312.0L336.8 312.2L337.2 312.2L337.6 312.0L338.0 312.0L338.4 311.9L338.8 311.8L339.2 311.6L339.6 311.6L340.0 311.6L340.4 311.2L340.8 311.2L341.2 310.9L341.6 310.8L342.0 310.7L342.4 310.5L342.8 310.2L343.2 310.2L343.6 310.0L344.0 309.7L344.4 309.7L344.8 309.2L345.2 308.8L345.6 308.5L346.0 307.9L346.4 307.6L346.8 307.1L347.2 306.5L347.6 305.7L348.0 305.0L348.4 304.0L348.8 302.6L349.2 301.1L349.6 299.0L350.0 296.8L350.4 294.0L350.8 290.1L351.2 285.5L351.6 280.3L352.0 273.7L352.4 266.3L352.8 258.1L353.2 248.7L353.6 238.5L354.0 227.4L354.4 216.2L354.8 205.3L355.2 195.4L355.6 187.0L356.0 181.3L356.4 178.6L356.8 179.4L357.2 183.4L357.6 190.0L358.0 198.9L358.4 209.3L358.8 220.6L359.2 232.2L359.6 243.4L360.0 254.0L360.4 263.8L360.8 272.5L361.2 280.1L361.6 286.5L362.0 291.8L362.4 296.2L362.8 299.4L363.2 302.4L363.6 304.3L364.0 306.1L364.4 307.0L364.8 308.0L365.2 308.9L365.6 309.4L366.0 310.0L366.4 310.2L366.8 310.5L367.2 310.5L367.6 311.1L368.0 311.0L368.4 311.4L368.8 311.5L369.2 311.5L369.6 311.7L370.0 311.8L370.4 312.0L370.8 312.1L371.2 312.1L371.6 312.1L372.0 312.5L372.4 312.4L372.8 312.6L373.2 312.6L373.6 312.7L374.0 312.5L374.4 312.5L374.8 312.6L375.2 312.9L375.6 312.8L376.0 313.0L376.4 312.8L376.8 312.8L377.2 312.9L377.6 312.9L378.0 313.0L378.4 313.2L378.8 313.3L379.2 313.1L379.6 313.1L380.0 313.0L380.4 313.2L380.8 313.2L381.2 313.2L381.6 313.1L382.0 313.2L382.4 313.4L382.8 313.2L383.2 313.2L383.6 313.3L384.0 313.4L384.4 313.3L384.8 313.5L385.2 313.5L385.6 313.4L386.0 313.4L386.4 313.3L386.8 313.2L387.2 313.4L387.6 313.2L388.0 313.5L388.4 313.3L388.8 313.5L389.2 313.4L389.6 313.5L390.0 313.5L390.4 313.4L390.8 313.6L391.2 313.4L391.6 313.5L392.0 313.4L392.4 313.4L392.8 313.5L393.2 313.5L393.6 313.6L394.0 313.4L394.4 313.5L394.8 313.4L395.2 313.6L395.6 313.3L396.0 313.6L396.4 313.4L396.8 313.5L397.2 313.4L397.6 313.5L398.0 313.4L398.4 313.5L398.8 313.3L399.2 313.4L399.6 313.4L400.0 313.3L400.4 313.5L400.8 313.3L401.2 313.4L401.6 313.6L402.0 313.4L402.4 313.5L402.8 313.3L403.2 313.5L403.6 313.4L404.0 313.4L404.4 313.6L404.8 313.3L405.2 313.5L405.6 313.2L406.0 313.2L406.4 313.3L406.8 313.5L407.2 313.3L407.6 313.3L408.0 313.2L408.4 313.3L408.8 313.4L409.2 313.3L409.6 313.3L410.0 313.0L410.4 313.2L410.8 313.2L411.2 313.1L411.6 313.2L412.0 313.1L412.4 313.0L412.8 313.0L413.2 313.0L413.6 312.8L414.0 312.8L414.4 312.9L414.8 312.8L415.2 312.6L415.6 312.6L416.0 312.5L416.4 312.4L416.8 312.2L417.2 312.2L417.6 312.1L418.0 312.0L418.4 311.7L418.8 311.7L419.2 311.2L419.6 311.2L420.0 310.9L420.4 310.5L420.8 310.1L421.2 309.6L421.6 308.9L422.0 308.1L422.4 306.9L422.8 305.2L423.2 302.9L423.6 300.3L424.0 296.7L424.4 292.4L424.8 287.0L425.2 280.8L425.6 274.5L426.0 267.5L426.4 261.1L426.8 255.7L427.2 252.2L427.6 251.6L428.0 251.9L428.4 253.1L428.8 255.1L429.2 257.2L429.6 260.0L430.0 263.2L430.4 266.8L430.8 270.2L431.2 273.8L431.6 277.3L432.0 280.8L432.4 284.5L432.8 287.5L433.2 290.6L433.6 293.3L434.0 295.9L434.4 298.4L434.8 300.3L435.2 302.2L435.6 303.8L436.0 305.1L436.4 306.4L436.8 307.3L437.2 308.4L437.6 308.7L438.0 309.4L438.4 310.0L438.8 310.6L439.2 311.1L439.6 311.2L440.0 311.4L440.4 311.4L440.8 311.6L441.2 312.0L441.6 311.9L442.0 312.0L442.4 312.3L442.8 312.2L443.2 312.4L443.6 312.6L444.0 312.7L444.4 312.6L444.8 312.6L445.2 312.9L445.6 312.9L446.0 312.8L446.4 313.1L446.8 312.7L447.2 313.0L447.6 312.9L448.0 312.8" fill="none" stroke="#111111" stroke-width="0.85" stroke-linejoin="round"/>
<path d="M331.6 312.9L332.0 312.8L332.4 312.4L332.8 312.6L333.2 312.6L333.6 312.5L334.0 312.3L334.4 312.3L334.8 312.3L335.2 312.3L335.6 312.2L336.0 312.1L336.4 312.0L336.8 312.0L337.2 311.8L337.6 312.0L338.0 311.8L338.4 311.5L338.8 311.5L339.2 311.5L339.6 311.5L340.0 311.4L340.4 311.2L340.8 311.0L341.2 310.9L341.6 310.9L342.0 310.7L342.4 310.4L342.8 310.1L343.2 310.2L343.6 309.8L344.0 309.7L344.4 309.3L344.8 308.5L345.2 308.5L345.6 308.1L346.0 307.6L346.4 307.1L346.8 306.5L347.2 305.5L347.6 304.5L348.0 303.2L348.4 302.1L348.8 300.3L349.2 298.3L349.6 296.4L350.0 293.6L350.4 290.8L350.8 287.3L351.2 283.4L351.6 279.4L352.0 274.8L352.4 269.9L352.8 264.6L353.2 259.0L353.6 253.4L354.0 247.8L354.4 242.3L354.8 237.2L355.2 233.0L355.6 229.3L356.0 227.0L356.4 225.8L356.8 226.1L357.2 227.8L357.6 230.4L358.0 234.5L358.4 239.0L358.8 244.2L359.2 249.7L359.6 255.5L360.0 261.4L360.4 267.2L360.8 272.6L361.2 277.8L361.6 282.4L362.0 286.9L362.4 290.7L362.8 294.2L363.2 297.4L363.6 299.8L364.0 302.1L364.4 303.7L364.8 305.2L365.2 306.6L365.6 307.6L366.0 308.6L366.4 309.4L366.8 309.8L367.2 310.2L367.6 310.7L368.0 310.8L368.4 311.0L368.8 311.2L369.2 311.3L369.6 311.5L370.0 311.8L370.4 311.8L370.8 311.9L371.2 312.2L371.6 312.0L372.0 312.1L372.4 312.3L372.8 312.4L373.2 312.0L373.6 312.4L374.0 312.4L374.4 312.4L374.8 312.5L375.2 312.7L375.6 312.7L376.0 312.9L376.4 312.7L376.8 313.0L377.2 312.8L377.6 312.9L378.0 313.1L378.4 312.8L378.8 313.1L379.2 312.9L379.6 313.1L380.0 313.0L380.4 313.2L380.8 312.8L381.2 313.0L381.6 313.0L382.0 313.1L382.4 313.1L382.8 313.2L383.2 313.2L383.6 313.2L384.0 313.2L384.4 313.3L384.8 313.4L385.2 313.3L385.6 313.2L386.0 313.3L386.4 313.3L386.8 313.3L387.2 313.4L387.6 313.4L388.0 313.4L388.4 313.4L388.8 313.4L389.2 313.2L389.6 313.5L390.0 313.6L390.4 313.3L390.8 313.4L391.2 313.4L391.6 313.1L392.0 313.2L392.4 313.3L392.8 313.3L393.2 313.4L393.6 313.3L394.0 313.4L394.4 313.4L394.8 313.4L395.2 313.2L395.6 313.2L396.0 313.4L396.4 313.2L396.8 313.4L397.2 313.2L397.6 313.4L398.0 313.2L398.4 313.3L398.8 313.4L399.2 313.3L399.6 313.3L400.0 313.4L400.4 313.4L400.8 313.1L401.2 313.3L401.6 313.5L402.0 313.5L402.4 313.5L402.8 313.3L403.2 313.1L403.6 313.4L404.0 313.2L404.4 313.4L404.8 313.1L405.2 313.1L405.6 313.1L406.0 313.0L406.4 312.9L406.8 313.0L407.2 313.1L407.6 313.2L408.0 313.1L408.4 313.1L408.8 312.7L409.2 312.9L409.6 312.8L410.0 312.8L410.4 312.6L410.8 312.8L411.2 312.6L411.6 312.6L412.0 312.6L412.4 312.7L412.8 312.3L413.2 312.4L413.6 312.3L414.0 312.2L414.4 312.1L414.8 311.8L415.2 311.9L415.6 311.7L416.0 311.5L416.4 311.3L416.8 311.1L417.2 310.9L417.6 310.4L418.0 310.3L418.4 309.9L418.8 309.2L419.2 308.4L419.6 307.7L420.0 306.7L420.4 305.4L420.8 303.9L421.2 302.2L421.6 300.1L422.0 297.9L422.4 294.9L422.8 292.0L423.2 289.0L423.6 285.3L424.0 281.9L424.4 278.4L424.8 275.4L425.2 272.3L425.6 270.4L426.0 269.3L426.4 268.8L426.8 269.4L427.2 270.8L427.6 272.7L428.0 275.3L428.4 277.9L428.8 281.0L429.2 284.2L429.6 287.3L430.0 290.6L430.4 293.6L430.8 296.4L431.2 298.9L431.6 301.0L432.0 303.2L432.4 305.0L432.8 306.3L433.2 307.6L433.6 308.7L434.0 309.3L434.4 310.3L434.8 310.7L435.2 311.4L435.6 311.6L436.0 311.8L436.4 311.9L436.8 312.4L437.2 312.3L437.6 312.4L438.0 312.6L438.4 312.4L438.8 312.8L439.2 312.9L439.6 312.9L440.0 313.1L440.4 312.8L440.8 312.9L441.2 313.1L441.6 313.1L442.0 313.1L442.4 313.0L442.8 313.3L443.2 313.4L443.6 313.5L444.0 313.3L444.4 313.5L444.8 313.4L445.2 313.3L445.6 313.4L446.0 313.5L446.4 313.3L446.8 313.5L447.2 313.4L447.6 313.4L448.0 313.6" fill="none" stroke="#e0202a" stroke-width="0.85" stroke-linejoin="round"/>
<path d="M331.6 312.8L332.0 312.4L332.4 312.6L332.8 312.7L333.2 312.6L333.6 312.6L334.0 312.6L334.4 312.4L334.8 312.4L335.2 312.3L335.6 312.2L336.0 312.4L336.4 312.3L336.8 312.0L337.2 312.0L337.6 311.8L338.0 311.8L338.4 311.9L338.8 311.6L339.2 311.6L339.6 311.4L340.0 311.2L340.4 311.0L340.8 311.1L341.2 310.9L341.6 310.7L342.0 310.5L342.4 310.7L342.8 310.3L343.2 310.0L343.6 309.7L344.0 309.6L344.4 309.1L344.8 308.8L345.2 308.5L345.6 308.1L346.0 307.5L346.4 306.9L346.8 306.0L347.2 305.1L347.6 304.3L348.0 303.2L348.4 301.7L348.8 299.8L349.2 297.9L349.6 295.6L350.0 293.0L350.4 290.0L350.8 286.6L351.2 282.9L351.6 278.6L352.0 274.0L352.4 269.0L352.8 263.9L353.2 258.5L353.6 252.9L354.0 247.7L354.4 242.6L354.8 238.1L355.2 234.3L355.6 231.5L356.0 229.7L356.4 229.4L356.8 230.2L357.2 232.5L357.6 235.6L358.0 239.5L358.4 244.3L358.8 249.4L359.2 254.9L359.6 260.7L360.0 266.2L360.4 271.6L360.8 276.5L361.2 281.4L361.6 285.8L362.0 289.6L362.4 293.4L362.8 296.4L363.2 299.0L363.6 301.4L364.0 303.2L364.4 304.8L364.8 306.1L365.2 307.3L365.6 308.3L366.0 309.0L366.4 309.6L366.8 310.2L367.2 310.3L367.6 310.6L368.0 311.0L368.4 311.2L368.8 311.3L369.2 311.5L369.6 311.6L370.0 311.6L370.4 311.9L370.8 311.9L371.2 312.0L371.6 312.1L372.0 312.2L372.4 312.3L372.8 312.4L373.2 312.3L373.6 312.3L374.0 312.5L374.4 312.4L374.8 312.5L375.2 312.5L375.6 312.6L376.0 312.6L376.4 312.5L376.8 312.8L377.2 312.7L377.6 312.9L378.0 312.9L378.4 312.8L378.8 312.9L379.2 312.7L379.6 312.6L380.0 312.7L380.4 312.7L380.8 312.7L381.2 312.7L381.6 312.6L382.0 312.5L382.4 312.5L382.8 312.4L383.2 312.2L383.6 311.7L384.0 311.4L384.4 310.7L384.8 310.1L385.2 309.0L385.6 308.2L386.0 307.0L386.4 306.0L386.8 305.5L387.2 305.5L387.6 305.4L388.0 305.9L388.4 306.3L388.8 306.8L389.2 306.9L389.6 307.2L390.0 307.5L390.4 307.9L390.8 308.0L391.2 308.5L391.6 308.8L392.0 309.1L392.4 309.7L392.8 310.0L393.2 310.4L393.6 310.8L394.0 311.2L394.4 311.6L394.8 311.8L395.2 312.1L395.6 312.1L396.0 312.3L396.4 312.5L396.8 312.5L397.2 312.7L397.6 312.9L398.0 312.5L398.4 312.5L398.8 312.8L399.2 312.7L399.6 312.6L400.0 312.6L400.4 312.7L400.8 312.6L401.2 312.5L401.6 312.5L402.0 312.4L402.4 312.4L402.8 312.4L403.2 312.2L403.6 312.3L404.0 311.9L404.4 312.1L404.8 311.9L405.2 311.7L405.6 311.6L406.0 311.5L406.4 311.3L406.8 311.4L407.2 311.1L407.6 311.0L408.0 310.9L408.4 310.7L408.8 310.4L409.2 310.4L409.6 310.2L410.0 309.9L410.4 309.7L410.8 309.5L411.2 309.3L411.6 309.0L412.0 308.8L412.4 308.6L412.8 308.3L413.2 308.3L413.6 307.8L414.0 307.8L414.4 307.4L414.8 307.2L415.2 307.1L415.6 307.0L416.0 306.4L416.4 306.4L416.8 306.2L417.2 305.7L417.6 305.5L418.0 305.1L418.4 304.7L418.8 304.4L419.2 303.9L419.6 303.1L420.0 302.4L420.4 301.2L420.8 299.8L421.2 298.1L421.6 296.1L422.0 293.9L422.4 291.0L422.8 288.0L423.2 285.1L423.6 281.7L424.0 278.2L424.4 275.2L424.8 272.7L425.2 270.6L425.6 269.2L426.0 268.9L426.4 269.9L426.8 271.1L427.2 273.2L427.6 275.6L428.0 278.3L428.4 281.4L428.8 284.6L429.2 287.5L429.6 290.9L430.0 293.8L430.4 296.4L430.8 299.0L431.2 301.3L431.6 303.1L432.0 305.0L432.4 306.3L432.8 307.5L433.2 308.6L433.6 309.5L434.0 310.2L434.4 310.9L434.8 311.2L435.2 311.5L435.6 311.7L436.0 312.0L436.4 312.2L436.8 312.4L437.2 312.5L437.6 312.5L438.0 312.5L438.4 312.7L438.8 312.8L439.2 312.9L439.6 312.9L440.0 313.0L440.4 313.2L440.8 313.2L441.2 313.2L441.6 313.1L442.0 313.2L442.4 313.2L442.8 313.1L443.2 313.3L443.6 313.1L444.0 313.2L444.4 313.4L444.8 313.2L445.2 313.5L445.6 313.5L446.0 313.4L446.4 313.4L446.8 313.4L447.2 313.6L447.6 313.5L448.0 313.5" fill="none" stroke="#2a18c8" stroke-width="0.85" stroke-linejoin="round"/>
<path d="M331.6 460.1L332.0 460.1L332.4 460.2L332.8 460.3L333.2 460.1L333.6 460.2L334.0 460.0L334.4 460.0L334.8 460.0L335.2 459.9L335.6 459.9L336.0 459.8L336.4 459.6L336.8 459.6L337.2 459.6L337.6 459.6L338.0 459.4L338.4 459.3L338.8 459.2L339.2 459.0L339.6 459.0L340.0 459.1L340.4 458.6L340.8 458.6L341.2 458.5L341.6 458.3L342.0 458.4L342.4 458.1L342.8 458.0L343.2 457.6L343.6 457.6L344.0 457.3L344.4 456.9L344.8 456.7L345.2 456.5L345.6 455.9L346.0 455.8L346.4 455.2L346.8 454.8L347.2 454.2L347.6 453.6L348.0 452.9L348.4 451.8L348.8 450.9L349.2 449.3L349.6 447.7L350.0 445.5L350.4 443.1L350.8 440.0L351.2 436.1L351.6 431.4L352.0 426.3L352.4 419.8L352.8 412.4L353.2 404.4L353.6 395.2L354.0 385.2L354.4 374.9L354.8 364.3L355.2 353.6L355.6 344.3L356.0 336.1L356.4 330.3L356.8 327.0L357.2 326.9L357.6 329.6L358.0 335.2L358.4 343.3L358.8 352.3L359.2 362.8L359.6 373.8L360.0 384.6L360.4 395.2L360.8 405.2L361.2 414.3L361.6 422.2L362.0 429.0L362.4 435.0L362.8 440.0L363.2 443.8L363.6 447.3L364.0 449.7L364.4 451.8L364.8 453.4L365.2 454.7L365.6 455.5L366.0 456.3L366.4 457.0L366.8 457.3L367.2 457.7L367.6 457.9L368.0 458.2L368.4 458.5L368.8 458.7L369.2 459.1L369.6 459.1L370.0 459.0L370.4 459.1L370.8 459.3L371.2 459.4L371.6 459.5L372.0 459.6L372.4 459.9L372.8 459.9L373.2 459.8L373.6 459.8L374.0 460.0L374.4 460.1L374.8 460.2L375.2 460.2L375.6 460.3L376.0 460.5L376.4 460.3L376.8 460.4L377.2 460.4L377.6 460.3L378.0 460.4L378.4 460.6L378.8 460.5L379.2 460.7L379.6 460.5L380.0 460.6L380.4 460.7L380.8 460.6L381.2 460.5L381.6 460.8L382.0 460.8L382.4 460.5L382.8 460.8L383.2 460.6L383.6 460.9L384.0 460.8L384.4 460.9L384.8 460.8L385.2 460.9L385.6 460.9L386.0 460.7L386.4 460.8L386.8 461.1L387.2 460.9L387.6 461.0L388.0 461.0L388.4 461.0L388.8 461.0L389.2 460.9L389.6 461.0L390.0 461.1L390.4 461.0L390.8 460.9L391.2 461.1L391.6 460.9L392.0 460.9L392.4 461.0L392.8 461.0L393.2 461.1L393.6 461.0L394.0 461.1L394.4 460.9L394.8 460.9L395.2 461.1L395.6 460.9L396.0 461.2L396.4 461.1L396.8 461.1L397.2 460.8L397.6 461.1L398.0 460.9L398.4 461.2L398.8 461.0L399.2 460.9L399.6 461.0L400.0 461.2L400.4 461.0L400.8 460.9L401.2 460.8L401.6 460.9L402.0 461.1L402.4 461.0L402.8 460.8L403.2 461.0L403.6 460.9L404.0 461.0L404.4 460.9L404.8 460.8L405.2 461.0L405.6 460.6L406.0 460.8L406.4 460.8L406.8 460.9L407.2 460.8L407.6 460.8L408.0 460.9L408.4 460.9L408.8 460.7L409.2 460.7L409.6 461.0L410.0 460.9L410.4 460.7L410.8 460.6L411.2 460.5L411.6 460.7L412.0 460.5L412.4 460.5L412.8 460.5L413.2 460.4L413.6 460.3L414.0 460.3L414.4 460.2L414.8 460.3L415.2 460.2L415.6 460.2L416.0 460.1L416.4 460.0L416.8 459.9L417.2 459.7L417.6 459.6L418.0 459.4L418.4 459.4L418.8 459.1L419.2 459.1L419.6 458.8L420.0 458.7L420.4 458.4L420.8 458.2L421.2 458.0L421.6 457.7L422.0 456.8L422.4 456.4L422.8 455.7L423.2 454.8L423.6 453.6L424.0 451.7L424.4 450.2L424.8 447.7L425.2 444.8L425.6 441.5L426.0 437.4L426.4 432.7L426.8 427.6L427.2 422.1L427.6 416.3L428.0 410.9L428.4 405.8L428.8 401.7L429.2 399.4L429.6 399.1L430.0 399.8L430.4 400.8L430.8 402.9L431.2 405.7L431.6 408.6L432.0 412.2L432.4 415.9L432.8 419.8L433.2 423.6L433.6 427.5L434.0 431.1L434.4 434.5L434.8 437.8L435.2 441.0L435.6 443.5L436.0 446.0L436.4 448.3L436.8 450.2L437.2 451.8L437.6 453.2L438.0 454.4L438.4 455.3L438.8 456.3L439.2 456.7L439.6 457.6L440.0 458.1L440.4 458.2L440.8 458.5L441.2 459.0L441.6 459.2L442.0 459.5L442.4 459.4L442.8 459.7L443.2 459.9L443.6 459.8L444.0 459.8L444.4 460.0L444.8 459.9L445.2 460.1L445.6 460.2L446.0 460.3L446.4 460.3L446.8 460.3L447.2 460.4L447.6 460.4L448.0 460.5" fill="none" stroke="#111111" stroke-width="0.85" stroke-linejoin="round"/>
<path d="M331.6 460.1L332.0 460.0L332.4 460.1L332.8 460.2L333.2 459.8L333.6 459.9L334.0 459.9L334.4 459.8L334.8 459.8L335.2 459.9L335.6 459.7L336.0 459.7L336.4 459.5L336.8 459.4L337.2 459.2L337.6 459.3L338.0 459.1L338.4 459.1L338.8 459.0L339.2 459.0L339.6 458.6L340.0 458.6L340.4 458.5L340.8 458.3L341.2 458.2L341.6 458.1L342.0 457.8L342.4 457.5L342.8 457.5L343.2 457.3L343.6 457.0L344.0 456.5L344.4 456.4L344.8 455.9L345.2 455.6L345.6 455.1L346.0 454.6L346.4 454.2L346.8 453.3L347.2 452.2L347.6 451.5L348.0 450.2L348.4 448.8L348.8 447.1L349.2 445.0L349.6 442.6L350.0 439.6L350.4 436.5L350.8 432.8L351.2 428.5L351.6 423.8L352.0 418.4L352.4 412.3L352.8 406.2L353.2 399.1L353.6 392.2L354.0 385.2L354.4 378.4L354.8 371.7L355.2 365.8L355.6 360.8L356.0 357.6L356.4 355.7L356.8 355.7L357.2 357.3L357.6 360.6L358.0 365.3L358.4 370.9L358.8 377.3L359.2 384.2L359.6 391.3L360.0 398.5L360.4 405.7L360.8 412.6L361.2 418.9L361.6 424.9L362.0 430.3L362.4 434.7L362.8 439.2L363.2 442.7L363.6 445.7L364.0 448.1L364.4 450.4L364.8 452.0L365.2 453.5L365.6 454.7L366.0 455.5L366.4 456.2L366.8 457.0L367.2 457.4L367.6 457.8L368.0 458.0L368.4 458.3L368.8 458.5L369.2 458.7L369.6 458.9L370.0 459.0L370.4 459.2L370.8 459.4L371.2 459.5L371.6 459.5L372.0 459.6L372.4 459.6L372.8 459.9L373.2 459.9L373.6 459.9L374.0 460.1L374.4 460.0L374.8 460.1L375.2 460.2L375.6 460.1L376.0 460.4L376.4 460.2L376.8 460.3L377.2 460.4L377.6 460.5L378.0 460.5L378.4 460.5L378.8 460.4L379.2 460.7L379.6 460.4L380.0 460.5L380.4 460.4L380.8 460.7L381.2 460.9L381.6 460.7L382.0 460.7L382.4 460.6L382.8 460.7L383.2 460.7L383.6 460.7L384.0 460.9L384.4 460.6L384.8 460.9L385.2 460.8L385.6 460.7L386.0 460.9L386.4 460.8L386.8 460.7L387.2 460.9L387.6 460.7L388.0 460.8L388.4 460.8L388.8 460.8L389.2 460.9L389.6 460.9L390.0 460.8L390.4 460.9L390.8 460.8L391.2 461.0L391.6 460.9L392.0 460.8L392.4 460.8L392.8 460.9L393.2 460.9L393.6 461.0L394.0 460.8L394.4 460.8L394.8 460.9L395.2 460.8L395.6 460.9L396.0 460.8L396.4 461.0L396.8 460.9L397.2 461.0L397.6 460.8L398.0 460.8L398.4 461.0L398.8 460.9L399.2 460.9L399.6 461.0L400.0 460.9L400.4 460.9L400.8 460.7L401.2 460.7L401.6 460.8L402.0 460.8L402.4 460.7L402.8 460.8L403.2 460.8L403.6 460.6L404.0 460.7L404.4 460.7L404.8 460.7L405.2 460.5L405.6 460.7L406.0 460.6L406.4 460.6L406.8 460.6L407.2 460.5L407.6 460.5L408.0 460.3L408.4 460.3L408.8 460.4L409.2 460.5L409.6 460.1L410.0 460.2L410.4 459.9L410.8 459.9L411.2 459.9L411.6 459.6L412.0 459.5L412.4 459.3L412.8 459.2L413.2 458.8L413.6 458.5L414.0 458.3L414.4 457.7L414.8 457.6L415.2 457.0L415.6 456.8L416.0 456.3L416.4 455.4L416.8 455.0L417.2 454.5L417.6 454.4L418.0 453.8L418.4 453.5L418.8 453.2L419.2 453.0L419.6 452.9L420.0 452.7L420.4 452.5L420.8 452.0L421.2 451.4L421.6 450.7L422.0 449.5L422.4 448.1L422.8 446.1L423.2 443.7L423.6 440.9L424.0 437.6L424.4 434.0L424.8 429.7L425.2 425.1L425.6 420.6L426.0 416.1L426.4 412.0L426.8 408.5L427.2 406.5L427.6 405.8L428.0 405.8L428.4 406.2L428.8 406.9L429.2 407.8L429.6 409.0L430.0 410.4L430.4 412.0L430.8 413.7L431.2 415.6L431.6 417.4L432.0 419.5L432.4 421.5L432.8 423.6L433.2 425.8L433.6 428.1L434.0 430.1L434.4 432.2L434.8 434.3L435.2 436.1L435.6 438.1L436.0 439.9L436.4 441.6L436.8 443.0L437.2 444.7L437.6 446.0L438.0 447.5L438.4 448.7L438.8 449.8L439.2 450.9L439.6 451.9L440.0 452.9L440.4 453.6L440.8 454.4L441.2 455.0L441.6 455.6L442.0 455.9L442.4 456.4L442.8 456.9L443.2 457.3L443.6 457.7L444.0 457.7L444.4 458.1L444.8 458.2L445.2 458.7L445.6 458.9L446.0 459.0L446.4 459.2L446.8 459.3L447.2 459.5L447.6 459.5L448.0 459.6" fill="none" stroke="#e0202a" stroke-width="0.85" stroke-linejoin="round"/>
<path d="M331.6 460.1L332.0 460.1L332.4 460.3L332.8 460.0L333.2 459.9L333.6 460.1L334.0 460.0L334.4 459.9L334.8 459.8L335.2 459.9L335.6 459.5L336.0 459.5L336.4 459.6L336.8 459.6L337.2 459.3L337.6 459.1L338.0 459.1L338.4 459.0L338.8 459.1L339.2 458.9L339.6 458.9L340.0 458.4L340.4 458.5L340.8 458.6L341.2 458.4L341.6 458.0L342.0 457.9L342.4 457.7L342.8 457.4L343.2 457.1L343.6 457.0L344.0 456.9L344.4 456.5L344.8 456.3L345.2 455.8L345.6 455.3L346.0 454.8L346.4 454.3L346.8 453.5L347.2 452.8L347.6 451.7L348.0 450.7L348.4 449.3L348.8 447.8L349.2 445.9L349.6 443.8L350.0 441.3L350.4 438.5L350.8 435.2L351.2 431.7L351.6 427.1L352.0 422.9L352.4 417.8L352.8 412.5L353.2 406.8L353.6 400.7L354.0 394.6L354.4 388.5L354.8 382.6L355.2 377.0L355.6 372.1L356.0 367.8L356.4 365.2L356.8 363.7L357.2 363.6L357.6 364.8L358.0 367.8L358.4 371.5L358.8 376.1L359.2 381.5L359.6 387.6L360.0 393.9L360.4 400.1L360.8 406.2L361.2 412.4L361.6 418.2L362.0 423.7L362.4 428.7L362.8 433.1L363.2 437.3L363.6 440.8L364.0 444.0L364.4 446.7L364.8 448.8L365.2 450.8L365.6 452.4L366.0 453.6L366.4 454.7L366.8 455.6L367.2 456.4L367.6 456.8L368.0 457.1L368.4 457.8L368.8 458.2L369.2 458.4L369.6 458.7L370.0 458.9L370.4 459.0L370.8 459.0L371.2 459.1L371.6 459.2L372.0 459.4L372.4 459.6L372.8 459.5L373.2 459.8L373.6 459.8L374.0 460.0L374.4 459.8L374.8 459.9L375.2 460.1L375.6 460.1L376.0 460.1L376.4 460.1L376.8 460.1L377.2 460.2L377.6 460.3L378.0 460.5L378.4 460.4L378.8 460.6L379.2 460.2L379.6 460.3L380.0 460.4L380.4 460.4L380.8 460.3L381.2 460.5L381.6 460.7L382.0 460.6L382.4 460.9L382.8 460.7L383.2 460.8L383.6 460.7L384.0 460.6L384.4 460.8L384.8 460.7L385.2 460.7L385.6 460.8L386.0 460.8L386.4 461.0L386.8 460.8L387.2 460.7L387.6 460.8L388.0 460.9L388.4 460.8L388.8 460.8L389.2 460.9L389.6 460.8L390.0 460.9L390.4 460.9L390.8 460.9L391.2 460.6L391.6 460.9L392.0 460.9L392.4 460.8L392.8 460.9L393.2 460.8L393.6 461.1L394.0 460.8L394.4 460.9L394.8 461.0L395.2 460.7L395.6 460.9L396.0 460.9L396.4 461.0L396.8 461.0L397.2 460.9L397.6 461.0L398.0 460.8L398.4 460.7L398.8 460.9L399.2 461.0L399.6 460.8L400.0 460.9L400.4 460.7L400.8 460.7L401.2 460.8L401.6 460.7L402.0 460.6L402.4 460.5L402.8 460.7L403.2 460.6L403.6 460.7L404.0 460.7L404.4 460.5L404.8 460.5L405.2 460.5L405.6 460.5L406.0 460.5L406.4 460.5L406.8 460.2L407.2 460.2L407.6 460.3L408.0 460.1L408.4 460.0L408.8 460.1L409.2 459.9L409.6 459.9L410.0 459.7L410.4 459.7L410.8 459.2L411.2 459.3L411.6 458.8L412.0 458.2L412.4 457.4L412.8 455.9L413.2 454.2L413.6 452.2L414.0 450.2L414.4 449.3L414.8 449.0L415.2 449.3L415.6 449.6L416.0 450.3L416.4 450.5L416.8 450.7L417.2 450.5L417.6 450.0L418.0 449.5L418.4 448.8L418.8 447.9L419.2 447.3L419.6 446.8L420.0 446.9L420.4 446.6L420.8 446.6L421.2 446.6L421.6 446.3L422.0 446.1L422.4 445.6L422.8 444.6L423.2 443.2L423.6 441.4L424.0 439.6L424.4 437.2L424.8 434.5L425.2 431.3L425.6 428.1L426.0 424.8L426.4 421.9L426.8 419.1L427.2 417.1L427.6 415.4L428.0 415.2L428.4 415.4L428.8 415.4L429.2 416.0L429.6 416.8L430.0 417.7L430.4 418.9L430.8 419.9L431.2 421.5L431.6 422.7L432.0 424.4L432.4 426.2L432.8 427.6L433.2 429.2L433.6 431.1L434.0 432.7L434.4 434.6L434.8 436.3L435.2 438.2L435.6 439.4L436.0 441.1L436.4 442.5L436.8 444.1L437.2 445.4L437.6 446.5L438.0 447.9L438.4 449.0L438.8 450.2L439.2 451.0L439.6 451.9L440.0 452.9L440.4 453.6L440.8 454.4L441.2 454.8L441.6 455.6L442.0 456.1L442.4 456.4L442.8 457.0L443.2 457.5L443.6 457.8L444.0 458.0L444.4 458.1L444.8 458.5L445.2 458.8L445.6 458.9L446.0 459.0L446.4 459.3L446.8 459.3L447.2 459.4L447.6 459.6L448.0 460.0" fill="none" stroke="#2a18c8" stroke-width="0.85" stroke-linejoin="round"/>
<path d="M331.6 607.7L332.0 607.5L332.4 607.6L332.8 607.3L333.2 607.5L333.6 607.6L334.0 607.4L334.4 607.3L334.8 607.2L335.2 607.3L335.6 607.0L336.0 607.2L336.4 607.0L336.8 607.1L337.2 606.9L337.6 606.7L338.0 606.7L338.4 606.6L338.8 606.5L339.2 606.3L339.6 606.1L340.0 606.0L340.4 605.8L340.8 605.7L341.2 605.7L341.6 605.6L342.0 605.3L342.4 605.1L342.8 605.0L343.2 604.4L343.6 604.4L344.0 603.9L344.4 603.5L344.8 603.2L345.2 602.5L345.6 602.3L346.0 601.8L346.4 600.9L346.8 600.4L347.2 599.5L347.6 598.4L348.0 597.0L348.4 595.2L348.8 593.1L349.2 590.8L349.6 587.5L350.0 583.5L350.4 579.2L350.8 573.8L351.2 567.4L351.6 560.1L352.0 552.0L352.4 543.0L352.8 533.2L353.2 522.6L353.6 512.0L354.0 501.9L354.4 492.3L354.8 484.1L355.2 478.2L355.6 474.8L356.0 474.8L356.4 477.5L356.8 483.2L357.2 491.0L357.6 500.3L358.0 510.9L358.4 521.8L358.8 532.5L359.2 542.9L359.6 553.0L360.0 561.7L360.4 569.6L360.8 576.7L361.2 582.5L361.6 587.5L362.0 591.5L362.4 594.7L362.8 597.4L363.2 599.2L363.6 600.8L364.0 602.0L364.4 603.2L364.8 604.0L365.2 604.3L365.6 604.9L366.0 605.2L366.4 605.5L366.8 605.9L367.2 606.0L367.6 606.2L368.0 606.4L368.4 606.4L368.8 606.7L369.2 606.6L369.6 607.1L370.0 606.7L370.4 607.2L370.8 607.1L371.2 607.1L371.6 607.3L372.0 607.3L372.4 607.5L372.8 607.7L373.2 607.5L373.6 607.5L374.0 607.7L374.4 607.9L374.8 607.8L375.2 607.8L375.6 607.8L376.0 607.8L376.4 607.9L376.8 607.9L377.2 608.2L377.6 607.8L378.0 608.0L378.4 608.0L378.8 608.1L379.2 608.1L379.6 608.1L380.0 608.0L380.4 608.0L380.8 608.1L381.2 608.0L381.6 608.3L382.0 608.2L382.4 608.3L382.8 608.2L383.2 608.3L383.6 608.2L384.0 608.1L384.4 608.5L384.8 608.1L385.2 608.3L385.6 608.4L386.0 608.6L386.4 608.4L386.8 608.6L387.2 608.4L387.6 608.4L388.0 608.2L388.4 608.4L388.8 608.3L389.2 608.3L389.6 608.2L390.0 608.4L390.4 608.3L390.8 608.6L391.2 608.5L391.6 608.5L392.0 608.4L392.4 608.6L392.8 608.5L393.2 608.4L393.6 608.5L394.0 608.4L394.4 608.5L394.8 608.3L395.2 608.2L395.6 608.4L396.0 608.4L396.4 608.2L396.8 608.4L397.2 608.5L397.6 608.5L398.0 608.4L398.4 608.2L398.8 608.4L399.2 608.1L399.6 608.3L400.0 608.4L400.4 608.2L400.8 608.3L401.2 608.3L401.6 608.4L402.0 608.4L402.4 608.3L402.8 608.2L403.2 608.3L403.6 608.4L404.0 608.1L404.4 608.2L404.8 608.2L405.2 608.2L405.6 608.3L406.0 607.9L406.4 608.1L406.8 607.9L407.2 607.8L407.6 607.8L408.0 607.8L408.4 607.8L408.8 607.7L409.2 607.5L409.6 607.5L410.0 607.5L410.4 607.3L410.8 607.2L411.2 607.0L411.6 606.8L412.0 606.5L412.4 606.4L412.8 606.0L413.2 605.8L413.6 605.5L414.0 605.2L414.4 604.7L414.8 604.1L415.2 603.6L415.6 603.3L416.0 602.9L416.4 602.4L416.8 601.9L417.2 601.7L417.6 601.4L418.0 601.1L418.4 601.1L418.8 600.8L419.2 600.6L419.6 600.2L420.0 599.9L420.4 598.9L420.8 597.9L421.2 596.8L421.6 594.9L422.0 592.5L422.4 589.5L422.8 586.3L423.2 582.2L423.6 577.5L424.0 572.1L424.4 566.9L424.8 561.4L425.2 556.0L425.6 552.0L426.0 548.9L426.4 547.2L426.8 547.3L427.2 548.4L427.6 549.7L428.0 551.7L428.4 554.2L428.8 557.1L429.2 560.2L429.6 563.6L430.0 566.9L430.4 570.5L430.8 573.7L431.2 577.2L431.6 580.7L432.0 583.6L432.4 586.3L432.8 589.1L433.2 591.5L433.6 593.8L434.0 595.7L434.4 597.6L434.8 599.0L435.2 600.5L435.6 601.4L436.0 602.7L436.4 603.6L436.8 604.0L437.2 604.7L437.6 605.1L438.0 605.5L438.4 605.9L438.8 606.3L439.2 606.4L439.6 606.6L440.0 606.8L440.4 606.8L440.8 607.2L441.2 607.2L441.6 607.3L442.0 607.5L442.4 607.6L442.8 607.6L443.2 607.5L443.6 607.7L444.0 607.7L444.4 607.9L444.8 607.8L445.2 608.0L445.6 608.0L446.0 608.0L446.4 608.0L446.8 607.9L447.2 608.2L447.6 608.0L448.0 608.0" fill="none" stroke="#111111" stroke-width="0.85" stroke-linejoin="round"/>
<path d="M331.6 607.5L332.0 607.7L332.4 607.6L332.8 607.6L333.2 607.5L333.6 607.4L334.0 607.3L334.4 607.3L334.8 607.4L335.2 607.3L335.6 607.2L336.0 607.2L336.4 607.0L336.8 606.9L337.2 606.5L337.6 606.6L338.0 606.6L338.4 606.4L338.8 606.5L339.2 606.2L339.6 606.0L340.0 605.9L340.4 605.8L340.8 605.7L341.2 605.6L341.6 605.4L342.0 605.2L342.4 604.8L342.8 604.7L343.2 604.4L343.6 604.3L344.0 603.7L344.4 603.5L344.8 603.2L345.2 602.7L345.6 602.1L346.0 601.3L346.4 600.6L346.8 599.9L347.2 598.7L347.6 597.4L348.0 596.0L348.4 594.1L348.8 591.9L349.2 589.1L349.6 586.1L350.0 582.2L350.4 577.8L350.8 572.8L351.2 567.1L351.6 560.6L352.0 553.8L352.4 546.3L352.8 538.3L353.2 530.2L353.6 522.2L354.0 514.5L354.4 507.6L354.8 501.7L355.2 497.5L355.6 495.2L356.0 495.2L356.4 497.1L356.8 501.2L357.2 506.5L357.6 513.3L358.0 521.1L358.4 529.2L358.8 537.9L359.2 545.8L359.6 553.9L360.0 561.4L360.4 568.5L360.8 574.3L361.2 580.1L361.6 584.8L362.0 588.8L362.4 592.3L362.8 595.3L363.2 597.4L363.6 599.5L364.0 600.8L364.4 602.1L364.8 602.9L365.2 603.9L365.6 604.2L366.0 604.8L366.4 605.0L366.8 605.6L367.2 605.6L367.6 606.0L368.0 606.2L368.4 606.5L368.8 606.5L369.2 606.6L369.6 606.9L370.0 607.0L370.4 607.1L370.8 607.0L371.2 607.2L371.6 607.2L372.0 607.3L372.4 607.4L372.8 607.5L373.2 607.6L373.6 607.5L374.0 607.6L374.4 607.7L374.8 607.9L375.2 607.8L375.6 607.9L376.0 607.9L376.4 607.8L376.8 608.1L377.2 608.0L377.6 607.9L378.0 607.9L378.4 608.1L378.8 608.0L379.2 608.1L379.6 608.2L380.0 608.4L380.4 608.4L380.8 608.1L381.2 608.2L381.6 608.4L382.0 608.3L382.4 608.3L382.8 608.3L383.2 608.3L383.6 608.1L384.0 608.4L384.4 608.3L384.8 608.4L385.2 608.4L385.6 608.4L386.0 608.4L386.4 608.4L386.8 608.3L387.2 608.4L387.6 608.5L388.0 608.2L388.4 608.5L388.8 608.4L389.2 608.2L389.6 608.5L390.0 608.3L390.4 608.3L390.8 608.4L391.2 608.6L391.6 608.3L392.0 608.4L392.4 608.5L392.8 608.3L393.2 608.5L393.6 608.3L394.0 608.5L394.4 608.4L394.8 608.5L395.2 608.4L395.6 608.5L396.0 608.5L396.4 608.4L396.8 608.4L397.2 608.4L397.6 608.2L398.0 608.4L398.4 608.5L398.8 608.4L399.2 608.3L399.6 608.2L400.0 608.2L400.4 608.2L400.8 608.3L401.2 608.2L401.6 608.4L402.0 608.1L402.4 608.1L402.8 608.1L403.2 608.2L403.6 608.1L404.0 608.1L404.4 608.0L404.8 608.1L405.2 607.9L405.6 607.9L406.0 607.6L406.4 607.8L406.8 607.7L407.2 607.6L407.6 607.5L408.0 607.4L408.4 607.4L408.8 607.2L409.2 606.9L409.6 606.5L410.0 605.9L410.4 604.8L410.8 603.0L411.2 600.6L411.6 598.0L412.0 595.5L412.4 594.6L412.8 594.4L413.2 594.6L413.6 594.7L414.0 595.0L414.4 594.8L414.8 594.6L415.2 594.5L415.6 594.0L416.0 594.1L416.4 594.7L416.8 595.2L417.2 596.1L417.6 596.9L418.0 597.6L418.4 598.1L418.8 598.5L419.2 598.5L419.6 597.9L420.0 597.3L420.4 596.0L420.8 594.1L421.2 591.8L421.6 589.0L422.0 585.6L422.4 581.9L422.8 577.4L423.2 573.2L423.6 568.9L424.0 564.7L424.4 561.4L424.8 558.6L425.2 557.6L425.6 557.6L426.0 558.0L426.4 558.8L426.8 559.8L427.2 561.2L427.6 562.6L428.0 564.4L428.4 566.2L428.8 568.3L429.2 570.1L429.6 572.4L430.0 574.6L430.4 577.0L430.8 579.0L431.2 581.1L431.6 583.3L432.0 585.5L432.4 587.3L432.8 589.1L433.2 591.1L433.6 592.5L434.0 594.3L434.4 595.6L434.8 596.7L435.2 598.1L435.6 599.2L436.0 600.3L436.4 601.1L436.8 601.7L437.2 602.5L437.6 603.4L438.0 603.9L438.4 604.4L438.8 604.6L439.2 605.2L439.6 605.5L440.0 605.9L440.4 606.2L440.8 606.2L441.2 606.5L441.6 606.8L442.0 606.9L442.4 607.1L442.8 607.2L443.2 607.4L443.6 607.2L444.0 607.4L444.4 607.4L444.8 607.6L445.2 607.6L445.6 607.6L446.0 607.6L446.4 607.7L446.8 607.8L447.2 607.9L447.6 608.0L448.0 608.0" fill="none" stroke="#e0202a" stroke-width="0.85" stroke-linejoin="round"/>
<path d="M331.6 607.7L332.0 607.7L332.4 607.7L332.8 607.4L333.2 607.4L333.6 607.6L334.0 607.5L334.4 607.4L334.8 607.2L335.2 607.1L335.6 607.2L336.0 607.0L336.4 607.0L336.8 606.8L337.2 606.6L337.6 606.7L338.0 606.5L338.4 606.5L338.8 606.4L339.2 606.4L339.6 606.1L340.0 606.0L340.4 605.9L340.8 605.7L341.2 605.5L341.6 605.4L342.0 605.1L342.4 604.7L342.8 604.6L343.2 604.1L343.6 604.0L344.0 603.6L344.4 603.0L344.8 602.4L345.2 602.0L345.6 601.1L346.0 600.2L346.4 599.2L346.8 598.2L347.2 596.8L347.6 595.4L348.0 593.4L348.4 591.3L348.8 588.7L349.2 586.3L349.6 583.2L350.0 579.9L350.4 576.0L350.8 572.4L351.2 568.0L351.6 563.1L352.0 558.6L352.4 554.0L352.8 549.1L353.2 544.4L353.6 540.0L354.0 536.2L354.4 533.1L354.8 530.5L355.2 529.3L355.6 528.9L356.0 529.7L356.4 531.5L356.8 534.0L357.2 537.6L357.6 541.5L358.0 546.0L358.4 550.7L358.8 555.6L359.2 560.6L359.6 565.4L360.0 570.0L360.4 574.4L360.8 578.6L361.2 582.6L361.6 586.0L362.0 589.2L362.4 591.8L362.8 594.6L363.2 596.4L363.6 598.4L364.0 599.8L364.4 601.3L364.8 602.2L365.2 603.2L365.6 604.1L366.0 604.6L366.4 605.0L366.8 605.4L367.2 606.0L367.6 606.2L368.0 606.4L368.4 606.5L368.8 606.6L369.2 606.9L369.6 607.1L370.0 607.0L370.4 607.2L370.8 607.1L371.2 607.4L371.6 607.3L372.0 607.5L372.4 607.5L372.8 607.6L373.2 607.6L373.6 607.8L374.0 607.7L374.4 607.9L374.8 607.8L375.2 607.8L375.6 607.6L376.0 607.9L376.4 607.9L376.8 608.0L377.2 607.9L377.6 608.0L378.0 608.0L378.4 608.1L378.8 607.9L379.2 608.0L379.6 608.3L380.0 608.2L380.4 608.2L380.8 608.4L381.2 608.3L381.6 608.3L382.0 608.3L382.4 608.3L382.8 608.5L383.2 608.2L383.6 608.2L384.0 608.3L384.4 608.4L384.8 608.3L385.2 608.4L385.6 608.2L386.0 608.3L386.4 608.2L386.8 608.4L387.2 608.2L387.6 608.5L388.0 608.4L388.4 608.5L388.8 608.4L389.2 608.4L389.6 608.3L390.0 608.3L390.4 608.4L390.8 608.4L391.2 608.3L391.6 608.4L392.0 608.5L392.4 608.4L392.8 608.4L393.2 608.3L393.6 608.3L394.0 608.5L394.4 608.3L394.8 608.3L395.2 608.4L395.6 608.3L396.0 608.4L396.4 608.3L396.8 608.2L397.2 608.3L397.6 608.4L398.0 608.3L398.4 608.3L398.8 608.2L399.2 608.4L399.6 608.3L400.0 608.2L400.4 608.3L400.8 608.0L401.2 608.3L401.6 608.2L402.0 608.2L402.4 608.1L402.8 607.9L403.2 607.8L403.6 607.7L404.0 607.7L404.4 607.9L404.8 607.5L405.2 607.6L405.6 607.3L406.0 607.1L406.4 606.9L406.8 606.5L407.2 606.1L407.6 605.1L408.0 604.0L408.4 602.2L408.8 599.9L409.2 596.8L409.6 593.4L410.0 589.8L410.4 587.7L410.8 587.1L411.2 588.0L411.6 589.6L412.0 591.3L412.4 592.8L412.8 593.3L413.2 593.2L413.6 592.4L414.0 591.2L414.4 590.6L414.8 590.8L415.2 591.3L415.6 592.3L416.0 593.3L416.4 594.8L416.8 595.7L417.2 596.5L417.6 596.9L418.0 597.4L418.4 597.6L418.8 597.8L419.2 598.0L419.6 598.0L420.0 597.8L420.4 597.1L420.8 596.4L421.2 595.3L421.6 593.7L422.0 591.8L422.4 589.5L422.8 587.1L423.2 584.4L423.6 581.8L424.0 579.7L424.4 577.5L424.8 576.0L425.2 575.7L425.6 575.6L426.0 575.8L426.4 576.0L426.8 576.5L427.2 577.2L427.6 577.8L428.0 578.5L428.4 579.4L428.8 580.2L429.2 581.4L429.6 582.6L430.0 583.7L430.4 584.7L430.8 585.9L431.2 587.0L431.6 588.2L432.0 589.2L432.4 590.4L432.8 591.5L433.2 592.8L433.6 593.8L434.0 594.8L434.4 595.8L434.8 596.7L435.2 597.6L435.6 598.6L436.0 599.2L436.4 600.0L436.8 601.0L437.2 601.5L437.6 602.1L438.0 602.6L438.4 603.2L438.8 603.8L439.2 604.1L439.6 604.6L440.0 604.8L440.4 605.2L440.8 605.5L441.2 605.8L441.6 606.0L442.0 606.4L442.4 606.4L442.8 606.7L443.2 607.0L443.6 607.1L444.0 607.2L444.4 607.2L444.8 607.3L445.2 607.6L445.6 607.5L446.0 607.6L446.4 607.8L446.8 607.7L447.2 607.9L447.6 608.0L448.0 607.8" fill="none" stroke="#2a18c8" stroke-width="0.85" stroke-linejoin="round"/>
<path d="M458.0 124.8L458.3 110.1L458.6 126.4L459.0 125.9L459.3 111.5L459.6 135.4L459.9 115.9L460.2 116.7L460.6 93.9L460.9 122.6L461.2 110.7L461.5 120.8L461.8 100.4L462.2 127.6L462.5 130.5L462.8 134.6L463.1 88.7L463.4 122.7L463.8 120.1L464.1 88.2L464.4 109.9L464.7 116.1L465.0 130.4L465.4 109.1L465.7 118.9L466.0 116.5L466.3 120.5L466.6 113.3L467.0 125.6L467.3 126.4L467.6 104.3L467.9 127.8L468.2 110.2L468.6 114.7L468.9 128.0L469.2 118.3L469.5 122.8L469.8 124.9L470.2 123.1L470.5 112.4L470.8 108.5L471.1 124.0L471.4 124.7L471.8 121.0L472.1 115.8L472.4 125.8L472.7 117.4L473.0 104.7L473.4 120.4L473.7 122.6L474.0 136.2L474.3 109.4L474.6 110.8L475.0 121.0L475.3 113.7L475.6 117.3L475.9 126.9L476.2 121.8L476.6 135.4L476.9 120.9L477.2 134.3L477.5 128.3L477.8 142.3L478.2 118.4L478.5 117.5L478.8 130.7L479.1 113.5L479.4 114.0L479.8 120.8L480.1 122.1L480.4 105.3L480.7 121.0L481.0 115.7L481.4 118.4L481.7 120.4L482.0 116.9L482.3 128.9L482.6 123.4L483.0 108.4L483.3 119.6L483.6 128.8L483.9 126.4L484.2 131.0L484.6 117.7L484.9 120.4L485.2 138.1L485.5 118.8L485.8 135.1L486.2 127.2L486.5 115.2L486.8 106.1L487.1 125.3L487.4 112.7L487.8 112.7L488.1 103.1L488.4 133.5L488.7 120.4L489.0 119.7L489.4 123.3L489.7 121.9L490.0 119.4L490.3 124.5L490.6 117.1L491.0 95.3L491.3 126.7L491.6 123.7L491.9 120.0L492.2 134.8L492.6 106.7L492.9 92.5L493.2 133.9L493.5 123.8L493.8 104.4L494.2 116.1L494.5 125.8L494.8 108.6L495.1 125.3L495.4 140.0L495.8 133.2L496.1 119.8L496.4 123.2L496.7 111.2L497.0 121.4L497.4 117.1L497.7 110.9L498.0 107.6L498.3 138.5L498.6 121.1L499.0 110.7L499.3 116.4L499.6 134.4L499.9 135.7L500.2 114.6L500.6 122.3L500.9 128.9L501.2 117.2L501.5 109.4L501.8 111.4L502.2 120.7L502.5 113.3L502.8 108.4L503.1 118.4L503.4 129.5L503.8 127.1L504.1 118.6L504.4 138.7L504.7 113.4L505.0 112.0L505.4 107.9L505.7 128.2L506.0 119.7L506.3 105.0L506.6 113.1L507.0 137.9L507.3 127.8L507.6 122.0L507.9 129.2L508.2 106.0L508.6 113.2L508.9 108.6L509.2 113.3L509.5 117.5L509.8 126.1L510.2 130.7L510.5 130.4L510.8 146.5L511.1 116.6L511.4 121.1L511.8 126.1L512.1 113.5L512.4 118.6L512.7 125.2L513.0 113.0L513.4 125.8L513.7 133.0L514.0 110.9L514.3 99.9L514.6 122.3L515.0 111.7L515.3 123.1L515.6 117.3L515.9 124.4L516.2 132.3L516.6 129.3L516.9 118.2L517.2 110.6L517.5 98.2L517.8 101.2L518.2 114.2L518.5 114.7L518.8 115.3L519.1 116.1L519.4 106.6L519.8 106.1L520.1 105.4L520.4 127.6L520.7 103.0L521.0 128.1L521.4 113.2L521.7 126.7L522.0 123.9L522.3 128.8L522.6 132.9L523.0 114.3L523.3 112.5L523.6 117.5L523.9 114.3L524.2 123.7L524.6 120.6L524.9 121.7L525.2 125.6L525.5 117.2L525.8 132.0L526.2 104.3L526.5 123.9L526.8 126.4L527.1 114.4L527.4 117.4L527.8 130.3L528.1 118.7L528.4 103.6L528.7 109.0L529.0 131.3L529.4 122.1L529.7 134.2L530.0 134.8L530.3 122.2L530.6 127.0L531.0 114.1L531.3 118.1L531.6 115.3L531.9 127.5L532.2 109.9L532.6 120.8L532.9 115.1L533.2 126.9L533.5 102.0L533.8 105.2L534.2 113.8L534.5 120.0L534.8 123.5L535.1 124.0L535.4 141.2L535.8 128.4L536.1 127.8L536.4 117.6L536.7 129.7L537.0 128.8L537.4 128.6L537.7 121.3L538.0 128.2L538.3 136.8L538.6 114.9L539.0 102.0L539.3 130.2L539.6 129.4L539.9 120.3L540.2 118.3L540.6 148.6L540.9 118.2L541.2 111.1L541.5 118.1L541.8 127.4L542.2 116.9L542.5 119.0L542.8 125.6L543.1 118.7L543.4 123.9L543.8 124.5L544.1 112.8L544.4 123.5L544.7 111.9L545.0 131.6L545.4 114.1L545.7 120.6L546.0 105.7L546.3 118.7L546.6 111.1L547.0 137.0L547.3 121.8L547.6 127.8L547.9 106.4L548.2 111.2L548.6 121.3L548.9 110.2L549.2 133.7L549.5 119.2L549.8 124.4L550.2 125.8L550.5 121.6L550.8 130.3L551.1 116.7L551.4 126.4L551.8 134.3L552.1 125.0L552.4 124.2L552.7 119.9L553.0 123.6L553.4 129.4L553.7 120.8L554.0 107.3L554.3 124.6L554.6 121.7L555.0 127.5L555.3 111.3L555.6 141.3L555.9 111.8L556.2 114.0L556.6 129.3L556.9 113.5L557.2 126.2L557.5 123.0L557.8 104.8L558.2 129.4L558.5 136.0L558.8 125.2L559.1 110.1L559.4 130.6L559.8 113.5L560.1 122.1L560.4 127.1L560.7 116.0L561.0 107.5L561.4 122.0L561.7 122.9L562.0 115.3L562.3 115.4L562.6 130.2L563.0 122.5L563.3 123.8L563.6 117.8L563.9 124.9L564.2 119.2L564.6 121.8L564.9 110.4L565.2 119.9L565.5 117.5L565.8 124.0L566.2 134.1L566.5 132.2L566.8 129.4L567.1 124.5L567.4 120.4L567.8 126.6L568.1 119.0L568.4 120.3L568.7 115.7L569.0 123.0L569.4 122.8L569.7 140.6L570.0 128.6L570.3 120.0L570.6 130.7L571.0 119.2L571.3 132.9L571.6 130.8L571.9 150.3L572.2 113.6L572.6 122.9L572.9 122.6L573.2 126.4L573.5 130.2L573.8 114.6L574.2 117.0L574.5 126.5L574.8 132.6L575.1 113.3L575.4 109.4L575.8 134.3L576.1 131.5L576.4 133.7L576.7 114.8L577.0 121.9L577.4 125.9L577.7 127.8L578.0 122.7L578.3 123.3L578.6 133.1L579.0 119.8L579.3 118.8L579.6 119.9L579.9 119.2L580.2 125.1L580.6 122.0L580.9 119.9L581.2 136.9L581.5 126.7L581.8 120.8L582.2 135.5L582.5 118.9L582.8 123.9L583.1 123.1L583.4 118.7L583.8 120.5L584.1 124.8L584.4 110.9L584.7 120.5L585.0 126.3L585.4 126.6L585.7 126.8L586.0 145.4L586.3 130.1L586.6 122.8L587.0 123.0L587.3 124.1L587.6 128.1L587.9 121.4L588.2 137.8L588.6 114.1L588.9 129.9L589.2 127.3L589.5 113.8L589.8 129.9L590.2 129.2L590.5 118.4L590.8 145.2L591.1 130.7L591.4 121.2L591.8 119.9L592.1 117.5L592.4 122.7L592.7 124.8L593.0 111.5L593.4 114.9L593.7 117.8L594.0 120.7L594.3 121.0L594.6 118.3L595.0 130.1L595.3 132.9L595.6 125.0L595.9 104.5L596.2 123.0L596.6 129.5L596.9 123.7L597.2 126.9L597.5 125.3L597.8 110.9L598.2 101.6L598.5 130.1L598.8 123.4L599.1 128.2L599.4 121.7L599.8 122.9L600.1 136.9L600.4 113.7L600.7 124.4L601.0 114.7L601.4 125.2L601.7 128.8L602.0 130.4L602.3 125.9L602.6 112.1L603.0 126.8L603.3 132.7L603.6 133.6L603.9 143.9L604.2 129.7L604.6 115.5L604.9 120.0L605.2 125.4L605.5 134.1L605.8 114.4L606.2 132.9L606.5 130.6L606.8 116.9L607.1 130.2L607.4 117.8L607.8 124.7L608.1 122.0L608.4 126.9L608.7 114.1L609.0 129.5L609.4 105.2L609.7 121.2L610.0 119.7L610.3 139.1L610.6 129.7L611.0 120.5L611.3 116.8L611.6 125.2L611.9 119.2L612.2 145.1L612.6 101.4L612.9 125.5L613.2 102.8L613.5 134.3L613.8 117.7L614.2 139.4L614.5 120.1L614.8 134.7L615.1 126.8L615.4 135.7L615.8 125.2L616.1 98.2L616.4 118.5L616.7 111.0L617.0 133.6L617.4 129.9L617.7 125.1L618.0 129.2L618.3 129.1L618.6 120.0L619.0 142.8L619.3 127.3L619.6 123.4L619.9 111.9L620.2 119.6L620.6 125.3L620.9 123.6L621.2 120.9L621.5 124.8L621.8 115.1L622.2 125.3L622.5 111.3L622.8 117.5L623.1 118.6L623.4 133.1L623.8 128.4L624.1 126.0L624.4 114.9L624.7 121.7L625.0 132.6L625.4 136.7L625.7 112.1L626.0 121.5L626.3 126.4L626.6 128.6L627.0 125.5L627.3 131.5L627.6 112.4L627.9 139.5L628.2 115.1L628.6 126.0L628.9 128.5L629.2 136.0L629.5 133.7L629.8 133.4L630.2 137.1L630.5 124.2L630.8 132.4L631.1 139.5L631.4 118.8L631.8 113.0L632.1 116.6L632.4 138.4L632.7 136.9L633.0 122.5L633.4 127.9" fill="none" stroke="#000" stroke-width="0.95" stroke-linejoin="miter"/>
<path d="M458.0 127.3L458.3 124.7L458.6 120.9L459.0 116.8L459.3 114.4L459.6 117.2L459.9 124.1L460.2 118.4L460.6 119.9L460.9 119.4L461.2 116.6L461.5 111.2L461.8 100.2L462.2 122.6L462.5 122.5L462.8 108.5L463.1 135.0L463.4 106.8L463.8 126.6L464.1 119.8L464.4 128.4L464.7 128.0L465.0 126.0L465.4 117.8L465.7 107.9L466.0 106.5L466.3 119.4L466.6 132.2L467.0 125.8L467.3 117.4L467.6 120.8L467.9 124.1L468.2 133.6L468.6 113.6L468.9 124.5L469.2 120.4L469.5 110.9L469.8 108.6L470.2 127.8L470.5 121.0L470.8 116.1L471.1 118.9L471.4 127.0L471.8 118.9L472.1 137.8L472.4 115.7L472.7 110.9L473.0 117.1L473.4 109.5L473.7 115.0L474.0 129.4L474.3 133.9L474.6 124.0L475.0 120.1L475.3 109.9L475.6 109.1L475.9 121.7L476.2 119.9L476.6 113.1L476.9 114.3L477.2 132.7L477.5 127.5L477.8 119.0L478.2 120.6L478.5 130.2L478.8 121.8L479.1 120.7L479.4 104.1L479.8 103.1L480.1 101.1L480.4 97.9L480.7 118.5L481.0 121.7L481.4 110.7L481.7 122.8L482.0 122.8L482.3 102.1L482.6 99.7L483.0 132.1L483.3 131.5L483.6 114.5L483.9 136.7L484.2 119.3L484.6 111.7L484.9 115.2L485.2 101.9L485.5 115.8L485.8 104.3L486.2 129.4L486.5 122.0L486.8 101.5L487.1 124.4L487.4 103.3L487.8 120.6L488.1 123.6L488.4 119.8L488.7 108.9L489.0 118.2L489.4 117.6L489.7 119.8L490.0 133.0L490.3 134.9L490.6 133.9L491.0 113.5L491.3 112.5L491.6 119.6L491.9 123.4L492.2 100.5L492.6 119.7L492.9 136.0L493.2 108.1L493.5 112.7L493.8 113.0L494.2 124.1L494.5 119.0L494.8 116.6L495.1 105.7L495.4 125.3L495.8 119.7L496.1 113.6L496.4 119.9L496.7 127.0L497.0 106.2L497.4 105.5L497.7 110.4L498.0 111.8L498.3 91.8L498.6 114.3L499.0 130.1L499.3 116.9L499.6 129.3L499.9 93.5L500.2 118.9L500.6 132.7L500.9 134.5L501.2 115.4L501.5 112.4L501.8 123.6L502.2 108.9L502.5 116.7L502.8 104.7L503.1 120.9L503.4 120.2L503.8 135.2L504.1 123.5L504.4 119.9L504.7 119.4L505.0 116.4L505.4 120.6L505.7 118.3L506.0 124.2L506.3 129.0L506.6 102.0L507.0 123.4L507.3 127.2L507.6 109.4L507.9 138.0L508.2 113.9L508.6 143.2L508.9 127.8L509.2 129.5L509.5 123.1L509.8 122.6L510.2 112.9L510.5 113.2L510.8 102.6L511.1 125.7L511.4 117.9L511.8 127.7L512.1 126.3L512.4 108.4L512.7 127.3L513.0 123.2L513.4 125.6L513.7 125.1L514.0 120.6L514.3 121.0L514.6 130.7L515.0 111.8L515.3 115.7L515.6 114.0L515.9 130.6L516.2 118.1L516.6 138.7L516.9 92.7L517.2 114.5L517.5 117.0L517.8 123.6L518.2 133.5L518.5 119.5L518.8 111.8L519.1 129.0L519.4 135.5L519.8 97.7L520.1 126.6L520.4 124.1L520.7 113.7L521.0 117.0L521.4 124.1L521.7 127.3L522.0 119.1L522.3 108.2L522.6 124.1L523.0 115.4L523.3 122.3L523.6 116.1L523.9 123.4L524.2 128.5L524.6 123.8L524.9 127.7L525.2 108.9L525.5 125.9L525.8 124.4L526.2 115.9L526.5 123.5L526.8 95.9L527.1 122.5L527.4 118.0L527.8 100.9L528.1 126.5L528.4 116.0L528.7 124.4L529.0 119.7L529.4 126.4L529.7 122.7L530.0 119.3L530.3 126.5L530.6 129.7L531.0 101.1L531.3 122.3L531.6 116.6L531.9 111.9L532.2 134.1L532.6 131.0L532.9 112.6L533.2 111.9L533.5 130.5L533.8 116.4L534.2 119.2L534.5 104.1L534.8 121.0L535.1 132.7L535.4 118.0L535.8 121.2L536.1 138.4L536.4 130.4L536.7 135.5L537.0 128.2L537.4 133.5L537.7 107.1L538.0 114.9L538.3 107.2L538.6 143.0L539.0 124.2L539.3 121.4L539.6 115.6L539.9 113.2L540.2 96.8L540.6 143.3L540.9 121.9L541.2 123.2L541.5 109.7L541.8 122.2L542.2 126.2L542.5 122.0L542.8 128.5L543.1 115.1L543.4 125.8L543.8 131.1L544.1 128.0L544.4 132.4L544.7 122.0L545.0 113.8L545.4 128.0L545.7 119.3L546.0 114.3L546.3 130.0L546.6 108.2L547.0 117.9L547.3 130.1L547.6 131.7L547.9 119.6L548.2 123.6L548.6 128.0L548.9 122.4L549.2 116.0L549.5 127.1L549.8 124.6L550.2 124.1L550.5 133.4L550.8 125.9L551.1 118.9L551.4 124.6L551.8 141.0L552.1 116.6L552.4 120.7L552.7 115.8L553.0 126.5L553.4 111.6L553.7 127.3L554.0 130.2L554.3 116.1L554.6 115.4L555.0 109.6L555.3 123.7L555.6 113.0L555.9 117.5L556.2 119.4L556.6 117.0L556.9 131.0L557.2 138.0L557.5 103.8L557.8 115.9L558.2 125.7L558.5 113.7L558.8 118.5L559.1 125.3L559.4 136.2L559.8 134.2L560.1 120.8L560.4 124.7L560.7 120.1L561.0 121.9L561.4 112.7L561.7 107.2L562.0 120.1L562.3 132.5L562.6 130.6L563.0 106.4L563.3 121.8L563.6 117.8L563.9 126.2L564.2 113.5L564.6 132.0L564.9 121.7L565.2 128.9L565.5 131.7L565.8 105.8L566.2 121.7L566.5 137.6L566.8 123.9L567.1 133.3L567.4 127.6L567.8 119.1L568.1 126.3L568.4 133.4L568.7 135.6L569.0 137.1L569.4 113.6L569.7 131.4L570.0 111.1L570.3 122.6L570.6 121.9L571.0 138.5L571.3 126.7L571.6 135.3L571.9 118.2L572.2 131.6L572.6 127.5L572.9 123.9L573.2 112.9L573.5 129.2L573.8 126.8L574.2 131.2L574.5 123.6L574.8 121.6L575.1 127.6L575.4 128.2L575.8 130.3L576.1 141.4L576.4 118.3L576.7 142.5L577.0 96.8L577.4 133.9L577.7 116.6L578.0 142.5L578.3 115.9L578.6 133.8L579.0 115.0L579.3 113.7L579.6 131.5L579.9 132.1L580.2 117.7L580.6 146.2L580.9 121.2L581.2 138.5L581.5 114.9L581.8 115.4L582.2 125.1L582.5 114.9L582.8 128.4L583.1 104.5L583.4 125.9L583.8 119.1L584.1 115.5L584.4 126.2L584.7 122.3L585.0 120.2L585.4 131.8L585.7 127.1L586.0 127.8L586.3 136.6L586.6 123.7L587.0 132.1L587.3 120.6L587.6 130.0L587.9 129.3L588.2 119.4L588.6 110.6L588.9 112.7L589.2 115.8L589.5 129.6L589.8 123.3L590.2 121.8L590.5 128.9L590.8 131.2L591.1 137.3L591.4 119.1L591.8 129.6L592.1 131.0L592.4 115.9L592.7 125.7L593.0 116.2L593.4 122.5L593.7 128.5L594.0 104.5L594.3 116.6L594.6 117.3L595.0 141.3L595.3 117.9L595.6 128.1L595.9 116.8L596.2 120.0L596.6 130.3L596.9 127.6L597.2 126.1L597.5 124.4L597.8 133.9L598.2 137.3L598.5 121.4L598.8 118.2L599.1 115.3L599.4 140.7L599.8 116.6L600.1 112.7L600.4 127.3L600.7 134.5L601.0 113.6L601.4 123.7L601.7 111.8L602.0 118.5L602.3 139.8L602.6 126.5L603.0 122.6L603.3 132.1L603.6 127.5L603.9 124.0L604.2 114.1L604.6 114.2L604.9 143.4L605.2 118.0L605.5 136.0L605.8 118.5L606.2 136.9L606.5 131.4L606.8 123.1L607.1 143.5L607.4 124.2L607.8 123.0L608.1 117.3L608.4 118.0L608.7 121.8L609.0 116.4L609.4 122.2L609.7 139.6L610.0 109.3L610.3 113.7L610.6 116.5L611.0 117.9L611.3 137.2L611.6 131.8L611.9 129.6L612.2 127.1L612.6 147.2L612.9 115.0L613.2 114.8L613.5 125.1L613.8 127.2L614.2 123.1L614.5 117.6L614.8 113.4L615.1 122.8L615.4 118.9L615.8 121.0L616.1 115.5L616.4 136.1L616.7 129.5L617.0 142.3L617.4 120.7L617.7 126.0L618.0 123.2L618.3 125.7L618.6 123.1L619.0 124.4L619.3 107.5L619.6 123.0L619.9 131.8L620.2 107.7L620.6 122.4L620.9 130.8L621.2 137.1L621.5 124.8L621.8 129.7L622.2 141.6L622.5 137.5L622.8 121.5L623.1 120.1L623.4 134.9L623.8 132.4L624.1 120.7L624.4 121.3L624.7 128.6L625.0 123.9L625.4 123.4L625.7 123.6L626.0 112.1L626.3 141.6L626.6 136.9L627.0 134.2L627.3 124.5L627.6 126.9L627.9 131.0L628.2 133.3L628.6 109.1L628.9 129.1L629.2 116.7L629.5 125.2L629.8 119.8L630.2 141.4L630.5 130.8L630.8 125.6L631.1 138.6L631.4 125.3L631.8 119.3L632.1 124.2L632.4 122.6L632.7 126.4L633.0 133.6L633.4 124.9" fill="none" stroke="#f01020" stroke-width="0.95" stroke-linejoin="miter"/>
<path d="M458.0 113.3L458.3 120.0L458.6 108.7L459.0 123.9L459.3 109.6L459.6 107.7L459.9 114.8L460.2 113.8L460.6 106.6L460.9 121.7L461.2 113.2L461.5 119.9L461.8 100.7L462.2 102.3L462.5 112.0L462.8 105.3L463.1 113.3L463.4 119.7L463.8 124.8L464.1 128.1L464.4 121.8L464.7 108.1L465.0 119.7L465.4 109.9L465.7 111.1L466.0 105.0L466.3 127.1L466.6 118.6L467.0 112.2L467.3 102.3L467.6 117.5L467.9 110.1L468.2 117.2L468.6 108.4L468.9 110.0L469.2 120.7L469.5 128.6L469.8 103.4L470.2 113.3L470.5 118.7L470.8 113.7L471.1 111.1L471.4 135.1L471.8 107.5L472.1 113.0L472.4 110.8L472.7 114.4L473.0 94.3L473.4 123.5L473.7 113.4L474.0 106.5L474.3 130.7L474.6 112.9L475.0 109.9L475.3 107.7L475.6 125.4L475.9 115.8L476.2 112.8L476.6 100.7L476.9 107.3L477.2 118.9L477.5 115.5L477.8 97.2L478.2 107.7L478.5 117.9L478.8 140.5L479.1 108.9L479.4 95.4L479.8 122.9L480.1 111.5L480.4 103.8L480.7 121.1L481.0 113.8L481.4 107.1L481.7 104.0L482.0 114.9L482.3 116.9L482.6 99.8L483.0 125.2L483.3 104.5L483.6 129.1L483.9 119.3L484.2 114.5L484.6 119.4L484.9 110.8L485.2 115.7L485.5 131.5L485.8 117.2L486.2 123.9L486.5 108.2L486.8 116.3L487.1 125.3L487.4 105.4L487.8 119.6L488.1 96.8L488.4 106.0L488.7 112.7L489.0 124.7L489.4 123.2L489.7 115.3L490.0 115.5L490.3 118.4L490.6 102.4L491.0 120.7L491.3 129.2L491.6 132.3L491.9 111.4L492.2 113.1L492.6 108.3L492.9 112.4L493.2 114.7L493.5 123.3L493.8 117.8L494.2 108.5L494.5 124.6L494.8 125.2L495.1 111.5L495.4 114.9L495.8 116.2L496.1 102.1L496.4 118.5L496.7 123.4L497.0 135.2L497.4 119.1L497.7 114.7L498.0 116.0L498.3 123.0L498.6 124.7L499.0 109.5L499.3 119.2L499.6 123.5L499.9 99.0L500.2 130.2L500.6 115.6L500.9 125.6L501.2 117.2L501.5 115.4L501.8 117.0L502.2 120.4L502.5 125.7L502.8 115.3L503.1 107.5L503.4 111.4L503.8 108.9L504.1 124.9L504.4 109.1L504.7 131.9L505.0 119.2L505.4 117.2L505.7 130.0L506.0 114.7L506.3 115.4L506.6 125.3L507.0 124.9L507.3 109.0L507.6 140.8L507.9 123.5L508.2 106.7L508.6 116.7L508.9 126.8L509.2 120.4L509.5 126.3L509.8 140.2L510.2 127.0L510.5 136.9L510.8 124.8L511.1 112.4L511.4 132.5L511.8 112.2L512.1 127.5L512.4 124.7L512.7 110.9L513.0 112.3L513.4 117.2L513.7 122.5L514.0 131.1L514.3 119.6L514.6 136.5L515.0 127.1L515.3 113.2L515.6 113.4L515.9 119.9L516.2 125.2L516.6 118.4L516.9 126.4L517.2 121.7L517.5 128.3L517.8 113.1L518.2 111.5L518.5 106.6L518.8 103.1L519.1 115.4L519.4 120.2L519.8 117.8L520.1 119.7L520.4 138.5L520.7 99.1L521.0 117.3L521.4 115.3L521.7 111.5L522.0 132.3L522.3 119.6L522.6 131.4L523.0 109.6L523.3 137.2L523.6 140.9L523.9 112.0L524.2 120.0L524.6 118.9L524.9 125.3L525.2 108.2L525.5 124.5L525.8 126.9L526.2 119.5L526.5 99.5L526.8 114.1L527.1 116.7L527.4 127.4L527.8 121.9L528.1 109.9L528.4 126.1L528.7 123.9L529.0 127.3L529.4 121.0L529.7 130.3L530.0 125.3L530.3 104.2L530.6 122.5L531.0 127.8L531.3 121.1L531.6 129.1L531.9 116.6L532.2 127.2L532.6 109.5L532.9 120.9L533.2 115.8L533.5 111.7L533.8 108.9L534.2 123.0L534.5 121.6L534.8 115.2L535.1 109.7L535.4 113.0L535.8 128.1L536.1 110.1L536.4 131.6L536.7 105.8L537.0 123.8L537.4 127.4L537.7 132.5L538.0 117.9L538.3 114.3L538.6 100.0L539.0 129.7L539.3 120.2L539.6 112.7L539.9 117.6L540.2 123.8L540.6 121.8L540.9 132.4L541.2 101.8L541.5 129.4L541.8 116.7L542.2 120.9L542.5 118.8L542.8 120.9L543.1 128.7L543.4 123.8L543.8 108.5L544.1 121.2L544.4 121.0L544.7 125.3L545.0 122.3L545.4 121.2L545.7 131.4L546.0 111.9L546.3 142.0L546.6 116.8L547.0 112.5L547.3 129.2L547.6 131.9L547.9 133.5L548.2 135.5L548.6 126.5L548.9 122.7L549.2 125.6L549.5 122.1L549.8 117.1L550.2 136.9L550.5 138.9L550.8 122.2L551.1 120.1L551.4 117.7L551.8 106.7L552.1 116.0L552.4 117.5L552.7 122.1L553.0 113.0L553.4 104.8L553.7 128.3L554.0 138.1L554.3 102.7L554.6 121.1L555.0 130.2L555.3 111.6L555.6 109.2L555.9 122.7L556.2 120.2L556.6 116.5L556.9 137.5L557.2 136.2L557.5 128.5L557.8 121.9L558.2 119.5L558.5 130.7L558.8 120.4L559.1 136.3L559.4 134.1L559.8 117.1L560.1 129.6L560.4 137.1L560.7 128.7L561.0 114.0L561.4 120.3L561.7 119.6L562.0 123.9L562.3 123.1L562.6 119.6L563.0 130.8L563.3 135.4L563.6 117.7L563.9 109.4L564.2 127.7L564.6 123.1L564.9 126.9L565.2 116.8L565.5 125.8L565.8 114.7L566.2 133.2L566.5 138.6L566.8 114.6L567.1 99.3L567.4 118.7L567.8 118.4L568.1 125.1L568.4 123.5L568.7 127.9L569.0 148.3L569.4 118.3L569.7 120.0L570.0 127.4L570.3 106.4L570.6 130.7L571.0 117.8L571.3 110.3L571.6 115.7L571.9 128.2L572.2 131.3L572.6 135.1L572.9 127.6L573.2 117.0L573.5 128.8L573.8 123.0L574.2 145.2L574.5 104.8L574.8 138.6L575.1 130.8L575.4 127.5L575.8 123.0L576.1 118.7L576.4 115.0L576.7 109.5L577.0 142.6L577.4 132.5L577.7 130.1L578.0 127.3L578.3 106.3L578.6 121.4L579.0 125.1L579.3 134.7L579.6 114.8L579.9 126.6L580.2 121.9L580.6 124.4L580.9 116.9L581.2 127.5L581.5 124.9L581.8 107.0L582.2 135.4L582.5 144.4L582.8 116.2L583.1 134.8L583.4 115.3L583.8 119.4L584.1 140.5L584.4 126.2L584.7 138.3L585.0 127.1L585.4 133.7L585.7 122.9L586.0 148.4L586.3 140.9L586.6 131.8L587.0 119.3L587.3 121.1L587.6 115.9L587.9 130.1L588.2 129.4L588.6 118.2L588.9 133.1L589.2 119.3L589.5 141.4L589.8 132.3L590.2 139.3L590.5 118.2L590.8 115.6L591.1 108.0L591.4 130.7L591.8 114.4L592.1 137.2L592.4 126.2L592.7 131.9L593.0 113.1L593.4 119.4L593.7 126.6L594.0 131.7L594.3 113.1L594.6 128.1L595.0 117.4L595.3 132.4L595.6 122.9L595.9 122.3L596.2 129.0L596.6 135.6L596.9 122.8L597.2 136.3L597.5 115.9L597.8 127.7L598.2 114.8L598.5 127.0L598.8 116.7L599.1 125.4L599.4 130.8L599.8 116.3L600.1 109.0L600.4 123.5L600.7 129.9L601.0 127.3L601.4 116.8L601.7 132.8L602.0 122.5L602.3 132.2L602.6 117.1L603.0 129.2L603.3 136.0L603.6 119.1L603.9 122.5L604.2 130.9L604.6 130.0L604.9 128.5L605.2 124.1L605.5 110.9L605.8 125.2L606.2 113.4L606.5 126.0L606.8 103.8L607.1 138.4L607.4 142.7L607.8 129.4L608.1 117.5L608.4 122.5L608.7 133.4L609.0 131.3L609.4 118.9L609.7 136.3L610.0 132.0L610.3 130.2L610.6 122.1L611.0 125.3L611.3 118.9L611.6 127.1L611.9 119.3L612.2 136.1L612.6 125.8L612.9 127.3L613.2 128.4L613.5 128.4L613.8 112.4L614.2 137.1L614.5 125.1L614.8 120.4L615.1 116.6L615.4 119.3L615.8 119.9L616.1 125.6L616.4 117.6L616.7 126.5L617.0 126.8L617.4 119.2L617.7 145.7L618.0 124.4L618.3 128.6L618.6 126.5L619.0 124.1L619.3 131.7L619.6 138.1L619.9 124.9L620.2 117.7L620.6 130.5L620.9 105.9L621.2 127.0L621.5 123.8L621.8 128.5L622.2 111.8L622.5 121.6L622.8 116.2L623.1 120.6L623.4 130.9L623.8 123.7L624.1 120.2L624.4 136.3L624.7 125.6L625.0 107.1L625.4 116.0L625.7 129.2L626.0 129.5L626.3 127.5L626.6 127.8L627.0 117.3L627.3 124.6L627.6 114.6L627.9 105.2L628.2 117.1L628.6 117.8L628.9 122.3L629.2 123.3L629.5 118.1L629.8 135.2L630.2 121.2L630.5 138.4L630.8 134.4L631.1 114.3L631.4 133.4L631.8 112.6L632.1 138.4L632.4 122.2L632.7 116.3L633.0 105.4L633.4 121.6" fill="none" stroke="#1a10f0" stroke-width="0.95" stroke-linejoin="miter"/>
<path d="M458.0 266.0L458.3 269.2L458.6 260.0L459.0 261.7L459.3 256.1L459.6 277.7L459.9 284.5L460.2 274.0L460.6 262.5L460.9 285.8L461.2 270.4L461.5 258.3L461.8 255.6L462.2 275.3L462.5 287.3L462.8 270.0L463.1 267.6L463.4 276.1L463.8 265.6L464.1 268.5L464.4 276.2L464.7 266.9L465.0 282.7L465.4 264.6L465.7 280.6L466.0 277.2L466.3 270.3L466.6 271.2L467.0 271.0L467.3 292.3L467.6 266.4L467.9 285.4L468.2 283.8L468.6 271.0L468.9 289.6L469.2 251.7L469.5 276.7L469.8 275.6L470.2 274.6L470.5 282.4L470.8 270.7L471.1 272.7L471.4 285.5L471.8 273.5L472.1 264.8L472.4 280.1L472.7 273.9L473.0 269.4L473.4 280.0L473.7 267.5L474.0 265.5L474.3 272.4L474.6 273.1L475.0 275.4L475.3 263.5L475.6 291.3L475.9 281.5L476.2 276.6L476.6 277.3L476.9 251.4L477.2 284.0L477.5 265.5L477.8 280.0L478.2 263.9L478.5 284.7L478.8 270.3L479.1 273.4L479.4 290.0L479.8 290.6L480.1 262.4L480.4 268.9L480.7 277.4L481.0 273.4L481.4 283.3L481.7 269.2L482.0 257.9L482.3 267.1L482.6 274.0L483.0 281.0L483.3 282.9L483.6 287.7L483.9 278.2L484.2 274.0L484.6 278.9L484.9 275.1L485.2 271.6L485.5 271.7L485.8 285.0L486.2 290.3L486.5 288.7L486.8 261.1L487.1 286.7L487.4 265.7L487.8 273.1L488.1 282.0L488.4 263.8L488.7 264.8L489.0 269.4L489.4 292.6L489.7 286.8L490.0 268.1L490.3 278.0L490.6 278.0L491.0 279.7L491.3 270.0L491.6 290.5L491.9 273.2L492.2 284.6L492.6 260.9L492.9 280.6L493.2 278.3L493.5 289.9L493.8 252.4L494.2 282.3L494.5 284.8L494.8 274.6L495.1 289.7L495.4 297.2L495.8 285.6L496.1 285.0L496.4 290.1L496.7 281.5L497.0 289.1L497.4 283.1L497.7 271.0L498.0 272.1L498.3 288.7L498.6 283.3L499.0 271.3L499.3 277.9L499.6 291.6L499.9 261.4L500.2 269.2L500.6 284.4L500.9 285.7L501.2 267.5L501.5 268.4L501.8 279.5L502.2 291.3L502.5 278.1L502.8 256.0L503.1 287.9L503.4 277.9L503.8 273.8L504.1 267.2L504.4 289.6L504.7 280.8L505.0 282.1L505.4 281.7L505.7 282.5L506.0 286.4L506.3 294.7L506.6 268.4L507.0 277.8L507.3 274.2L507.6 294.6L507.9 275.9L508.2 263.3L508.6 278.4L508.9 271.8L509.2 271.7L509.5 274.5L509.8 266.4L510.2 260.5L510.5 297.4L510.8 277.7L511.1 270.1L511.4 284.9L511.8 291.7L512.1 262.5L512.4 274.9L512.7 281.8L513.0 279.0L513.4 283.5L513.7 267.5L514.0 269.2L514.3 278.2L514.6 283.4L515.0 279.8L515.3 272.9L515.6 276.0L515.9 259.4L516.2 299.8L516.6 275.7L516.9 283.5L517.2 282.2L517.5 285.1L517.8 283.0L518.2 273.3L518.5 259.5L518.8 278.1L519.1 272.2L519.4 279.9L519.8 279.9L520.1 282.2L520.4 292.2L520.7 278.6L521.0 263.5L521.4 285.5L521.7 288.8L522.0 264.3L522.3 285.8L522.6 279.4L523.0 274.9L523.3 281.7L523.6 283.7L523.9 285.7L524.2 291.0L524.6 280.0L524.9 276.1L525.2 303.1L525.5 269.9L525.8 277.5L526.2 276.8L526.5 287.5L526.8 290.7L527.1 267.6L527.4 291.9L527.8 268.9L528.1 305.0L528.4 273.8L528.7 290.7L529.0 277.7L529.4 287.0L529.7 273.1L530.0 281.5L530.3 278.8L530.6 281.2L531.0 287.9L531.3 276.1L531.6 277.3L531.9 267.8L532.2 279.0L532.6 275.7L532.9 288.8L533.2 286.8L533.5 273.5L533.8 284.6L534.2 292.9L534.5 278.4L534.8 269.3L535.1 303.9L535.4 285.7L535.8 287.2L536.1 304.3L536.4 272.9L536.7 283.4L537.0 262.5L537.4 285.2L537.7 284.3L538.0 273.1L538.3 272.5L538.6 278.9L539.0 278.4L539.3 295.7L539.6 278.3L539.9 279.1L540.2 279.0L540.6 265.4L540.9 276.0L541.2 267.8L541.5 281.9L541.8 259.8L542.2 270.0L542.5 283.1L542.8 260.7L543.1 265.9L543.4 290.2L543.8 268.1L544.1 280.7L544.4 283.7L544.7 270.7L545.0 264.7L545.4 295.3L545.7 275.5L546.0 285.7L546.3 273.6L546.6 284.3L547.0 268.4L547.3 267.8L547.6 270.9L547.9 274.9L548.2 274.9L548.6 277.8L548.9 285.1L549.2 274.9L549.5 289.8L549.8 274.7L550.2 287.3L550.5 293.5L550.8 297.6L551.1 262.1L551.4 297.4L551.8 264.2L552.1 294.5L552.4 280.9L552.7 284.4L553.0 272.1L553.4 290.0L553.7 287.6L554.0 275.9L554.3 275.3L554.6 289.3L555.0 291.0L555.3 288.5L555.6 277.6L555.9 281.2L556.2 290.1L556.6 289.2L556.9 292.0L557.2 282.6L557.5 274.6L557.8 284.0L558.2 285.6L558.5 276.2L558.8 285.6L559.1 273.3L559.4 283.8L559.8 275.6L560.1 301.5L560.4 292.7L560.7 283.9L561.0 268.9L561.4 269.7L561.7 288.0L562.0 280.0L562.3 284.4L562.6 266.5L563.0 267.1L563.3 282.6L563.6 279.5L563.9 268.8L564.2 273.9L564.6 289.0L564.9 277.4L565.2 287.0L565.5 297.2L565.8 284.8L566.2 282.8L566.5 275.9L566.8 293.2L567.1 260.2L567.4 271.2L567.8 281.4L568.1 267.6L568.4 291.0L568.7 275.7L569.0 286.7L569.4 278.7L569.7 279.3L570.0 281.8L570.3 263.0L570.6 271.4L571.0 277.2L571.3 302.8L571.6 289.5L571.9 288.6L572.2 271.9L572.6 290.3L572.9 293.6L573.2 288.9L573.5 306.7L573.8 269.0L574.2 271.6L574.5 279.3L574.8 272.6L575.1 282.4L575.4 286.8L575.8 281.8L576.1 282.9L576.4 285.8L576.7 289.3L577.0 275.7L577.4 275.6L577.7 293.3L578.0 278.7L578.3 274.1L578.6 284.7L579.0 278.6L579.3 283.1L579.6 281.4L579.9 288.0L580.2 290.7L580.6 271.2L580.9 270.5L581.2 297.2L581.5 275.6L581.8 267.3L582.2 264.1L582.5 281.7L582.8 276.0L583.1 264.7L583.4 273.1L583.8 272.1L584.1 291.6L584.4 285.6L584.7 282.0L585.0 270.1L585.4 280.4L585.7 291.0L586.0 283.7L586.3 292.2L586.6 282.9L587.0 288.8L587.3 286.6L587.6 276.8L587.9 294.9L588.2 285.7L588.6 290.1L588.9 272.2L589.2 272.0L589.5 280.6L589.8 274.7L590.2 288.2L590.5 286.2L590.8 299.9L591.1 287.9L591.4 271.6L591.8 291.4L592.1 292.6L592.4 275.4L592.7 283.0L593.0 282.3L593.4 283.9L593.7 309.3L594.0 286.5L594.3 296.3L594.6 280.5L595.0 285.7L595.3 277.6L595.6 278.5L595.9 295.3L596.2 286.8L596.6 286.8L596.9 274.9L597.2 298.8L597.5 280.9L597.8 276.4L598.2 282.4L598.5 289.0L598.8 289.7L599.1 296.6L599.4 272.6L599.8 278.6L600.1 297.5L600.4 304.2L600.7 276.7L601.0 281.8L601.4 268.1L601.7 274.9L602.0 274.4L602.3 278.8L602.6 271.5L603.0 291.6L603.3 282.2L603.6 280.4L603.9 291.6L604.2 280.3L604.6 271.1L604.9 283.1L605.2 303.4L605.5 283.8L605.8 287.9L606.2 281.0L606.5 280.8L606.8 287.7L607.1 257.9L607.4 271.2L607.8 277.3L608.1 280.4L608.4 296.8L608.7 306.2L609.0 289.0L609.4 287.6L609.7 289.5L610.0 297.3L610.3 273.7L610.6 276.3L611.0 284.5L611.3 285.9L611.6 265.1L611.9 293.4L612.2 268.1L612.6 290.4L612.9 291.2L613.2 261.7L613.5 287.9L613.8 285.0L614.2 277.3L614.5 292.2L614.8 302.2L615.1 287.9L615.4 272.9L615.8 269.6L616.1 272.2L616.4 273.6L616.7 293.9L617.0 286.0L617.4 283.0L617.7 291.6L618.0 283.5L618.3 283.6L618.6 275.4L619.0 279.4L619.3 283.6L619.6 272.3L619.9 299.1L620.2 284.5L620.6 278.2L620.9 292.6L621.2 273.4L621.5 293.4L621.8 288.6L622.2 301.3L622.5 278.2L622.8 279.7L623.1 275.5L623.4 271.7L623.8 285.9L624.1 273.5L624.4 286.5L624.7 277.5L625.0 293.5L625.4 259.4L625.7 287.5L626.0 285.0L626.3 283.6L626.6 277.6L627.0 298.1L627.3 279.7L627.6 278.3L627.9 281.1L628.2 280.2L628.6 284.5L628.9 290.0L629.2 273.1L629.5 279.2L629.8 270.3L630.2 287.5L630.5 275.6L630.8 276.7L631.1 289.9L631.4 283.6L631.8 287.6L632.1 282.4L632.4 287.6L632.7 284.6L633.0 273.2L633.4 285.8" fill="none" stroke="#000" stroke-width="0.95" stroke-linejoin="miter"/>
<path d="M458.0 270.9L458.3 259.6L458.6 252.2L459.0 268.5L459.3 267.2L459.6 259.6L459.9 253.6L460.2 263.2L460.6 271.5L460.9 278.1L461.2 265.4L461.5 257.6L461.8 267.8L462.2 274.7L462.5 268.0L462.8 277.8L463.1 264.0L463.4 276.6L463.8 282.0L464.1 259.6L464.4 260.8L464.7 274.7L465.0 297.4L465.4 273.5L465.7 277.7L466.0 280.9L466.3 268.0L466.6 254.2L467.0 260.3L467.3 281.5L467.6 253.7L467.9 256.2L468.2 276.7L468.6 270.6L468.9 280.4L469.2 259.7L469.5 253.9L469.8 262.7L470.2 258.2L470.5 267.4L470.8 268.0L471.1 275.9L471.4 268.8L471.8 266.0L472.1 274.2L472.4 279.9L472.7 279.3L473.0 272.4L473.4 270.1L473.7 265.6L474.0 258.0L474.3 270.6L474.6 269.8L475.0 285.2L475.3 272.1L475.6 277.0L475.9 282.2L476.2 253.1L476.6 264.4L476.9 268.2L477.2 271.5L477.5 260.0L477.8 278.3L478.2 278.8L478.5 275.1L478.8 276.8L479.1 260.5L479.4 281.1L479.8 265.1L480.1 253.4L480.4 271.9L480.7 274.7L481.0 264.6L481.4 255.7L481.7 260.4L482.0 269.6L482.3 247.7L482.6 280.5L483.0 280.3L483.3 269.5L483.6 280.9L483.9 269.7L484.2 260.8L484.6 277.1L484.9 276.5L485.2 262.9L485.5 258.5L485.8 262.4L486.2 282.2L486.5 268.8L486.8 297.4L487.1 265.6L487.4 277.2L487.8 274.7L488.1 268.3L488.4 279.5L488.7 264.0L489.0 271.4L489.4 261.1L489.7 251.9L490.0 272.6L490.3 261.5L490.6 260.1L491.0 277.4L491.3 270.7L491.6 275.7L491.9 288.1L492.2 273.9L492.6 269.4L492.9 261.4L493.2 280.1L493.5 280.3L493.8 262.8L494.2 278.5L494.5 275.5L494.8 270.6L495.1 273.4L495.4 290.1L495.8 266.8L496.1 269.7L496.4 273.8L496.7 276.4L497.0 256.1L497.4 278.9L497.7 281.5L498.0 288.9L498.3 267.9L498.6 261.5L499.0 279.2L499.3 263.8L499.6 273.2L499.9 269.6L500.2 275.1L500.6 269.3L500.9 279.8L501.2 266.3L501.5 295.4L501.8 280.7L502.2 267.8L502.5 270.2L502.8 271.9L503.1 269.4L503.4 266.1L503.8 286.6L504.1 282.8L504.4 263.9L504.7 279.1L505.0 274.1L505.4 281.1L505.7 268.0L506.0 293.7L506.3 274.8L506.6 292.5L507.0 269.9L507.3 286.7L507.6 273.3L507.9 289.7L508.2 272.7L508.6 264.6L508.9 264.6L509.2 266.9L509.5 280.1L509.8 278.0L510.2 275.7L510.5 284.5L510.8 289.8L511.1 265.5L511.4 284.1L511.8 296.1L512.1 269.2L512.4 269.7L512.7 278.7L513.0 277.1L513.4 270.1L513.7 274.5L514.0 290.0L514.3 283.6L514.6 267.8L515.0 259.6L515.3 265.2L515.6 277.0L515.9 269.5L516.2 267.7L516.6 282.1L516.9 272.9L517.2 272.1L517.5 277.6L517.8 289.0L518.2 278.5L518.5 282.1L518.8 276.5L519.1 290.1L519.4 268.9L519.8 265.6L520.1 271.3L520.4 294.6L520.7 290.2L521.0 265.9L521.4 271.8L521.7 281.1L522.0 276.7L522.3 284.2L522.6 271.6L523.0 260.9L523.3 281.8L523.6 287.6L523.9 262.0L524.2 258.9L524.6 272.0L524.9 259.0L525.2 280.2L525.5 265.6L525.8 283.1L526.2 273.8L526.5 277.5L526.8 282.4L527.1 274.4L527.4 267.0L527.8 284.7L528.1 262.8L528.4 289.3L528.7 270.8L529.0 271.5L529.4 280.0L529.7 283.9L530.0 281.1L530.3 263.0L530.6 268.4L531.0 279.6L531.3 279.9L531.6 275.7L531.9 288.4L532.2 274.9L532.6 285.2L532.9 286.6L533.2 279.8L533.5 274.8L533.8 283.4L534.2 280.8L534.5 282.4L534.8 268.7L535.1 283.5L535.4 291.4L535.8 274.1L536.1 272.8L536.4 274.6L536.7 284.9L537.0 257.9L537.4 291.5L537.7 281.5L538.0 274.8L538.3 279.4L538.6 287.2L539.0 280.3L539.3 283.1L539.6 288.0L539.9 278.5L540.2 283.8L540.6 291.8L540.9 282.2L541.2 271.3L541.5 284.1L541.8 295.7L542.2 274.2L542.5 284.8L542.8 281.0L543.1 285.2L543.4 273.4L543.8 277.0L544.1 295.1L544.4 283.5L544.7 271.6L545.0 284.5L545.4 277.8L545.7 291.3L546.0 262.5L546.3 278.2L546.6 286.3L547.0 265.7L547.3 269.2L547.6 281.7L547.9 277.7L548.2 274.6L548.6 280.2L548.9 264.7L549.2 269.8L549.5 293.3L549.8 271.6L550.2 281.5L550.5 277.0L550.8 285.4L551.1 280.5L551.4 281.2L551.8 288.2L552.1 280.5L552.4 262.1L552.7 271.6L553.0 290.6L553.4 285.0L553.7 275.5L554.0 263.2L554.3 271.2L554.6 296.7L555.0 288.6L555.3 288.8L555.6 263.0L555.9 265.4L556.2 272.4L556.6 265.4L556.9 278.8L557.2 267.8L557.5 282.1L557.8 276.6L558.2 272.7L558.5 283.8L558.8 281.9L559.1 279.1L559.4 274.6L559.8 277.4L560.1 260.4L560.4 260.1L560.7 271.8L561.0 280.7L561.4 291.2L561.7 281.6L562.0 269.0L562.3 273.6L562.6 266.5L563.0 277.6L563.3 277.2L563.6 277.7L563.9 280.5L564.2 287.5L564.6 284.3L564.9 267.6L565.2 285.8L565.5 268.9L565.8 281.6L566.2 279.0L566.5 293.4L566.8 277.3L567.1 277.3L567.4 275.7L567.8 286.0L568.1 281.1L568.4 275.9L568.7 285.8L569.0 297.4L569.4 293.1L569.7 294.7L570.0 273.5L570.3 277.5L570.6 279.9L571.0 263.0L571.3 294.0L571.6 265.4L571.9 282.1L572.2 267.3L572.6 279.6L572.9 286.0L573.2 283.3L573.5 270.8L573.8 272.7L574.2 287.0L574.5 278.0L574.8 279.7L575.1 287.1L575.4 255.9L575.8 281.0L576.1 290.1L576.4 294.8L576.7 284.9L577.0 272.1L577.4 287.5L577.7 295.7L578.0 273.0L578.3 272.3L578.6 277.5L579.0 267.6L579.3 260.4L579.6 257.5L579.9 267.0L580.2 273.2L580.6 282.8L580.9 277.7L581.2 280.5L581.5 291.3L581.8 306.0L582.2 286.9L582.5 270.1L582.8 288.0L583.1 279.0L583.4 282.1L583.8 287.7L584.1 286.0L584.4 267.2L584.7 268.7L585.0 281.5L585.4 285.4L585.7 298.1L586.0 284.5L586.3 275.8L586.6 274.7L587.0 272.7L587.3 267.4L587.6 267.4L587.9 269.2L588.2 280.0L588.6 272.2L588.9 279.3L589.2 276.7L589.5 277.2L589.8 275.3L590.2 281.8L590.5 279.4L590.8 255.3L591.1 281.7L591.4 280.2L591.8 273.8L592.1 280.8L592.4 273.1L592.7 280.4L593.0 271.5L593.4 285.5L593.7 282.5L594.0 266.3L594.3 273.1L594.6 285.8L595.0 283.1L595.3 280.7L595.6 269.2L595.9 262.0L596.2 280.9L596.6 282.2L596.9 279.4L597.2 272.0L597.5 277.5L597.8 275.1L598.2 269.1L598.5 269.7L598.8 272.3L599.1 266.0L599.4 283.8L599.8 286.5L600.1 287.6L600.4 272.6L600.7 272.9L601.0 281.9L601.4 275.4L601.7 276.8L602.0 276.9L602.3 265.2L602.6 291.1L603.0 266.8L603.3 265.5L603.6 287.1L603.9 269.9L604.2 289.4L604.6 282.8L604.9 283.0L605.2 276.4L605.5 267.1L605.8 269.1L606.2 280.7L606.5 278.8L606.8 269.0L607.1 269.6L607.4 272.1L607.8 279.3L608.1 281.4L608.4 288.0L608.7 276.6L609.0 292.8L609.4 286.4L609.7 293.2L610.0 272.1L610.3 285.2L610.6 289.7L611.0 264.1L611.3 288.3L611.6 283.7L611.9 288.3L612.2 281.6L612.6 290.3L612.9 276.3L613.2 275.4L613.5 286.5L613.8 286.6L614.2 268.1L614.5 290.9L614.8 290.7L615.1 289.4L615.4 273.7L615.8 291.5L616.1 284.8L616.4 288.5L616.7 279.8L617.0 276.4L617.4 274.0L617.7 274.8L618.0 288.3L618.3 273.4L618.6 274.8L619.0 283.3L619.3 280.6L619.6 262.1L619.9 274.5L620.2 277.2L620.6 294.8L620.9 286.4L621.2 268.6L621.5 270.6L621.8 276.4L622.2 282.5L622.5 273.6L622.8 284.4L623.1 268.0L623.4 283.5L623.8 291.2L624.1 256.9L624.4 280.3L624.7 286.1L625.0 284.6L625.4 281.5L625.7 280.1L626.0 283.2L626.3 281.6L626.6 281.5L627.0 294.7L627.3 289.8L627.6 289.0L627.9 275.1L628.2 276.4L628.6 290.2L628.9 271.4L629.2 289.9L629.5 268.8L629.8 299.7L630.2 291.9L630.5 276.0L630.8 276.8L631.1 262.7L631.4 280.4L631.8 291.5L632.1 286.3L632.4 278.6L632.7 297.9L633.0 285.9L633.4 284.6" fill="none" stroke="#f01020" stroke-width="0.95" stroke-linejoin="miter"/>
<path d="M458.0 262.4L458.3 255.4L458.6 250.5L459.0 271.6L459.3 252.3L459.6 249.8L459.9 268.7L460.2 243.9L460.6 255.9L460.9 266.3L461.2 254.8L461.5 252.8L461.8 253.8L462.2 246.6L462.5 255.7L462.8 264.3L463.1 247.9L463.4 270.4L463.8 256.0L464.1 257.3L464.4 253.7L464.7 263.3L465.0 253.8L465.4 260.3L465.7 269.7L466.0 269.7L466.3 244.6L466.6 270.6L467.0 254.0L467.3 261.3L467.6 259.6L467.9 261.2L468.2 253.3L468.6 264.1L468.9 268.0L469.2 253.7L469.5 258.8L469.8 266.4L470.2 268.8L470.5 262.2L470.8 255.9L471.1 263.6L471.4 256.3L471.8 262.4L472.1 256.9L472.4 256.4L472.7 238.3L473.0 243.3L473.4 263.0L473.7 266.4L474.0 263.8L474.3 260.7L474.6 257.1L475.0 265.0L475.3 256.3L475.6 260.0L475.9 269.1L476.2 247.6L476.6 254.8L476.9 258.0L477.2 242.9L477.5 249.6L477.8 270.0L478.2 265.1L478.5 259.3L478.8 272.4L479.1 251.7L479.4 278.0L479.8 260.1L480.1 255.3L480.4 270.7L480.7 265.6L481.0 262.8L481.4 264.9L481.7 244.7L482.0 242.3L482.3 261.1L482.6 269.9L483.0 254.1L483.3 262.1L483.6 247.2L483.9 240.2L484.2 260.9L484.6 267.8L484.9 268.3L485.2 272.7L485.5 254.5L485.8 260.2L486.2 268.9L486.5 252.6L486.8 259.1L487.1 261.9L487.4 257.3L487.8 270.0L488.1 266.0L488.4 258.2L488.7 241.2L489.0 269.4L489.4 271.3L489.7 267.0L490.0 265.7L490.3 266.5L490.6 273.5L491.0 258.0L491.3 262.1L491.6 253.7L491.9 260.8L492.2 255.4L492.6 255.5L492.9 244.9L493.2 262.1L493.5 272.2L493.8 235.9L494.2 274.7L494.5 262.8L494.8 257.1L495.1 266.0L495.4 261.1L495.8 262.7L496.1 276.3L496.4 265.0L496.7 266.8L497.0 261.2L497.4 262.1L497.7 255.5L498.0 262.6L498.3 256.8L498.6 274.2L499.0 261.8L499.3 270.6L499.6 275.7L499.9 273.3L500.2 258.0L500.6 279.3L500.9 247.1L501.2 277.2L501.5 241.5L501.8 256.2L502.2 263.7L502.5 258.0L502.8 245.4L503.1 251.0L503.4 266.9L503.8 249.1L504.1 270.4L504.4 275.1L504.7 277.0L505.0 267.1L505.4 264.4L505.7 261.3L506.0 289.8L506.3 275.9L506.6 270.8L507.0 268.1L507.3 275.0L507.6 247.8L507.9 273.0L508.2 260.1L508.6 244.4L508.9 278.9L509.2 259.5L509.5 269.4L509.8 258.6L510.2 261.9L510.5 280.2L510.8 268.7L511.1 269.3L511.4 251.5L511.8 274.0L512.1 260.0L512.4 270.2L512.7 256.7L513.0 269.3L513.4 271.0L513.7 252.8L514.0 269.0L514.3 258.1L514.6 277.6L515.0 269.6L515.3 266.8L515.6 294.0L515.9 274.0L516.2 263.0L516.6 274.5L516.9 269.2L517.2 278.9L517.5 257.6L517.8 284.6L518.2 262.2L518.5 263.4L518.8 260.3L519.1 264.2L519.4 284.4L519.8 268.7L520.1 257.4L520.4 265.8L520.7 269.5L521.0 276.0L521.4 264.4L521.7 269.1L522.0 294.1L522.3 266.3L522.6 268.6L523.0 256.7L523.3 276.3L523.6 263.4L523.9 284.5L524.2 278.7L524.6 275.2L524.9 263.3L525.2 264.8L525.5 264.5L525.8 268.8L526.2 264.9L526.5 263.2L526.8 269.1L527.1 268.0L527.4 264.8L527.8 276.6L528.1 277.8L528.4 263.3L528.7 287.9L529.0 272.0L529.4 279.7L529.7 285.7L530.0 255.7L530.3 273.3L530.6 277.1L531.0 273.5L531.3 276.0L531.6 278.1L531.9 255.3L532.2 260.3L532.6 274.3L532.9 250.6L533.2 264.1L533.5 267.5L533.8 269.4L534.2 277.5L534.5 271.5L534.8 261.8L535.1 260.7L535.4 273.2L535.8 274.8L536.1 273.0L536.4 270.9L536.7 270.7L537.0 257.0L537.4 269.5L537.7 276.7L538.0 259.6L538.3 273.8L538.6 280.8L539.0 291.3L539.3 269.5L539.6 267.8L539.9 259.2L540.2 260.2L540.6 255.4L540.9 253.9L541.2 276.6L541.5 270.1L541.8 273.0L542.2 255.7L542.5 251.7L542.8 254.1L543.1 284.9L543.4 280.5L543.8 258.0L544.1 271.1L544.4 271.8L544.7 261.3L545.0 264.4L545.4 278.9L545.7 276.8L546.0 278.5L546.3 268.6L546.6 271.4L547.0 274.9L547.3 268.9L547.6 285.7L547.9 272.4L548.2 275.3L548.6 269.6L548.9 264.3L549.2 269.9L549.5 267.4L549.8 263.1L550.2 277.8L550.5 288.6L550.8 273.0L551.1 269.5L551.4 263.9L551.8 257.1L552.1 276.0L552.4 275.7L552.7 263.2L553.0 271.2L553.4 262.8L553.7 283.4L554.0 271.6L554.3 274.6L554.6 286.1L555.0 250.3L555.3 274.3L555.6 265.5L555.9 267.9L556.2 270.8L556.6 281.9L556.9 264.6L557.2 264.8L557.5 286.4L557.8 280.0L558.2 275.1L558.5 278.1L558.8 271.6L559.1 257.8L559.4 269.4L559.8 273.6L560.1 266.6L560.4 256.3L560.7 262.8L561.0 273.4L561.4 269.6L561.7 276.9L562.0 273.5L562.3 279.6L562.6 272.0L563.0 269.3L563.3 276.1L563.6 278.9L563.9 266.9L564.2 263.1L564.6 282.7L564.9 266.2L565.2 274.3L565.5 266.7L565.8 272.9L566.2 283.5L566.5 286.2L566.8 259.1L567.1 257.9L567.4 240.6L567.8 276.3L568.1 285.1L568.4 273.3L568.7 268.3L569.0 278.4L569.4 260.5L569.7 276.9L570.0 283.2L570.3 282.1L570.6 277.4L571.0 266.4L571.3 268.0L571.6 262.7L571.9 287.8L572.2 282.2L572.6 270.4L572.9 270.3L573.2 273.1L573.5 265.0L573.8 275.7L574.2 275.5L574.5 274.9L574.8 271.4L575.1 248.3L575.4 269.2L575.8 258.3L576.1 255.8L576.4 291.2L576.7 266.5L577.0 269.2L577.4 268.2L577.7 263.2L578.0 285.5L578.3 254.2L578.6 275.2L579.0 265.6L579.3 282.4L579.6 278.5L579.9 271.6L580.2 257.3L580.6 278.0L580.9 279.7L581.2 276.8L581.5 268.2L581.8 276.6L582.2 263.9L582.5 273.1L582.8 274.2L583.1 268.8L583.4 261.9L583.8 268.8L584.1 262.9L584.4 260.1L584.7 280.3L585.0 269.5L585.4 266.2L585.7 266.2L586.0 274.8L586.3 267.9L586.6 264.4L587.0 273.3L587.3 272.1L587.6 262.7L587.9 261.1L588.2 282.6L588.6 268.3L588.9 281.8L589.2 276.3L589.5 270.2L589.8 268.7L590.2 285.6L590.5 265.0L590.8 267.3L591.1 263.4L591.4 269.4L591.8 262.4L592.1 271.9L592.4 261.5L592.7 275.6L593.0 273.9L593.4 272.8L593.7 265.4L594.0 282.5L594.3 289.0L594.6 269.7L595.0 263.9L595.3 276.7L595.6 269.0L595.9 272.2L596.2 276.7L596.6 258.6L596.9 277.4L597.2 261.4L597.5 259.6L597.8 267.4L598.2 284.1L598.5 265.2L598.8 275.1L599.1 262.4L599.4 276.5L599.8 272.5L600.1 281.4L600.4 272.5L600.7 271.0L601.0 253.9L601.4 273.8L601.7 278.1L602.0 272.7L602.3 272.6L602.6 276.0L603.0 278.8L603.3 262.8L603.6 270.2L603.9 274.8L604.2 273.2L604.6 262.2L604.9 252.9L605.2 273.8L605.5 277.4L605.8 286.1L606.2 274.7L606.5 263.0L606.8 275.0L607.1 269.9L607.4 264.8L607.8 257.9L608.1 254.4L608.4 264.6L608.7 267.1L609.0 271.5L609.4 271.1L609.7 273.0L610.0 288.3L610.3 270.4L610.6 285.1L611.0 263.9L611.3 264.4L611.6 266.2L611.9 254.6L612.2 286.0L612.6 273.2L612.9 277.5L613.2 286.6L613.5 284.2L613.8 285.7L614.2 249.5L614.5 282.5L614.8 273.7L615.1 265.9L615.4 280.8L615.8 271.2L616.1 264.6L616.4 253.3L616.7 287.2L617.0 247.2L617.4 271.6L617.7 285.5L618.0 276.9L618.3 265.3L618.6 268.6L619.0 265.4L619.3 273.3L619.6 270.3L619.9 259.2L620.2 257.6L620.6 281.4L620.9 259.4L621.2 260.6L621.5 292.2L621.8 263.3L622.2 258.9L622.5 262.1L622.8 277.9L623.1 264.1L623.4 269.6L623.8 250.9L624.1 265.2L624.4 271.2L624.7 271.3L625.0 284.3L625.4 266.5L625.7 244.4L626.0 255.9L626.3 262.7L626.6 268.1L627.0 274.3L627.3 277.2L627.6 255.3L627.9 250.4L628.2 278.0L628.6 261.6L628.9 249.2L629.2 262.0L629.5 266.7L629.8 259.6L630.2 249.9L630.5 280.0L630.8 260.6L631.1 273.5L631.4 272.7L631.8 267.4L632.1 292.4L632.4 258.3L632.7 294.4L633.0 261.9L633.4 268.3" fill="none" stroke="#1a10f0" stroke-width="0.95" stroke-linejoin="miter"/>
<path d="M458.0 423.3L458.3 424.6L458.6 415.9L459.0 424.3L459.3 415.1L459.6 415.0L459.9 392.0L460.2 405.4L460.6 403.3L460.9 418.4L461.2 414.8L461.5 403.7L461.8 414.5L462.2 412.9L462.5 417.9L462.8 408.8L463.1 406.5L463.4 425.9L463.8 411.7L464.1 424.0L464.4 405.8L464.7 412.1L465.0 411.2L465.4 408.1L465.7 421.2L466.0 401.5L466.3 416.7L466.6 393.9L467.0 421.1L467.3 413.7L467.6 425.3L467.9 433.9L468.2 408.0L468.6 414.7L468.9 402.3L469.2 410.3L469.5 415.3L469.8 415.1L470.2 422.3L470.5 419.5L470.8 424.2L471.1 408.3L471.4 410.8L471.8 405.0L472.1 412.1L472.4 388.8L472.7 414.0L473.0 415.5L473.4 410.6L473.7 411.2L474.0 398.8L474.3 408.9L474.6 426.5L475.0 417.3L475.3 419.5L475.6 411.0L475.9 413.9L476.2 412.3L476.6 406.8L476.9 425.0L477.2 434.8L477.5 419.0L477.8 410.8L478.2 417.6L478.5 426.6L478.8 427.6L479.1 402.8L479.4 418.7L479.8 408.7L480.1 411.5L480.4 418.3L480.7 420.8L481.0 413.1L481.4 407.7L481.7 413.9L482.0 406.1L482.3 432.5L482.6 401.1L483.0 421.7L483.3 417.0L483.6 416.1L483.9 406.1L484.2 411.4L484.6 412.9L484.9 411.0L485.2 413.9L485.5 417.2L485.8 412.0L486.2 420.4L486.5 423.2L486.8 411.2L487.1 423.3L487.4 416.9L487.8 411.1L488.1 420.9L488.4 427.0L488.7 413.5L489.0 399.2L489.4 423.9L489.7 426.0L490.0 406.1L490.3 415.4L490.6 421.0L491.0 394.2L491.3 424.1L491.6 423.6L491.9 424.5L492.2 430.9L492.6 406.8L492.9 425.8L493.2 438.4L493.5 395.5L493.8 415.7L494.2 423.6L494.5 410.1L494.8 399.6L495.1 420.0L495.4 418.6L495.8 410.2L496.1 419.4L496.4 425.8L496.7 426.7L497.0 421.2L497.4 405.4L497.7 414.3L498.0 395.6L498.3 407.2L498.6 418.8L499.0 422.5L499.3 417.1L499.6 417.2L499.9 398.8L500.2 359.8L500.6 406.5L500.9 411.8L501.2 411.8L501.5 438.2L501.8 427.1L502.2 407.8L502.5 411.2L502.8 412.4L503.1 412.1L503.4 412.7L503.8 398.3L504.1 428.8L504.4 424.2L504.7 423.9L505.0 418.8L505.4 422.2L505.7 414.4L506.0 399.1L506.3 419.1L506.6 415.9L507.0 405.4L507.3 396.7L507.6 428.9L507.9 408.3L508.2 416.1L508.6 411.5L508.9 434.2L509.2 404.0L509.5 428.2L509.8 394.1L510.2 427.1L510.5 413.6L510.8 396.9L511.1 418.9L511.4 417.7L511.8 405.2L512.1 421.8L512.4 429.4L512.7 423.1L513.0 405.2L513.4 411.4L513.7 409.4L514.0 419.8L514.3 413.6L514.6 409.1L515.0 431.9L515.3 413.7L515.6 429.3L515.9 426.8L516.2 412.0L516.6 401.4L516.9 420.9L517.2 433.2L517.5 430.2L517.8 422.8L518.2 423.2L518.5 413.1L518.8 412.3L519.1 449.0L519.4 430.2L519.8 406.6L520.1 422.2L520.4 423.7L520.7 402.3L521.0 416.7L521.4 424.9L521.7 435.4L522.0 435.1L522.3 416.2L522.6 416.6L523.0 415.3L523.3 421.9L523.6 428.0L523.9 409.9L524.2 418.2L524.6 414.3L524.9 412.5L525.2 415.0L525.5 434.2L525.8 436.7L526.2 430.9L526.5 404.2L526.8 423.1L527.1 443.2L527.4 424.2L527.8 413.5L528.1 426.0L528.4 417.9L528.7 416.5L529.0 422.9L529.4 425.0L529.7 418.8L530.0 420.3L530.3 410.7L530.6 420.2L531.0 427.5L531.3 421.6L531.6 419.0L531.9 406.9L532.2 431.6L532.6 409.7L532.9 427.4L533.2 417.4L533.5 428.6L533.8 431.0L534.2 418.0L534.5 391.9L534.8 401.4L535.1 411.7L535.4 412.3L535.8 424.0L536.1 440.2L536.4 427.6L536.7 420.0L537.0 434.3L537.4 419.5L537.7 429.6L538.0 425.0L538.3 402.9L538.6 430.8L539.0 438.5L539.3 418.3L539.6 429.0L539.9 426.6L540.2 419.1L540.6 404.8L540.9 431.3L541.2 415.6L541.5 416.6L541.8 429.9L542.2 430.7L542.5 436.8L542.8 416.2L543.1 409.0L543.4 432.3L543.8 407.1L544.1 417.9L544.4 419.8L544.7 438.4L545.0 422.2L545.4 410.3L545.7 421.7L546.0 434.7L546.3 404.7L546.6 409.4L547.0 431.8L547.3 423.2L547.6 412.3L547.9 420.0L548.2 418.6L548.6 411.0L548.9 416.6L549.2 436.0L549.5 425.1L549.8 432.8L550.2 421.8L550.5 416.7L550.8 425.1L551.1 413.4L551.4 425.6L551.8 419.2L552.1 419.3L552.4 419.6L552.7 413.1L553.0 435.3L553.4 407.8L553.7 424.3L554.0 410.1L554.3 430.9L554.6 420.1L555.0 424.0L555.3 426.8L555.6 425.7L555.9 424.1L556.2 425.8L556.6 425.6L556.9 417.9L557.2 419.5L557.5 426.3L557.8 415.5L558.2 417.2L558.5 435.0L558.8 408.7L559.1 438.5L559.4 417.4L559.8 428.3L560.1 422.5L560.4 420.7L560.7 427.8L561.0 438.7L561.4 421.4L561.7 422.2L562.0 419.2L562.3 441.8L562.6 433.7L563.0 433.2L563.3 422.9L563.6 404.5L563.9 427.1L564.2 405.6L564.6 416.6L564.9 431.8L565.2 417.1L565.5 416.1L565.8 402.4L566.2 429.5L566.5 426.6L566.8 418.0L567.1 426.4L567.4 407.3L567.8 413.8L568.1 424.5L568.4 431.1L568.7 422.4L569.0 416.7L569.4 418.0L569.7 433.3L570.0 417.1L570.3 425.1L570.6 426.9L571.0 417.5L571.3 423.0L571.6 405.7L571.9 417.3L572.2 423.1L572.6 428.8L572.9 435.2L573.2 418.3L573.5 427.3L573.8 421.6L574.2 415.4L574.5 415.4L574.8 422.3L575.1 422.9L575.4 415.7L575.8 448.9L576.1 422.6L576.4 429.2L576.7 420.4L577.0 449.4L577.4 401.7L577.7 419.6L578.0 424.7L578.3 434.3L578.6 422.4L579.0 413.5L579.3 437.9L579.6 429.3L579.9 420.5L580.2 420.6L580.6 420.6L580.9 424.5L581.2 406.8L581.5 424.3L581.8 417.2L582.2 427.6L582.5 426.2L582.8 413.1L583.1 431.1L583.4 430.2L583.8 414.5L584.1 413.1L584.4 416.6L584.7 426.4L585.0 435.0L585.4 414.6L585.7 415.8L586.0 428.0L586.3 422.6L586.6 422.6L587.0 422.0L587.3 420.1L587.6 439.7L587.9 432.4L588.2 420.0L588.6 435.0L588.9 441.0L589.2 427.7L589.5 426.1L589.8 418.6L590.2 424.4L590.5 425.3L590.8 435.6L591.1 414.3L591.4 407.9L591.8 418.5L592.1 426.8L592.4 392.5L592.7 421.4L593.0 415.6L593.4 412.7L593.7 424.6L594.0 434.3L594.3 410.5L594.6 425.5L595.0 421.7L595.3 429.5L595.6 431.4L595.9 417.4L596.2 431.7L596.6 427.4L596.9 413.7L597.2 404.5L597.5 416.7L597.8 425.3L598.2 430.7L598.5 418.0L598.8 419.7L599.1 406.3L599.4 419.1L599.8 424.5L600.1 417.9L600.4 422.4L600.7 414.2L601.0 414.9L601.4 426.0L601.7 415.6L602.0 423.6L602.3 434.7L602.6 418.1L603.0 418.8L603.3 415.6L603.6 411.2L603.9 418.0L604.2 411.4L604.6 421.3L604.9 418.2L605.2 412.7L605.5 423.7L605.8 432.8L606.2 430.8L606.5 420.7L606.8 423.1L607.1 413.5L607.4 421.0L607.8 429.5L608.1 430.5L608.4 436.0L608.7 409.1L609.0 438.1L609.4 422.1L609.7 438.0L610.0 423.4L610.3 434.9L610.6 423.1L611.0 413.4L611.3 426.4L611.6 418.6L611.9 411.7L612.2 428.3L612.6 430.7L612.9 429.5L613.2 432.5L613.5 408.8L613.8 434.3L614.2 415.6L614.5 424.3L614.8 419.6L615.1 412.6L615.4 431.8L615.8 413.9L616.1 418.3L616.4 437.2L616.7 402.3L617.0 407.7L617.4 432.5L617.7 419.7L618.0 431.0L618.3 423.5L618.6 419.0L619.0 430.2L619.3 417.0L619.6 418.4L619.9 425.8L620.2 413.3L620.6 410.1L620.9 408.1L621.2 432.5L621.5 441.8L621.8 434.8L622.2 417.7L622.5 418.9L622.8 414.4L623.1 423.7L623.4 433.6L623.8 423.1L624.1 423.6L624.4 393.3L624.7 426.7L625.0 412.5L625.4 421.5L625.7 427.3L626.0 425.0L626.3 430.9L626.6 438.4L627.0 402.4L627.3 409.3L627.6 439.6L627.9 428.6L628.2 417.3L628.6 421.6L628.9 424.2L629.2 434.1L629.5 421.1L629.8 424.1L630.2 411.5L630.5 438.1L630.8 428.5L631.1 413.0L631.4 411.6L631.8 424.1L632.1 432.6L632.4 446.2L632.7 434.8L633.0 420.8L633.4 420.5" fill="none" stroke="#000" stroke-width="0.95" stroke-linejoin="miter"/>
<path d="M458.0 397.4L458.3 401.7L458.6 397.2L459.0 410.5L459.3 415.4L459.6 405.4L459.9 418.9L460.2 402.3L460.6 404.6L460.9 407.0L461.2 409.4L461.5 423.0L461.8 397.5L462.2 413.0L462.5 408.6L462.8 418.8L463.1 395.6L463.4 397.3L463.8 423.7L464.1 419.6L464.4 418.0L464.7 407.0L465.0 417.9L465.4 408.3L465.7 398.2L466.0 407.0L466.3 405.9L466.6 398.8L467.0 403.1L467.3 402.0L467.6 413.3L467.9 417.5L468.2 418.8L468.6 418.7L468.9 398.8L469.2 413.9L469.5 416.2L469.8 412.5L470.2 400.1L470.5 382.0L470.8 410.3L471.1 401.2L471.4 417.2L471.8 395.4L472.1 410.6L472.4 405.0L472.7 396.8L473.0 404.9L473.4 407.7L473.7 416.8L474.0 416.6L474.3 420.6L474.6 416.2L475.0 405.1L475.3 405.3L475.6 410.9L475.9 406.2L476.2 394.3L476.6 390.5L476.9 416.5L477.2 410.6L477.5 427.8L477.8 404.9L478.2 419.3L478.5 411.1L478.8 414.2L479.1 410.4L479.4 420.0L479.8 414.6L480.1 405.5L480.4 409.0L480.7 407.8L481.0 410.8L481.4 412.1L481.7 406.1L482.0 404.8L482.3 410.1L482.6 393.9L483.0 414.0L483.3 413.7L483.6 381.7L483.9 400.3L484.2 410.2L484.6 389.7L484.9 414.5L485.2 419.6L485.5 414.9L485.8 419.2L486.2 409.6L486.5 418.5L486.8 417.1L487.1 409.5L487.4 411.5L487.8 395.4L488.1 398.4L488.4 420.1L488.7 420.4L489.0 403.4L489.4 396.9L489.7 392.7L490.0 421.7L490.3 414.2L490.6 428.7L491.0 422.8L491.3 429.9L491.6 418.9L491.9 406.1L492.2 408.2L492.6 421.6L492.9 398.2L493.2 416.6L493.5 407.6L493.8 423.3L494.2 406.4L494.5 404.8L494.8 420.4L495.1 381.9L495.4 421.5L495.8 414.4L496.1 406.2L496.4 417.9L496.7 407.3L497.0 417.6L497.4 412.7L497.7 418.9L498.0 403.1L498.3 405.7L498.6 429.0L499.0 414.9L499.3 410.4L499.6 403.8L499.9 407.3L500.2 414.4L500.6 401.0L500.9 411.9L501.2 409.9L501.5 394.2L501.8 412.5L502.2 423.7L502.5 408.4L502.8 410.5L503.1 421.8L503.4 407.0L503.8 396.5L504.1 412.9L504.4 408.5L504.7 406.7L505.0 425.5L505.4 413.8L505.7 405.9L506.0 406.5L506.3 427.6L506.6 420.4L507.0 396.6L507.3 418.6L507.6 408.5L507.9 407.5L508.2 423.5L508.6 419.8L508.9 405.4L509.2 413.1L509.5 419.2L509.8 412.2L510.2 417.2L510.5 407.0L510.8 425.4L511.1 426.9L511.4 407.4L511.8 400.4L512.1 409.2L512.4 421.6L512.7 415.6L513.0 413.2L513.4 415.4L513.7 400.1L514.0 413.4L514.3 412.9L514.6 408.1L515.0 421.2L515.3 404.2L515.6 408.1L515.9 420.5L516.2 419.9L516.6 414.8L516.9 416.3L517.2 417.8L517.5 417.4L517.8 405.2L518.2 422.0L518.5 433.0L518.8 419.3L519.1 412.0L519.4 425.3L519.8 420.3L520.1 407.7L520.4 413.7L520.7 409.3L521.0 424.2L521.4 402.6L521.7 426.4L522.0 408.6L522.3 417.6L522.6 410.9L523.0 418.5L523.3 425.7L523.6 420.8L523.9 403.8L524.2 412.7L524.6 416.4L524.9 432.6L525.2 410.5L525.5 411.5L525.8 408.1L526.2 413.4L526.5 421.5L526.8 406.2L527.1 428.4L527.4 427.1L527.8 423.0L528.1 421.3L528.4 438.2L528.7 405.8L529.0 410.6L529.4 435.6L529.7 404.4L530.0 419.2L530.3 414.2L530.6 407.2L531.0 407.1L531.3 414.0L531.6 418.5L531.9 420.6L532.2 421.5L532.6 416.7L532.9 416.4L533.2 421.8L533.5 410.3L533.8 404.0L534.2 424.0L534.5 397.1L534.8 421.5L535.1 428.2L535.4 404.9L535.8 395.8L536.1 408.6L536.4 419.4L536.7 407.6L537.0 426.2L537.4 422.6L537.7 407.5L538.0 423.8L538.3 403.4L538.6 412.6L539.0 419.0L539.3 429.2L539.6 424.2L539.9 430.9L540.2 403.5L540.6 446.8L540.9 408.8L541.2 419.6L541.5 431.5L541.8 421.8L542.2 428.2L542.5 405.7L542.8 406.6L543.1 413.0L543.4 411.8L543.8 418.1L544.1 414.1L544.4 406.3L544.7 419.2L545.0 404.1L545.4 410.7L545.7 420.1L546.0 408.8L546.3 417.0L546.6 423.2L547.0 431.0L547.3 428.4L547.6 425.4L547.9 421.8L548.2 405.5L548.6 413.8L548.9 409.1L549.2 412.2L549.5 416.0L549.8 408.4L550.2 413.2L550.5 427.6L550.8 413.2L551.1 399.2L551.4 414.6L551.8 415.9L552.1 413.9L552.4 437.2L552.7 425.9L553.0 433.1L553.4 411.6L553.7 424.4L554.0 419.6L554.3 416.5L554.6 409.6L555.0 419.3L555.3 399.3L555.6 426.3L555.9 443.2L556.2 440.7L556.6 397.9L556.9 419.2L557.2 419.2L557.5 411.7L557.8 414.9L558.2 428.3L558.5 424.2L558.8 409.6L559.1 422.6L559.4 418.9L559.8 436.3L560.1 403.8L560.4 416.3L560.7 408.6L561.0 417.2L561.4 398.7L561.7 408.8L562.0 416.4L562.3 413.8L562.6 409.3L563.0 416.3L563.3 412.2L563.6 408.9L563.9 415.2L564.2 417.7L564.6 410.8L564.9 401.4L565.2 413.7L565.5 428.4L565.8 404.2L566.2 418.7L566.5 413.0L566.8 427.6L567.1 428.9L567.4 420.0L567.8 412.9L568.1 403.0L568.4 412.7L568.7 409.8L569.0 418.0L569.4 431.9L569.7 435.2L570.0 420.5L570.3 418.8L570.6 416.5L571.0 415.8L571.3 415.8L571.6 433.9L571.9 410.8L572.2 418.8L572.6 412.1L572.9 426.5L573.2 434.4L573.5 423.9L573.8 418.4L574.2 418.4L574.5 423.2L574.8 413.6L575.1 433.1L575.4 434.2L575.8 427.3L576.1 425.5L576.4 414.4L576.7 434.8L577.0 405.4L577.4 411.5L577.7 437.6L578.0 418.9L578.3 410.7L578.6 403.1L579.0 427.7L579.3 430.0L579.6 420.2L579.9 403.4L580.2 417.5L580.6 411.2L580.9 426.6L581.2 431.8L581.5 422.5L581.8 422.3L582.2 432.6L582.5 434.0L582.8 407.6L583.1 422.6L583.4 407.8L583.8 411.6L584.1 429.0L584.4 408.4L584.7 417.8L585.0 430.0L585.4 422.9L585.7 403.7L586.0 417.8L586.3 416.7L586.6 410.5L587.0 437.4L587.3 419.3L587.6 419.3L587.9 428.3L588.2 420.4L588.6 406.9L588.9 419.0L589.2 422.8L589.5 420.5L589.8 428.7L590.2 427.0L590.5 423.8L590.8 417.6L591.1 419.5L591.4 436.8L591.8 404.1L592.1 429.4L592.4 423.3L592.7 412.9L593.0 419.1L593.4 424.8L593.7 406.5L594.0 420.8L594.3 424.6L594.6 411.2L595.0 420.6L595.3 432.1L595.6 421.2L595.9 411.6L596.2 404.9L596.6 403.4L596.9 428.4L597.2 417.6L597.5 418.6L597.8 414.9L598.2 412.8L598.5 435.4L598.8 425.8L599.1 433.0L599.4 408.6L599.8 425.0L600.1 422.0L600.4 409.2L600.7 411.6L601.0 409.9L601.4 428.8L601.7 421.6L602.0 413.1L602.3 425.9L602.6 413.6L603.0 420.8L603.3 418.9L603.6 404.0L603.9 428.2L604.2 420.1L604.6 398.9L604.9 418.0L605.2 433.2L605.5 399.4L605.8 427.9L606.2 421.8L606.5 408.6L606.8 419.5L607.1 409.4L607.4 405.8L607.8 423.2L608.1 422.2L608.4 403.4L608.7 414.8L609.0 420.0L609.4 405.4L609.7 429.5L610.0 413.0L610.3 423.3L610.6 425.6L611.0 411.2L611.3 422.8L611.6 420.8L611.9 421.0L612.2 415.8L612.6 428.5L612.9 426.2L613.2 433.7L613.5 429.4L613.8 407.5L614.2 414.6L614.5 423.6L614.8 428.7L615.1 413.4L615.4 419.8L615.8 422.5L616.1 423.5L616.4 428.7L616.7 410.7L617.0 424.2L617.4 412.4L617.7 423.4L618.0 408.8L618.3 416.9L618.6 427.8L619.0 410.7L619.3 420.0L619.6 422.9L619.9 418.1L620.2 416.5L620.6 418.9L620.9 410.6L621.2 439.9L621.5 424.6L621.8 433.3L622.2 419.7L622.5 426.5L622.8 411.5L623.1 419.7L623.4 406.2L623.8 415.8L624.1 409.8L624.4 411.8L624.7 392.4L625.0 408.3L625.4 406.3L625.7 414.5L626.0 402.0L626.3 404.8L626.6 420.4L627.0 404.2L627.3 407.3L627.6 422.0L627.9 393.9L628.2 417.4L628.6 417.7L628.9 417.8L629.2 400.2L629.5 404.1L629.8 410.0L630.2 410.2L630.5 424.3L630.8 414.7L631.1 431.7L631.4 418.9L631.8 424.8L632.1 413.5L632.4 409.1L632.7 423.6L633.0 427.7L633.4 414.0" fill="none" stroke="#f01020" stroke-width="0.95" stroke-linejoin="miter"/>
<path d="M458.0 391.4L458.3 400.8L458.6 400.6L459.0 400.1L459.3 389.1L459.6 400.4L459.9 407.5L460.2 378.9L460.6 398.3L460.9 390.6L461.2 396.6L461.5 384.2L461.8 386.1L462.2 397.7L462.5 390.8L462.8 391.4L463.1 387.9L463.4 399.8L463.8 405.5L464.1 387.4L464.4 398.3L464.7 392.1L465.0 398.4L465.4 406.1L465.7 402.9L466.0 395.2L466.3 386.9L466.6 406.4L467.0 411.1L467.3 379.4L467.6 401.7L467.9 395.0L468.2 385.3L468.6 400.5L468.9 401.5L469.2 415.5L469.5 389.8L469.8 392.7L470.2 380.9L470.5 397.6L470.8 382.0L471.1 394.3L471.4 407.4L471.8 402.0L472.1 405.9L472.4 398.5L472.7 404.2L473.0 396.4L473.4 386.2L473.7 401.8L474.0 397.0L474.3 390.5L474.6 387.8L475.0 408.6L475.3 383.1L475.6 390.4L475.9 401.1L476.2 403.4L476.6 400.1L476.9 384.6L477.2 407.8L477.5 397.2L477.8 385.1L478.2 407.9L478.5 397.5L478.8 366.5L479.1 374.7L479.4 397.0L479.8 392.9L480.1 401.0L480.4 400.0L480.7 391.7L481.0 402.6L481.4 400.8L481.7 389.4L482.0 405.9L482.3 400.8L482.6 397.4L483.0 402.2L483.3 391.9L483.6 392.1L483.9 398.3L484.2 390.9L484.6 412.9L484.9 390.0L485.2 413.3L485.5 415.5L485.8 412.5L486.2 418.4L486.5 392.1L486.8 414.5L487.1 396.2L487.4 398.1L487.8 401.9L488.1 400.8L488.4 400.0L488.7 403.0L489.0 413.9L489.4 380.7L489.7 387.3L490.0 388.8L490.3 403.1L490.6 401.5L491.0 404.1L491.3 417.6L491.6 401.0L491.9 388.0L492.2 404.6L492.6 417.1L492.9 418.6L493.2 397.5L493.5 402.3L493.8 403.9L494.2 406.3L494.5 399.7L494.8 396.8L495.1 415.0L495.4 414.8L495.8 401.3L496.1 395.9L496.4 395.5L496.7 390.8L497.0 390.0L497.4 398.5L497.7 391.3L498.0 403.3L498.3 396.1L498.6 392.3L499.0 396.8L499.3 377.5L499.6 402.7L499.9 396.7L500.2 410.4L500.6 393.2L500.9 394.8L501.2 386.7L501.5 412.0L501.8 394.2L502.2 401.0L502.5 388.4L502.8 392.0L503.1 376.9L503.4 379.0L503.8 381.4L504.1 376.4L504.4 391.8L504.7 394.2L505.0 398.9L505.4 382.0L505.7 386.8L506.0 393.3L506.3 401.1L506.6 393.6L507.0 394.1L507.3 408.2L507.6 400.8L507.9 399.7L508.2 391.1L508.6 398.7L508.9 408.2L509.2 411.4L509.5 387.6L509.8 402.3L510.2 399.7L510.5 394.6L510.8 419.7L511.1 409.3L511.4 393.8L511.8 394.4L512.1 405.2L512.4 390.5L512.7 402.0L513.0 408.3L513.4 392.2L513.7 405.6L514.0 408.0L514.3 398.3L514.6 407.6L515.0 410.2L515.3 408.2L515.6 398.5L515.9 412.1L516.2 401.6L516.6 395.4L516.9 405.3L517.2 404.7L517.5 386.9L517.8 414.2L518.2 409.2L518.5 406.2L518.8 410.5L519.1 385.4L519.4 403.9L519.8 409.8L520.1 386.1L520.4 398.7L520.7 400.1L521.0 402.7L521.4 400.6L521.7 398.5L522.0 407.7L522.3 412.5L522.6 409.6L523.0 414.7L523.3 410.2L523.6 418.8L523.9 419.8L524.2 401.6L524.6 398.5L524.9 400.5L525.2 402.7L525.5 412.3L525.8 410.5L526.2 407.8L526.5 400.0L526.8 402.2L527.1 404.2L527.4 408.0L527.8 379.2L528.1 408.3L528.4 410.5L528.7 399.7L529.0 418.9L529.4 413.1L529.7 412.5L530.0 392.1L530.3 413.4L530.6 407.7L531.0 408.1L531.3 385.9L531.6 392.5L531.9 403.7L532.2 394.5L532.6 418.2L532.9 396.5L533.2 413.2L533.5 409.8L533.8 431.8L534.2 407.1L534.5 420.0L534.8 402.8L535.1 396.5L535.4 409.9L535.8 418.2L536.1 402.0L536.4 416.2L536.7 412.2L537.0 407.1L537.4 408.9L537.7 408.3L538.0 401.6L538.3 408.4L538.6 410.9L539.0 400.6L539.3 383.8L539.6 413.0L539.9 401.2L540.2 412.3L540.6 399.6L540.9 410.8L541.2 405.3L541.5 404.5L541.8 407.0L542.2 410.6L542.5 391.7L542.8 418.6L543.1 416.6L543.4 410.4L543.8 392.9L544.1 415.2L544.4 407.7L544.7 422.4L545.0 403.6L545.4 405.0L545.7 416.6L546.0 388.6L546.3 404.3L546.6 406.2L547.0 387.1L547.3 399.4L547.6 410.0L547.9 411.0L548.2 422.8L548.6 416.5L548.9 396.0L549.2 415.1L549.5 411.5L549.8 409.1L550.2 397.9L550.5 424.9L550.8 424.0L551.1 411.0L551.4 401.0L551.8 398.1L552.1 398.3L552.4 416.4L552.7 393.1L553.0 418.7L553.4 406.9L553.7 411.7L554.0 415.4L554.3 430.1L554.6 415.2L555.0 407.1L555.3 412.0L555.6 409.9L555.9 409.0L556.2 409.7L556.6 399.8L556.9 411.6L557.2 396.5L557.5 419.0L557.8 405.5L558.2 398.4L558.5 414.9L558.8 415.1L559.1 410.0L559.4 395.4L559.8 397.3L560.1 414.0L560.4 429.4L560.7 411.5L561.0 411.8L561.4 412.0L561.7 401.4L562.0 419.3L562.3 403.7L562.6 409.7L563.0 402.1L563.3 398.5L563.6 402.5L563.9 401.1L564.2 405.9L564.6 415.6L564.9 412.2L565.2 404.5L565.5 413.3L565.8 404.5L566.2 419.8L566.5 416.8L566.8 406.5L567.1 409.3L567.4 410.5L567.8 400.7L568.1 399.5L568.4 408.7L568.7 401.8L569.0 409.7L569.4 417.6L569.7 408.0L570.0 415.3L570.3 415.6L570.6 406.2L571.0 423.1L571.3 402.7L571.6 399.9L571.9 411.9L572.2 408.8L572.6 397.1L572.9 421.9L573.2 418.1L573.5 401.6L573.8 408.6L574.2 409.7L574.5 399.3L574.8 413.4L575.1 398.3L575.4 395.0L575.8 423.6L576.1 410.1L576.4 403.8L576.7 407.3L577.0 404.2L577.4 430.0L577.7 414.9L578.0 418.3L578.3 418.8L578.6 430.0L579.0 390.7L579.3 417.9L579.6 415.5L579.9 411.7L580.2 421.5L580.6 416.6L580.9 395.4L581.2 413.2L581.5 409.4L581.8 421.0L582.2 392.2L582.5 416.7L582.8 412.2L583.1 410.1L583.4 414.5L583.8 392.1L584.1 417.2L584.4 410.6L584.7 403.8L585.0 419.4L585.4 410.5L585.7 425.8L586.0 420.6L586.3 400.9L586.6 418.0L587.0 410.9L587.3 410.7L587.6 409.6L587.9 420.1L588.2 403.7L588.6 414.8L588.9 392.7L589.2 413.8L589.5 399.5L589.8 407.0L590.2 410.5L590.5 400.7L590.8 420.8L591.1 401.0L591.4 425.3L591.8 418.3L592.1 411.7L592.4 416.6L592.7 412.7L593.0 432.2L593.4 419.4L593.7 405.6L594.0 414.4L594.3 407.8L594.6 410.2L595.0 403.1L595.3 406.0L595.6 418.5L595.9 410.5L596.2 417.8L596.6 408.1L596.9 410.1L597.2 406.6L597.5 422.5L597.8 425.7L598.2 410.1L598.5 419.0L598.8 404.2L599.1 399.4L599.4 417.5L599.8 395.1L600.1 436.1L600.4 420.0L600.7 426.6L601.0 410.1L601.4 398.6L601.7 402.8L602.0 403.0L602.3 418.5L602.6 401.5L603.0 403.5L603.3 425.1L603.6 399.8L603.9 405.1L604.2 423.2L604.6 433.6L604.9 395.9L605.2 388.8L605.5 404.5L605.8 412.7L606.2 410.4L606.5 405.7L606.8 399.1L607.1 418.5L607.4 406.1L607.8 404.8L608.1 411.1L608.4 424.0L608.7 412.3L609.0 434.3L609.4 407.8L609.7 416.3L610.0 391.1L610.3 404.7L610.6 410.4L611.0 404.2L611.3 403.4L611.6 405.5L611.9 401.6L612.2 405.6L612.6 411.2L612.9 413.9L613.2 400.5L613.5 408.5L613.8 403.0L614.2 418.6L614.5 426.2L614.8 412.0L615.1 414.0L615.4 407.6L615.8 414.5L616.1 408.0L616.4 398.2L616.7 421.2L617.0 430.3L617.4 415.3L617.7 409.4L618.0 413.7L618.3 424.6L618.6 404.7L619.0 415.5L619.3 410.1L619.6 388.2L619.9 404.6L620.2 412.6L620.6 410.1L620.9 405.1L621.2 393.9L621.5 406.7L621.8 404.8L622.2 406.7L622.5 416.4L622.8 398.3L623.1 405.7L623.4 397.5L623.8 415.6L624.1 391.7L624.4 408.3L624.7 371.6L625.0 366.8L625.4 380.1L625.7 372.8L626.0 385.6L626.3 381.6L626.6 383.3L627.0 370.9L627.3 380.7L627.6 391.9L627.9 378.0L628.2 390.5L628.6 404.5L628.9 395.6L629.2 400.5L629.5 411.6L629.8 406.2L630.2 390.1L630.5 405.9L630.8 406.1L631.1 409.8L631.4 428.4L631.8 418.4L632.1 409.7L632.4 402.6L632.7 416.8L633.0 411.0L633.4 421.6" fill="none" stroke="#1a10f0" stroke-width="0.95" stroke-linejoin="miter"/>
<path d="M458.0 546.2L458.3 568.1L458.6 548.9L459.0 551.1L459.3 549.0L459.6 524.7L459.9 562.8L460.2 533.9L460.6 546.5L460.9 537.0L461.2 546.4L461.5 547.8L461.8 547.4L462.2 566.1L462.5 540.9L462.8 549.5L463.1 557.7L463.4 548.6L463.8 547.7L464.1 571.2L464.4 560.2L464.7 544.8L465.0 555.4L465.4 544.4L465.7 557.4L466.0 539.5L466.3 560.8L466.6 556.8L467.0 556.5L467.3 553.3L467.6 555.6L467.9 545.2L468.2 554.1L468.6 559.3L468.9 557.8L469.2 544.8L469.5 563.3L469.8 542.4L470.2 547.0L470.5 545.8L470.8 548.2L471.1 552.9L471.4 560.6L471.8 564.4L472.1 558.6L472.4 547.3L472.7 561.6L473.0 563.9L473.4 547.3L473.7 543.3L474.0 553.2L474.3 573.3L474.6 551.9L475.0 553.2L475.3 561.7L475.6 543.7L475.9 543.4L476.2 554.0L476.6 563.2L476.9 552.3L477.2 549.1L477.5 539.4L477.8 570.6L478.2 543.5L478.5 568.1L478.8 548.8L479.1 566.7L479.4 572.1L479.8 547.5L480.1 561.5L480.4 563.0L480.7 568.0L481.0 553.1L481.4 568.0L481.7 557.2L482.0 546.7L482.3 566.0L482.6 568.5L483.0 556.4L483.3 555.4L483.6 564.0L483.9 572.8L484.2 544.9L484.6 567.0L484.9 576.3L485.2 548.6L485.5 562.5L485.8 557.7L486.2 560.6L486.5 569.2L486.8 542.0L487.1 552.5L487.4 544.2L487.8 554.5L488.1 575.4L488.4 547.6L488.7 553.2L489.0 551.9L489.4 561.7L489.7 554.8L490.0 550.7L490.3 550.7L490.6 556.5L491.0 546.4L491.3 535.2L491.6 569.4L491.9 559.6L492.2 552.7L492.6 556.9L492.9 565.5L493.2 549.3L493.5 558.9L493.8 553.6L494.2 570.5L494.5 535.6L494.8 545.5L495.1 572.4L495.4 547.7L495.8 551.6L496.1 547.5L496.4 537.0L496.7 558.4L497.0 565.9L497.4 562.4L497.7 547.7L498.0 554.5L498.3 575.3L498.6 557.9L499.0 550.8L499.3 568.3L499.6 557.0L499.9 542.0L500.2 551.8L500.6 568.8L500.9 558.5L501.2 559.2L501.5 566.3L501.8 552.8L502.2 545.9L502.5 560.1L502.8 554.3L503.1 560.0L503.4 556.8L503.8 553.3L504.1 547.0L504.4 563.3L504.7 579.2L505.0 552.3L505.4 571.8L505.7 567.3L506.0 554.7L506.3 551.2L506.6 566.1L507.0 557.7L507.3 558.4L507.6 556.8L507.9 586.3L508.2 545.8L508.6 565.5L508.9 579.5L509.2 563.0L509.5 582.0L509.8 561.6L510.2 563.2L510.5 569.2L510.8 554.8L511.1 562.1L511.4 567.4L511.8 555.5L512.1 566.4L512.4 572.5L512.7 550.9L513.0 561.0L513.4 566.0L513.7 555.4L514.0 572.0L514.3 574.1L514.6 562.4L515.0 564.8L515.3 556.5L515.6 561.4L515.9 567.1L516.2 561.2L516.6 564.4L516.9 558.6L517.2 574.3L517.5 571.9L517.8 557.1L518.2 566.8L518.5 588.4L518.8 558.8L519.1 576.5L519.4 588.9L519.8 561.4L520.1 571.2L520.4 542.6L520.7 576.8L521.0 569.8L521.4 571.7L521.7 565.6L522.0 573.1L522.3 574.6L522.6 570.7L523.0 561.4L523.3 562.5L523.6 564.5L523.9 572.2L524.2 556.3L524.6 552.1L524.9 563.3L525.2 555.6L525.5 560.9L525.8 552.3L526.2 551.5L526.5 560.5L526.8 562.3L527.1 585.4L527.4 563.9L527.8 574.8L528.1 569.5L528.4 567.7L528.7 562.0L529.0 571.1L529.4 570.0L529.7 551.7L530.0 571.5L530.3 563.2L530.6 550.0L531.0 557.8L531.3 572.0L531.6 574.3L531.9 564.3L532.2 577.1L532.6 573.1L532.9 550.8L533.2 555.1L533.5 568.9L533.8 557.1L534.2 559.7L534.5 568.6L534.8 563.0L535.1 559.2L535.4 552.5L535.8 585.6L536.1 552.7L536.4 561.9L536.7 576.5L537.0 565.2L537.4 557.1L537.7 555.3L538.0 577.3L538.3 573.7L538.6 547.6L539.0 553.1L539.3 572.5L539.6 582.0L539.9 561.3L540.2 575.7L540.6 551.3L540.9 550.6L541.2 554.7L541.5 571.5L541.8 568.7L542.2 573.8L542.5 549.9L542.8 583.0L543.1 563.0L543.4 592.6L543.8 569.6L544.1 549.7L544.4 566.8L544.7 559.1L545.0 582.1L545.4 569.4L545.7 579.3L546.0 559.6L546.3 559.9L546.6 568.7L547.0 568.0L547.3 558.3L547.6 572.4L547.9 578.6L548.2 563.9L548.6 562.5L548.9 562.6L549.2 572.5L549.5 566.1L549.8 571.6L550.2 578.1L550.5 564.4L550.8 564.7L551.1 564.5L551.4 581.7L551.8 566.2L552.1 568.0L552.4 564.4L552.7 576.0L553.0 571.3L553.4 556.2L553.7 576.6L554.0 571.3L554.3 575.2L554.6 572.5L555.0 566.9L555.3 557.7L555.6 578.6L555.9 579.5L556.2 564.3L556.6 566.8L556.9 572.0L557.2 566.2L557.5 571.3L557.8 563.8L558.2 561.3L558.5 579.3L558.8 551.1L559.1 573.7L559.4 559.9L559.8 567.9L560.1 561.1L560.4 569.0L560.7 561.6L561.0 570.2L561.4 553.8L561.7 557.2L562.0 566.2L562.3 573.7L562.6 559.5L563.0 586.4L563.3 563.9L563.6 575.2L563.9 550.0L564.2 558.0L564.6 557.9L564.9 556.3L565.2 552.4L565.5 563.4L565.8 559.4L566.2 583.3L566.5 567.0L566.8 570.4L567.1 547.5L567.4 582.2L567.8 582.6L568.1 557.0L568.4 557.4L568.7 560.3L569.0 581.5L569.4 554.9L569.7 557.8L570.0 552.4L570.3 570.5L570.6 576.0L571.0 558.4L571.3 578.9L571.6 569.3L571.9 559.7L572.2 573.2L572.6 580.2L572.9 580.3L573.2 573.0L573.5 580.7L573.8 568.0L574.2 566.1L574.5 585.3L574.8 566.9L575.1 560.2L575.4 556.3L575.8 560.7L576.1 549.2L576.4 559.0L576.7 557.0L577.0 566.3L577.4 554.8L577.7 567.0L578.0 568.1L578.3 575.8L578.6 578.2L579.0 576.4L579.3 557.3L579.6 554.8L579.9 575.7L580.2 572.2L580.6 564.1L580.9 576.3L581.2 587.4L581.5 572.0L581.8 564.3L582.2 570.4L582.5 559.6L582.8 587.7L583.1 556.6L583.4 558.6L583.8 578.4L584.1 566.6L584.4 556.6L584.7 577.6L585.0 579.7L585.4 552.8L585.7 574.9L586.0 578.2L586.3 586.5L586.6 573.3L587.0 575.9L587.3 569.7L587.6 575.6L587.9 585.4L588.2 575.7L588.6 562.8L588.9 568.0L589.2 587.8L589.5 556.7L589.8 563.0L590.2 562.4L590.5 581.5L590.8 560.3L591.1 564.8L591.4 568.3L591.8 574.2L592.1 574.8L592.4 557.8L592.7 560.1L593.0 549.2L593.4 580.0L593.7 566.5L594.0 570.6L594.3 568.9L594.6 554.5L595.0 553.0L595.3 558.0L595.6 578.6L595.9 565.2L596.2 573.8L596.6 559.1L596.9 594.1L597.2 569.8L597.5 553.8L597.8 564.3L598.2 572.1L598.5 578.7L598.8 565.6L599.1 575.4L599.4 567.5L599.8 571.1L600.1 565.0L600.4 572.7L600.7 579.7L601.0 579.8L601.4 565.8L601.7 595.9L602.0 575.7L602.3 575.4L602.6 555.1L603.0 579.6L603.3 553.7L603.6 580.6L603.9 572.4L604.2 564.5L604.6 562.5L604.9 570.8L605.2 565.4L605.5 552.7L605.8 579.5L606.2 554.5L606.5 567.5L606.8 564.6L607.1 584.2L607.4 554.5L607.8 578.8L608.1 573.7L608.4 541.4L608.7 555.6L609.0 562.5L609.4 566.2L609.7 571.3L610.0 574.7L610.3 579.3L610.6 562.2L611.0 574.3L611.3 567.0L611.6 574.2L611.9 568.7L612.2 569.1L612.6 566.1L612.9 574.3L613.2 570.4L613.5 560.0L613.8 549.3L614.2 579.0L614.5 576.8L614.8 568.6L615.1 583.2L615.4 568.9L615.8 568.3L616.1 565.4L616.4 581.8L616.7 591.9L617.0 567.6L617.4 563.5L617.7 579.8L618.0 578.2L618.3 575.8L618.6 555.9L619.0 572.5L619.3 571.5L619.6 566.9L619.9 570.2L620.2 568.3L620.6 564.8L620.9 569.7L621.2 567.1L621.5 586.2L621.8 569.4L622.2 575.8L622.5 578.9L622.8 560.8L623.1 568.1L623.4 561.6L623.8 568.3L624.1 558.7L624.4 578.3L624.7 570.0L625.0 558.2L625.4 574.5L625.7 560.4L626.0 551.4L626.3 574.0L626.6 570.5L627.0 563.1L627.3 576.9L627.6 574.4L627.9 571.7L628.2 579.8L628.6 573.0L628.9 582.1L629.2 573.5L629.5 573.4L629.8 543.2L630.2 566.9L630.5 588.5L630.8 562.3L631.1 568.9L631.4 566.0L631.8 553.0L632.1 576.0L632.4 588.3L632.7 586.2L633.0 568.1L633.4 561.8" fill="none" stroke="#000" stroke-width="0.95" stroke-linejoin="miter"/>
<path d="M458.0 541.7L458.3 536.4L458.6 538.3L459.0 543.4L459.3 545.0L459.6 541.6L459.9 548.5L460.2 562.6L460.6 536.8L460.9 540.7L461.2 535.3L461.5 555.8L461.8 553.6L462.2 534.1L462.5 564.7L462.8 533.6L463.1 549.5L463.4 546.3L463.8 549.8L464.1 530.6L464.4 548.1L464.7 548.1L465.0 558.3L465.4 547.8L465.7 546.3L466.0 540.5L466.3 551.6L466.6 554.2L467.0 553.7L467.3 555.1L467.6 545.7L467.9 534.7L468.2 548.0L468.6 554.3L468.9 558.5L469.2 541.5L469.5 566.0L469.8 560.0L470.2 555.3L470.5 539.1L470.8 554.0L471.1 556.5L471.4 567.7L471.8 544.3L472.1 545.8L472.4 559.0L472.7 558.7L473.0 556.4L473.4 544.1L473.7 543.0L474.0 551.1L474.3 553.0L474.6 557.0L475.0 542.5L475.3 535.0L475.6 558.9L475.9 548.6L476.2 548.0L476.6 557.8L476.9 536.6L477.2 549.2L477.5 546.4L477.8 553.6L478.2 549.2L478.5 555.7L478.8 538.3L479.1 546.0L479.4 541.8L479.8 559.6L480.1 561.4L480.4 550.9L480.7 556.4L481.0 548.4L481.4 544.7L481.7 562.6L482.0 549.6L482.3 562.7L482.6 572.0L483.0 540.3L483.3 551.6L483.6 548.0L483.9 554.5L484.2 530.4L484.6 556.5L484.9 543.5L485.2 553.9L485.5 555.2L485.8 558.8L486.2 551.6L486.5 554.3L486.8 549.0L487.1 545.7L487.4 546.3L487.8 547.4L488.1 548.9L488.4 553.3L488.7 554.1L489.0 561.6L489.4 560.9L489.7 543.0L490.0 553.6L490.3 556.2L490.6 550.2L491.0 558.6L491.3 532.5L491.6 558.6L491.9 550.8L492.2 535.9L492.6 550.5L492.9 570.1L493.2 552.0L493.5 571.4L493.8 572.9L494.2 555.9L494.5 550.6L494.8 559.6L495.1 566.5L495.4 569.6L495.8 556.7L496.1 545.9L496.4 567.5L496.7 537.6L497.0 551.9L497.4 554.6L497.7 558.6L498.0 548.8L498.3 555.6L498.6 562.4L499.0 554.8L499.3 538.6L499.6 561.6L499.9 556.1L500.2 545.9L500.6 548.3L500.9 571.6L501.2 553.2L501.5 558.1L501.8 550.1L502.2 553.6L502.5 554.6L502.8 550.5L503.1 562.0L503.4 564.7L503.8 562.6L504.1 551.7L504.4 549.6L504.7 537.4L505.0 565.1L505.4 552.6L505.7 544.6L506.0 545.2L506.3 562.8L506.6 553.1L507.0 562.5L507.3 557.4L507.6 564.2L507.9 558.2L508.2 530.2L508.6 568.2L508.9 544.4L509.2 569.6L509.5 557.4L509.8 549.1L510.2 551.5L510.5 548.8L510.8 559.6L511.1 561.0L511.4 544.4L511.8 539.8L512.1 568.0L512.4 559.9L512.7 544.6L513.0 565.7L513.4 567.4L513.7 561.0L514.0 561.4L514.3 552.0L514.6 530.3L515.0 563.4L515.3 543.2L515.6 575.1L515.9 553.3L516.2 562.2L516.6 550.2L516.9 544.0L517.2 552.5L517.5 576.4L517.8 557.5L518.2 539.4L518.5 566.8L518.8 568.2L519.1 550.1L519.4 558.5L519.8 557.5L520.1 550.6L520.4 558.5L520.7 543.3L521.0 561.0L521.4 566.9L521.7 550.0L522.0 564.0L522.3 565.0L522.6 563.1L523.0 571.2L523.3 558.1L523.6 551.1L523.9 565.4L524.2 563.0L524.6 538.5L524.9 558.9L525.2 551.4L525.5 558.1L525.8 559.2L526.2 572.4L526.5 562.3L526.8 552.3L527.1 553.4L527.4 560.5L527.8 562.3L528.1 583.6L528.4 550.0L528.7 553.6L529.0 567.7L529.4 555.7L529.7 560.6L530.0 544.2L530.3 544.1L530.6 565.4L531.0 549.9L531.3 567.1L531.6 554.8L531.9 562.2L532.2 570.2L532.6 552.1L532.9 552.2L533.2 570.0L533.5 559.7L533.8 558.2L534.2 567.8L534.5 550.7L534.8 559.4L535.1 548.2L535.4 547.6L535.8 565.9L536.1 571.0L536.4 561.7L536.7 546.6L537.0 558.9L537.4 563.1L537.7 559.9L538.0 570.8L538.3 552.7L538.6 563.1L539.0 557.1L539.3 559.6L539.6 557.2L539.9 564.9L540.2 549.4L540.6 557.8L540.9 563.7L541.2 568.5L541.5 570.5L541.8 562.4L542.2 571.2L542.5 572.5L542.8 559.8L543.1 578.9L543.4 575.0L543.8 558.4L544.1 554.0L544.4 556.8L544.7 560.1L545.0 564.4L545.4 563.7L545.7 557.6L546.0 565.7L546.3 572.3L546.6 569.6L547.0 567.4L547.3 558.3L547.6 558.6L547.9 576.6L548.2 561.8L548.6 554.5L548.9 569.7L549.2 576.5L549.5 547.8L549.8 576.5L550.2 552.6L550.5 569.4L550.8 562.3L551.1 556.0L551.4 552.9L551.8 552.3L552.1 550.3L552.4 558.2L552.7 570.8L553.0 549.4L553.4 579.3L553.7 559.5L554.0 555.4L554.3 561.7L554.6 576.8L555.0 555.1L555.3 561.7L555.6 571.0L555.9 557.3L556.2 566.5L556.6 560.3L556.9 560.0L557.2 560.7L557.5 559.6L557.8 568.7L558.2 547.6L558.5 550.3L558.8 557.6L559.1 548.0L559.4 553.2L559.8 550.9L560.1 560.7L560.4 546.5L560.7 559.1L561.0 555.9L561.4 571.1L561.7 547.3L562.0 546.8L562.3 551.4L562.6 551.5L563.0 553.4L563.3 567.1L563.6 554.3L563.9 559.7L564.2 560.4L564.6 566.6L564.9 548.9L565.2 554.1L565.5 561.4L565.8 573.3L566.2 555.5L566.5 554.9L566.8 568.2L567.1 562.4L567.4 561.6L567.8 578.1L568.1 555.1L568.4 568.5L568.7 579.0L569.0 557.8L569.4 582.5L569.7 568.5L570.0 565.0L570.3 575.2L570.6 564.1L571.0 539.5L571.3 564.6L571.6 560.7L571.9 549.1L572.2 568.7L572.6 557.4L572.9 554.4L573.2 582.2L573.5 572.8L573.8 576.4L574.2 578.6L574.5 550.9L574.8 579.4L575.1 553.3L575.4 553.2L575.8 576.5L576.1 559.6L576.4 578.2L576.7 559.5L577.0 568.6L577.4 562.6L577.7 556.0L578.0 560.4L578.3 559.0L578.6 564.4L579.0 561.6L579.3 570.6L579.6 560.4L579.9 565.6L580.2 577.8L580.6 567.4L580.9 588.2L581.2 564.2L581.5 566.0L581.8 568.7L582.2 573.7L582.5 570.2L582.8 563.0L583.1 551.6L583.4 559.7L583.8 563.3L584.1 549.6L584.4 552.3L584.7 553.0L585.0 576.2L585.4 565.7L585.7 572.7L586.0 561.3L586.3 572.6L586.6 556.0L587.0 545.9L587.3 561.2L587.6 558.9L587.9 557.9L588.2 550.9L588.6 568.8L588.9 574.1L589.2 568.4L589.5 573.3L589.8 556.1L590.2 568.9L590.5 563.0L590.8 559.2L591.1 563.8L591.4 555.1L591.8 560.7L592.1 563.5L592.4 547.7L592.7 577.2L593.0 572.5L593.4 570.9L593.7 579.2L594.0 569.8L594.3 569.2L594.6 578.6L595.0 559.5L595.3 565.9L595.6 572.4L595.9 561.7L596.2 573.2L596.6 569.9L596.9 557.7L597.2 563.4L597.5 554.1L597.8 564.4L598.2 562.5L598.5 571.3L598.8 581.1L599.1 566.6L599.4 561.7L599.8 565.2L600.1 563.4L600.4 560.1L600.7 566.4L601.0 554.2L601.4 556.7L601.7 566.5L602.0 572.8L602.3 569.0L602.6 561.9L603.0 574.4L603.3 567.3L603.6 580.0L603.9 569.0L604.2 564.4L604.6 553.6L604.9 575.9L605.2 573.4L605.5 576.9L605.8 559.6L606.2 554.9L606.5 576.9L606.8 564.6L607.1 542.6L607.4 570.5L607.8 553.2L608.1 577.3L608.4 574.5L608.7 552.5L609.0 567.7L609.4 564.6L609.7 570.3L610.0 553.8L610.3 551.9L610.6 572.9L611.0 547.0L611.3 563.9L611.6 568.7L611.9 566.9L612.2 568.0L612.6 585.6L612.9 575.7L613.2 563.5L613.5 549.1L613.8 558.3L614.2 566.7L614.5 584.1L614.8 571.4L615.1 564.2L615.4 554.3L615.8 542.5L616.1 564.4L616.4 558.2L616.7 568.5L617.0 555.0L617.4 571.9L617.7 563.1L618.0 549.4L618.3 567.9L618.6 560.9L619.0 564.8L619.3 558.5L619.6 569.4L619.9 550.0L620.2 564.3L620.6 570.4L620.9 573.1L621.2 570.2L621.5 570.6L621.8 567.6L622.2 588.7L622.5 560.7L622.8 547.1L623.1 545.6L623.4 548.3L623.8 565.1L624.1 549.9L624.4 552.1L624.7 571.7L625.0 549.2L625.4 566.0L625.7 573.3L626.0 576.1L626.3 567.6L626.6 552.8L627.0 558.6L627.3 578.5L627.6 579.9L627.9 561.7L628.2 573.5L628.6 572.4L628.9 560.0L629.2 575.1L629.5 557.5L629.8 571.0L630.2 571.2L630.5 564.3L630.8 550.7L631.1 579.8L631.4 558.5L631.8 557.7L632.1 553.1L632.4 563.8L632.7 564.1L633.0 558.5L633.4 576.1" fill="none" stroke="#f01020" stroke-width="0.95" stroke-linejoin="miter"/>
<path d="M458.0 505.5L458.3 518.7L458.6 543.0L459.0 524.2L459.3 525.9L459.6 536.6L459.9 532.1L460.2 537.7L460.6 533.7L460.9 554.2L461.2 525.7L461.5 530.3L461.8 534.4L462.2 542.2L462.5 551.3L462.8 537.5L463.1 545.0L463.4 541.3L463.8 565.9L464.1 531.3L464.4 550.9L464.7 537.5L465.0 540.2L465.4 544.5L465.7 550.0L466.0 531.7L466.3 536.9L466.6 529.3L467.0 512.6L467.3 553.0L467.6 540.0L467.9 538.0L468.2 530.8L468.6 536.4L468.9 542.3L469.2 550.6L469.5 541.8L469.8 540.4L470.2 528.8L470.5 533.3L470.8 539.4L471.1 521.4L471.4 534.5L471.8 542.2L472.1 554.9L472.4 523.2L472.7 514.2L473.0 547.4L473.4 516.5L473.7 561.3L474.0 542.1L474.3 548.8L474.6 545.9L475.0 524.3L475.3 546.1L475.6 531.3L475.9 538.5L476.2 540.7L476.6 542.8L476.9 548.4L477.2 541.3L477.5 551.8L477.8 544.0L478.2 535.9L478.5 545.5L478.8 537.2L479.1 549.1L479.4 537.9L479.8 538.3L480.1 551.0L480.4 524.4L480.7 546.2L481.0 537.1L481.4 548.7L481.7 548.0L482.0 533.2L482.3 546.7L482.6 557.7L483.0 538.7L483.3 549.8L483.6 565.5L483.9 524.5L484.2 540.6L484.6 560.5L484.9 541.4L485.2 541.7L485.5 533.2L485.8 517.1L486.2 550.4L486.5 549.4L486.8 555.6L487.1 548.9L487.4 533.9L487.8 525.3L488.1 546.1L488.4 557.6L488.7 547.7L489.0 549.0L489.4 560.6L489.7 539.3L490.0 542.5L490.3 553.3L490.6 540.3L491.0 537.4L491.3 540.5L491.6 550.9L491.9 537.3L492.2 541.4L492.6 547.6L492.9 536.6L493.2 539.7L493.5 546.9L493.8 547.4L494.2 537.8L494.5 539.9L494.8 554.0L495.1 541.0L495.4 545.2L495.8 544.3L496.1 539.4L496.4 552.4L496.7 543.1L497.0 529.4L497.4 561.4L497.7 543.7L498.0 547.4L498.3 549.1L498.6 542.1L499.0 536.0L499.3 537.5L499.6 540.8L499.9 552.9L500.2 543.5L500.6 551.1L500.9 524.6L501.2 537.3L501.5 547.7L501.8 536.2L502.2 553.8L502.5 544.9L502.8 544.1L503.1 537.5L503.4 545.3L503.8 533.0L504.1 555.8L504.4 550.1L504.7 544.3L505.0 537.0L505.4 551.4L505.7 539.4L506.0 557.1L506.3 553.9L506.6 540.8L507.0 545.6L507.3 564.3L507.6 553.6L507.9 557.0L508.2 542.9L508.6 555.1L508.9 535.8L509.2 554.1L509.5 557.1L509.8 546.0L510.2 552.4L510.5 544.7L510.8 545.7L511.1 550.7L511.4 552.5L511.8 549.9L512.1 552.9L512.4 539.1L512.7 534.9L513.0 552.9L513.4 526.2L513.7 533.3L514.0 536.2L514.3 555.9L514.6 555.1L515.0 577.8L515.3 546.3L515.6 546.0L515.9 548.0L516.2 536.3L516.6 558.7L516.9 540.8L517.2 542.0L517.5 551.2L517.8 544.7L518.2 554.3L518.5 556.5L518.8 557.0L519.1 549.5L519.4 541.8L519.8 550.7L520.1 539.6L520.4 535.7L520.7 535.2L521.0 559.4L521.4 537.0L521.7 560.9L522.0 549.6L522.3 549.8L522.6 550.9L523.0 565.4L523.3 537.1L523.6 554.7L523.9 546.1L524.2 540.7L524.6 531.1L524.9 541.6L525.2 541.7L525.5 551.0L525.8 559.0L526.2 554.8L526.5 548.6L526.8 567.1L527.1 545.4L527.4 551.7L527.8 548.2L528.1 557.6L528.4 555.9L528.7 551.4L529.0 557.4L529.4 554.4L529.7 545.6L530.0 560.7L530.3 547.2L530.6 546.0L531.0 558.8L531.3 545.9L531.6 552.5L531.9 576.3L532.2 560.5L532.6 531.1L532.9 547.5L533.2 561.8L533.5 556.0L533.8 544.2L534.2 558.9L534.5 537.9L534.8 565.0L535.1 571.5L535.4 568.4L535.8 541.0L536.1 559.0L536.4 571.8L536.7 557.4L537.0 551.8L537.4 565.9L537.7 540.3L538.0 552.8L538.3 557.8L538.6 549.5L539.0 554.4L539.3 562.4L539.6 565.1L539.9 547.1L540.2 542.9L540.6 539.9L540.9 545.6L541.2 549.3L541.5 547.2L541.8 580.5L542.2 552.5L542.5 553.1L542.8 560.4L543.1 542.4L543.4 549.2L543.8 560.2L544.1 548.1L544.4 564.1L544.7 548.9L545.0 557.0L545.4 568.4L545.7 565.1L546.0 556.2L546.3 556.3L546.6 561.8L547.0 555.4L547.3 544.9L547.6 564.2L547.9 565.6L548.2 557.7L548.6 552.9L548.9 544.6L549.2 549.3L549.5 551.9L549.8 557.6L550.2 554.7L550.5 555.7L550.8 558.8L551.1 543.3L551.4 556.3L551.8 565.9L552.1 548.9L552.4 537.7L552.7 561.5L553.0 569.0L553.4 561.9L553.7 550.7L554.0 560.8L554.3 536.0L554.6 555.9L555.0 548.4L555.3 565.7L555.6 546.1L555.9 574.1L556.2 577.5L556.6 573.3L556.9 564.5L557.2 548.6L557.5 547.2L557.8 564.4L558.2 558.9L558.5 549.6L558.8 553.3L559.1 547.9L559.4 559.0L559.8 554.8L560.1 567.3L560.4 550.3L560.7 552.2L561.0 568.2L561.4 534.3L561.7 542.3L562.0 550.0L562.3 560.4L562.6 573.0L563.0 562.9L563.3 548.7L563.6 555.5L563.9 539.2L564.2 550.1L564.6 565.5L564.9 558.6L565.2 550.2L565.5 555.3L565.8 549.6L566.2 537.9L566.5 553.6L566.8 549.7L567.1 544.2L567.4 553.8L567.8 552.7L568.1 557.1L568.4 555.8L568.7 557.3L569.0 553.5L569.4 548.8L569.7 554.7L570.0 555.5L570.3 564.5L570.6 556.1L571.0 549.3L571.3 563.2L571.6 555.4L571.9 563.3L572.2 575.5L572.6 563.1L572.9 544.0L573.2 547.2L573.5 560.5L573.8 540.5L574.2 555.2L574.5 557.7L574.8 551.1L575.1 547.8L575.4 555.2L575.8 552.2L576.1 550.9L576.4 560.5L576.7 549.7L577.0 553.6L577.4 567.2L577.7 563.8L578.0 554.0L578.3 554.0L578.6 558.2L579.0 558.0L579.3 544.0L579.6 548.8L579.9 566.1L580.2 547.1L580.6 571.1L580.9 562.3L581.2 555.7L581.5 551.7L581.8 557.2L582.2 563.4L582.5 560.4L582.8 568.4L583.1 560.6L583.4 550.3L583.8 561.4L584.1 563.2L584.4 555.3L584.7 548.0L585.0 549.2L585.4 561.5L585.7 548.2L586.0 572.7L586.3 563.3L586.6 539.8L587.0 546.5L587.3 557.1L587.6 544.9L587.9 555.0L588.2 564.7L588.6 562.3L588.9 546.4L589.2 563.4L589.5 565.6L589.8 549.9L590.2 565.4L590.5 550.8L590.8 544.3L591.1 563.9L591.4 567.0L591.8 547.9L592.1 532.3L592.4 565.9L592.7 550.9L593.0 559.9L593.4 544.4L593.7 561.1L594.0 566.5L594.3 557.9L594.6 564.0L595.0 559.5L595.3 565.5L595.6 551.6L595.9 551.4L596.2 538.5L596.6 552.5L596.9 553.8L597.2 546.0L597.5 566.0L597.8 554.1L598.2 584.1L598.5 562.1L598.8 549.1L599.1 556.6L599.4 563.4L599.8 566.6L600.1 570.5L600.4 552.5L600.7 565.9L601.0 556.3L601.4 565.5L601.7 555.7L602.0 556.4L602.3 559.9L602.6 550.9L603.0 556.8L603.3 560.4L603.6 540.1L603.9 552.1L604.2 552.5L604.6 566.2L604.9 558.2L605.2 559.4L605.5 553.6L605.8 561.0L606.2 554.2L606.5 565.9L606.8 554.5L607.1 556.6L607.4 562.6L607.8 561.3L608.1 539.1L608.4 558.9L608.7 556.6L609.0 540.0L609.4 545.8L609.7 565.8L610.0 560.3L610.3 552.8L610.6 565.7L611.0 541.1L611.3 569.8L611.6 551.9L611.9 570.9L612.2 553.5L612.6 552.5L612.9 559.9L613.2 554.8L613.5 566.7L613.8 564.7L614.2 554.1L614.5 555.6L614.8 557.3L615.1 573.2L615.4 557.0L615.8 566.9L616.1 557.1L616.4 537.9L616.7 542.3L617.0 559.5L617.4 561.8L617.7 559.7L618.0 569.2L618.3 564.1L618.6 574.3L619.0 563.2L619.3 549.1L619.6 567.9L619.9 547.7L620.2 556.2L620.6 545.6L620.9 573.5L621.2 570.6L621.5 544.9L621.8 549.2L622.2 542.5L622.5 539.9L622.8 556.2L623.1 554.8L623.4 544.4L623.8 536.1L624.1 543.4L624.4 559.4L624.7 542.9L625.0 557.0L625.4 559.1L625.7 563.4L626.0 556.3L626.3 559.1L626.6 570.6L627.0 551.6L627.3 557.2L627.6 568.8L627.9 546.3L628.2 562.9L628.6 533.1L628.9 542.2L629.2 542.4L629.5 555.3L629.8 557.0L630.2 538.1L630.5 574.3L630.8 576.7L631.1 569.0L631.4 555.5L631.8 561.9L632.1 543.8L632.4 549.4L632.7 550.5L633.0 560.3L633.4 552.8" fill="none" stroke="#1a10f0" stroke-width="0.95" stroke-linejoin="miter"/>
<rect x="18.7" y="19.2" width="303.4" height="590.1" fill="none" stroke="#777" stroke-width="1.3"/>
<line x1="18.7" y1="166.4" x2="322.1" y2="166.4" stroke="#444" stroke-width="1.2"/>
<line x1="18.7" y1="314.2" x2="322.1" y2="314.2" stroke="#444" stroke-width="1.2"/>
<line x1="18.7" y1="461.8" x2="322.1" y2="461.8" stroke="#444" stroke-width="1.2"/>
<rect x="331.0" y="19.2" width="117.7" height="590.1" fill="none" stroke="#777" stroke-width="1.3"/>
<line x1="331.0" y1="166.4" x2="448.7" y2="166.4" stroke="#444" stroke-width="1.2"/>
<line x1="331.0" y1="314.2" x2="448.7" y2="314.2" stroke="#444" stroke-width="1.2"/>
<line x1="331.0" y1="461.8" x2="448.7" y2="461.8" stroke="#444" stroke-width="1.2"/>
<rect x="457.3" y="19.2" width="176.7" height="590.1" fill="none" stroke="#777" stroke-width="1.3"/>
<line x1="457.3" y1="166.4" x2="634.0" y2="166.4" stroke="#444" stroke-width="1.2"/>
<line x1="457.3" y1="314.2" x2="634.0" y2="314.2" stroke="#444" stroke-width="1.2"/>
<line x1="457.3" y1="461.8" x2="634.0" y2="461.8" stroke="#444" stroke-width="1.2"/>
<line x1="62.2" y1="19.2" x2="62.2" y2="24.7" stroke="#555" stroke-width="1.1"/>
<line x1="62.2" y1="160.9" x2="62.2" y2="171.9" stroke="#555" stroke-width="1.1"/>
<line x1="62.2" y1="308.7" x2="62.2" y2="319.7" stroke="#555" stroke-width="1.1"/>
<line x1="62.2" y1="456.3" x2="62.2" y2="467.3" stroke="#555" stroke-width="1.1"/>
<line x1="62.2" y1="603.8" x2="62.2" y2="609.3" stroke="#555" stroke-width="1.1"/>
<line x1="105.5" y1="19.2" x2="105.5" y2="24.7" stroke="#555" stroke-width="1.1"/>
<line x1="105.5" y1="160.9" x2="105.5" y2="171.9" stroke="#555" stroke-width="1.1"/>
<line x1="105.5" y1="308.7" x2="105.5" y2="319.7" stroke="#555" stroke-width="1.1"/>
<line x1="105.5" y1="456.3" x2="105.5" y2="467.3" stroke="#555" stroke-width="1.1"/>
<line x1="105.5" y1="603.8" x2="105.5" y2="609.3" stroke="#555" stroke-width="1.1"/>
<line x1="148.8" y1="19.2" x2="148.8" y2="24.7" stroke="#555" stroke-width="1.1"/>
<line x1="148.8" y1="160.9" x2="148.8" y2="171.9" stroke="#555" stroke-width="1.1"/>
<line x1="148.8" y1="308.7" x2="148.8" y2="319.7" stroke="#555" stroke-width="1.1"/>
<line x1="148.8" y1="456.3" x2="148.8" y2="467.3" stroke="#555" stroke-width="1.1"/>
<line x1="148.8" y1="603.8" x2="148.8" y2="609.3" stroke="#555" stroke-width="1.1"/>
<line x1="192.1" y1="19.2" x2="192.1" y2="24.7" stroke="#555" stroke-width="1.1"/>
<line x1="192.1" y1="160.9" x2="192.1" y2="171.9" stroke="#555" stroke-width="1.1"/>
<line x1="192.1" y1="308.7" x2="192.1" y2="319.7" stroke="#555" stroke-width="1.1"/>
<line x1="192.1" y1="456.3" x2="192.1" y2="467.3" stroke="#555" stroke-width="1.1"/>
<line x1="192.1" y1="603.8" x2="192.1" y2="609.3" stroke="#555" stroke-width="1.1"/>
<line x1="235.4" y1="19.2" x2="235.4" y2="24.7" stroke="#555" stroke-width="1.1"/>
<line x1="235.4" y1="160.9" x2="235.4" y2="171.9" stroke="#555" stroke-width="1.1"/>
<line x1="235.4" y1="308.7" x2="235.4" y2="319.7" stroke="#555" stroke-width="1.1"/>
<line x1="235.4" y1="456.3" x2="235.4" y2="467.3" stroke="#555" stroke-width="1.1"/>
<line x1="235.4" y1="603.8" x2="235.4" y2="609.3" stroke="#555" stroke-width="1.1"/>
<line x1="278.7" y1="19.2" x2="278.7" y2="24.7" stroke="#555" stroke-width="1.1"/>
<line x1="278.7" y1="160.9" x2="278.7" y2="171.9" stroke="#555" stroke-width="1.1"/>
<line x1="278.7" y1="308.7" x2="278.7" y2="319.7" stroke="#555" stroke-width="1.1"/>
<line x1="278.7" y1="456.3" x2="278.7" y2="467.3" stroke="#555" stroke-width="1.1"/>
<line x1="278.7" y1="603.8" x2="278.7" y2="609.3" stroke="#555" stroke-width="1.1"/>
<line x1="322.0" y1="19.2" x2="322.0" y2="24.7" stroke="#555" stroke-width="1.1"/>
<line x1="322.0" y1="160.9" x2="322.0" y2="171.9" stroke="#555" stroke-width="1.1"/>
<line x1="322.0" y1="308.7" x2="322.0" y2="319.7" stroke="#555" stroke-width="1.1"/>
<line x1="322.0" y1="456.3" x2="322.0" y2="467.3" stroke="#555" stroke-width="1.1"/>
<line x1="322.0" y1="603.8" x2="322.0" y2="609.3" stroke="#555" stroke-width="1.1"/>
<line x1="344.0" y1="19.2" x2="344.0" y2="24.7" stroke="#555" stroke-width="1.1"/>
<line x1="344.0" y1="163.1" x2="344.0" y2="171.9" stroke="#555" stroke-width="1.1"/>
<line x1="344.0" y1="310.9" x2="344.0" y2="319.7" stroke="#555" stroke-width="1.1"/>
<line x1="344.0" y1="458.5" x2="344.0" y2="467.3" stroke="#555" stroke-width="1.1"/>
<line x1="344.0" y1="603.8" x2="344.0" y2="609.3" stroke="#555" stroke-width="1.1"/>
<line x1="357.0" y1="19.2" x2="357.0" y2="24.7" stroke="#555" stroke-width="1.1"/>
<line x1="357.0" y1="163.1" x2="357.0" y2="171.9" stroke="#555" stroke-width="1.1"/>
<line x1="357.0" y1="310.9" x2="357.0" y2="319.7" stroke="#555" stroke-width="1.1"/>
<line x1="357.0" y1="458.5" x2="357.0" y2="467.3" stroke="#555" stroke-width="1.1"/>
<line x1="357.0" y1="603.8" x2="357.0" y2="609.3" stroke="#555" stroke-width="1.1"/>
<line x1="370.1" y1="19.2" x2="370.1" y2="24.7" stroke="#555" stroke-width="1.1"/>
<line x1="370.1" y1="163.1" x2="370.1" y2="171.9" stroke="#555" stroke-width="1.1"/>
<line x1="370.1" y1="310.9" x2="370.1" y2="319.7" stroke="#555" stroke-width="1.1"/>
<line x1="370.1" y1="458.5" x2="370.1" y2="467.3" stroke="#555" stroke-width="1.1"/>
<line x1="370.1" y1="603.8" x2="370.1" y2="609.3" stroke="#555" stroke-width="1.1"/>
<line x1="412.8" y1="19.2" x2="412.8" y2="24.0" stroke="#555" stroke-width="1.1"/>
<line x1="412.8" y1="161.6" x2="412.8" y2="171.2" stroke="#555" stroke-width="1.1"/>
<line x1="412.8" y1="309.4" x2="412.8" y2="319.0" stroke="#555" stroke-width="1.1"/>
<line x1="412.8" y1="457.0" x2="412.8" y2="466.6" stroke="#555" stroke-width="1.1"/>
<line x1="412.8" y1="604.5" x2="412.8" y2="609.3" stroke="#555" stroke-width="1.1"/>
<line x1="395.0" y1="19.2" x2="395.0" y2="22.2" stroke="#555" stroke-width="1.1"/>
<line x1="395.0" y1="164.3" x2="395.0" y2="169.4" stroke="#555" stroke-width="1.1"/>
<line x1="395.0" y1="312.1" x2="395.0" y2="317.2" stroke="#555" stroke-width="1.1"/>
<line x1="395.0" y1="459.7" x2="395.0" y2="464.8" stroke="#555" stroke-width="1.1"/>
<line x1="395.0" y1="606.3" x2="395.0" y2="609.3" stroke="#555" stroke-width="1.1"/>
<line x1="430.5" y1="19.2" x2="430.5" y2="22.2" stroke="#555" stroke-width="1.1"/>
<line x1="430.5" y1="164.3" x2="430.5" y2="169.4" stroke="#555" stroke-width="1.1"/>
<line x1="430.5" y1="312.1" x2="430.5" y2="317.2" stroke="#555" stroke-width="1.1"/>
<line x1="430.5" y1="459.7" x2="430.5" y2="464.8" stroke="#555" stroke-width="1.1"/>
<line x1="430.5" y1="606.3" x2="430.5" y2="609.3" stroke="#555" stroke-width="1.1"/>
<line x1="503.4" y1="19.2" x2="503.4" y2="24.9" stroke="#555" stroke-width="1.1"/>
<line x1="503.4" y1="160.7" x2="503.4" y2="172.1" stroke="#555" stroke-width="1.1"/>
<line x1="503.4" y1="308.5" x2="503.4" y2="319.9" stroke="#555" stroke-width="1.1"/>
<line x1="503.4" y1="456.1" x2="503.4" y2="467.5" stroke="#555" stroke-width="1.1"/>
<line x1="503.4" y1="603.6" x2="503.4" y2="609.3" stroke="#555" stroke-width="1.1"/>
<line x1="550.6" y1="19.2" x2="550.6" y2="24.9" stroke="#555" stroke-width="1.1"/>
<line x1="550.6" y1="160.7" x2="550.6" y2="172.1" stroke="#555" stroke-width="1.1"/>
<line x1="550.6" y1="308.5" x2="550.6" y2="319.9" stroke="#555" stroke-width="1.1"/>
<line x1="550.6" y1="456.1" x2="550.6" y2="467.5" stroke="#555" stroke-width="1.1"/>
<line x1="550.6" y1="603.6" x2="550.6" y2="609.3" stroke="#555" stroke-width="1.1"/>
<line x1="597.8" y1="19.2" x2="597.8" y2="24.9" stroke="#555" stroke-width="1.1"/>
<line x1="597.8" y1="160.7" x2="597.8" y2="172.1" stroke="#555" stroke-width="1.1"/>
<line x1="597.8" y1="308.5" x2="597.8" y2="319.9" stroke="#555" stroke-width="1.1"/>
<line x1="597.8" y1="456.1" x2="597.8" y2="467.5" stroke="#555" stroke-width="1.1"/>
<line x1="597.8" y1="603.6" x2="597.8" y2="609.3" stroke="#555" stroke-width="1.1"/>
<line x1="479.8" y1="19.2" x2="479.8" y2="22.2" stroke="#555" stroke-width="1.1"/>
<line x1="479.8" y1="163.4" x2="479.8" y2="169.4" stroke="#555" stroke-width="1.1"/>
<line x1="479.8" y1="311.2" x2="479.8" y2="317.2" stroke="#555" stroke-width="1.1"/>
<line x1="479.8" y1="458.8" x2="479.8" y2="464.8" stroke="#555" stroke-width="1.1"/>
<line x1="479.8" y1="606.3" x2="479.8" y2="609.3" stroke="#555" stroke-width="1.1"/>
<line x1="527.0" y1="19.2" x2="527.0" y2="22.2" stroke="#555" stroke-width="1.1"/>
<line x1="527.0" y1="163.4" x2="527.0" y2="169.4" stroke="#555" stroke-width="1.1"/>
<line x1="527.0" y1="311.2" x2="527.0" y2="317.2" stroke="#555" stroke-width="1.1"/>
<line x1="527.0" y1="458.8" x2="527.0" y2="464.8" stroke="#555" stroke-width="1.1"/>
<line x1="527.0" y1="606.3" x2="527.0" y2="609.3" stroke="#555" stroke-width="1.1"/>
<line x1="574.2" y1="19.2" x2="574.2" y2="22.2" stroke="#555" stroke-width="1.1"/>
<line x1="574.2" y1="163.4" x2="574.2" y2="169.4" stroke="#555" stroke-width="1.1"/>
<line x1="574.2" y1="311.2" x2="574.2" y2="317.2" stroke="#555" stroke-width="1.1"/>
<line x1="574.2" y1="458.8" x2="574.2" y2="464.8" stroke="#555" stroke-width="1.1"/>
<line x1="574.2" y1="606.3" x2="574.2" y2="609.3" stroke="#555" stroke-width="1.1"/>
<line x1="622.2" y1="19.2" x2="622.2" y2="22.2" stroke="#555" stroke-width="1.1"/>
<line x1="622.2" y1="163.4" x2="622.2" y2="169.4" stroke="#555" stroke-width="1.1"/>
<line x1="622.2" y1="311.2" x2="622.2" y2="317.2" stroke="#555" stroke-width="1.1"/>
<line x1="622.2" y1="458.8" x2="622.2" y2="464.8" stroke="#555" stroke-width="1.1"/>
<line x1="622.2" y1="606.3" x2="622.2" y2="609.3" stroke="#555" stroke-width="1.1"/>
<line x1="375.9" y1="12.2" x2="378.7" y2="26.2" stroke="#555" stroke-width="0.9"/>
<line x1="377.5" y1="12.2" x2="380.3" y2="26.2" stroke="#555" stroke-width="0.9"/>
<line x1="375.9" y1="159.4" x2="378.7" y2="173.4" stroke="#555" stroke-width="0.9"/>
<line x1="377.5" y1="159.4" x2="380.3" y2="173.4" stroke="#555" stroke-width="0.9"/>
<line x1="375.9" y1="307.2" x2="378.7" y2="321.2" stroke="#555" stroke-width="0.9"/>
<line x1="377.5" y1="307.2" x2="380.3" y2="321.2" stroke="#555" stroke-width="0.9"/>
<line x1="375.9" y1="454.8" x2="378.7" y2="468.8" stroke="#555" stroke-width="0.9"/>
<line x1="377.5" y1="454.8" x2="380.3" y2="468.8" stroke="#555" stroke-width="0.9"/>
<line x1="375.9" y1="602.3" x2="378.7" y2="615.3" stroke="#555" stroke-width="0.9"/>
<line x1="377.5" y1="602.3" x2="380.3" y2="615.3" stroke="#555" stroke-width="0.9"/>
<text x="339.2" y="11.4" font-family="Liberation Sans, Arial, sans-serif" font-size="13.6" font-weight="normal" text-anchor="start" fill="#000" textLength="101" lengthAdjust="spacingAndGlyphs">(003) and (104)</text>
<text x="492.7" y="11.4" font-family="Liberation Sans, Arial, sans-serif" font-size="13.6" font-weight="normal" text-anchor="start" fill="#000" textLength="96" lengthAdjust="spacingAndGlyphs">Impurity region</text>
<line x1="24.8" y1="32.0" x2="36.6" y2="32.0" stroke="#666" stroke-width="0.9"/>
<text x="42" y="36.1" font-family="Liberation Sans, Arial, sans-serif" font-size="11.6" font-weight="normal" text-anchor="start" fill="#111" textLength="46.7" lengthAdjust="spacingAndGlyphs">850°C 5h</text>
<line x1="24.8" y1="47.7" x2="36.6" y2="47.7" stroke="#d86070" stroke-width="0.9"/>
<text x="42" y="51.800000000000004" font-family="Liberation Sans, Arial, sans-serif" font-size="11.6" font-weight="normal" text-anchor="start" fill="#111" textLength="46.7" lengthAdjust="spacingAndGlyphs">900°C 5h</text>
<line x1="24.8" y1="63.4" x2="36.6" y2="63.4" stroke="#5555cc" stroke-width="0.9"/>
<text x="42" y="67.5" font-family="Liberation Sans, Arial, sans-serif" font-size="11.6" font-weight="normal" text-anchor="start" fill="#111" textLength="46.7" lengthAdjust="spacingAndGlyphs">950°C 5h</text>
<line x1="24.8" y1="179.2" x2="36.6" y2="179.2" stroke="#666" stroke-width="0.9"/>
<text x="42" y="183.3" font-family="Liberation Sans, Arial, sans-serif" font-size="11.6" font-weight="normal" text-anchor="start" fill="#111" textLength="46.7" lengthAdjust="spacingAndGlyphs">850°C 5h</text>
<line x1="24.8" y1="194.9" x2="36.6" y2="194.9" stroke="#d86070" stroke-width="0.9"/>
<text x="42" y="199.0" font-family="Liberation Sans, Arial, sans-serif" font-size="11.6" font-weight="normal" text-anchor="start" fill="#111" textLength="46.7" lengthAdjust="spacingAndGlyphs">900°C 5h</text>
<line x1="24.8" y1="210.6" x2="36.6" y2="210.6" stroke="#5555cc" stroke-width="0.9"/>
<text x="42" y="214.70000000000002" font-family="Liberation Sans, Arial, sans-serif" font-size="11.6" font-weight="normal" text-anchor="start" fill="#111" textLength="46.7" lengthAdjust="spacingAndGlyphs">950°C 5h</text>
<line x1="24.8" y1="327.0" x2="36.6" y2="327.0" stroke="#666" stroke-width="0.9"/>
<text x="42" y="331.1" font-family="Liberation Sans, Arial, sans-serif" font-size="11.6" font-weight="normal" text-anchor="start" fill="#111" textLength="46.7" lengthAdjust="spacingAndGlyphs">850°C 5h</text>
<line x1="24.8" y1="342.7" x2="36.6" y2="342.7" stroke="#d86070" stroke-width="0.9"/>
<text x="42" y="346.8" font-family="Liberation Sans, Arial, sans-serif" font-size="11.6" font-weight="normal" text-anchor="start" fill="#111" textLength="46.7" lengthAdjust="spacingAndGlyphs">900°C 5h</text>
<line x1="24.8" y1="358.4" x2="36.6" y2="358.4" stroke="#5555cc" stroke-width="0.9"/>
<text x="42" y="362.5" font-family="Liberation Sans, Arial, sans-serif" font-size="11.6" font-weight="normal" text-anchor="start" fill="#111" textLength="46.7" lengthAdjust="spacingAndGlyphs">950°C 5h</text>
<line x1="24.8" y1="474.6" x2="36.6" y2="474.6" stroke="#666" stroke-width="0.9"/>
<text x="42" y="478.70000000000005" font-family="Liberation Sans, Arial, sans-serif" font-size="11.6" font-weight="normal" text-anchor="start" fill="#111" textLength="46.7" lengthAdjust="spacingAndGlyphs">850°C 5h</text>
<line x1="24.8" y1="490.3" x2="36.6" y2="490.3" stroke="#d86070" stroke-width="0.9"/>
<text x="42" y="494.40000000000003" font-family="Liberation Sans, Arial, sans-serif" font-size="11.6" font-weight="normal" text-anchor="start" fill="#111" textLength="46.7" lengthAdjust="spacingAndGlyphs">900°C 5h</text>
<line x1="24.8" y1="506.0" x2="36.6" y2="506.0" stroke="#5555cc" stroke-width="0.9"/>
<text x="42" y="510.1" font-family="Liberation Sans, Arial, sans-serif" font-size="11.6" font-weight="normal" text-anchor="start" fill="#111" textLength="46.7" lengthAdjust="spacingAndGlyphs">950°C 5h</text>
<text x="122.9" y="41.2" font-family="Liberation Sans, Arial, sans-serif" font-size="14.6" font-weight="bold" text-anchor="start" fill="#000" textLength="174.3" lengthAdjust="spacingAndGlyphs">NiAl Step 1 0Li at given T</text>
<text x="122.9" y="58.0" font-family="Liberation Sans, Arial, sans-serif" font-size="14.6" font-weight="bold" text-anchor="start" fill="#000" textLength="162.5" lengthAdjust="spacingAndGlyphs">Step 2 1.05Li 700°C 20h</text>
<text x="122.9" y="188.4" font-family="Liberation Sans, Arial, sans-serif" font-size="14.6" font-weight="bold" text-anchor="start" fill="#000" textLength="181.4" lengthAdjust="spacingAndGlyphs">NiMg Step 1 0Li at given T</text>
<text x="122.9" y="205.2" font-family="Liberation Sans, Arial, sans-serif" font-size="14.6" font-weight="bold" text-anchor="start" fill="#000" textLength="163.5" lengthAdjust="spacingAndGlyphs">Step 2 1.05Li 700°C 20h</text>
<text x="122.9" y="336.2" font-family="Liberation Sans, Arial, sans-serif" font-size="14.6" font-weight="bold" text-anchor="start" fill="#000" textLength="185" lengthAdjust="spacingAndGlyphs">NiAl Step 1 0.5Li at given T</text>
<text x="122.9" y="353.0" font-family="Liberation Sans, Arial, sans-serif" font-size="14.6" font-weight="bold" text-anchor="start" fill="#000" textLength="163.5" lengthAdjust="spacingAndGlyphs">Step 2 1.15Li 700°C 20h</text>
<text x="122.9" y="483.8" font-family="Liberation Sans, Arial, sans-serif" font-size="14.6" font-weight="bold" text-anchor="start" fill="#000" textLength="192.5" lengthAdjust="spacingAndGlyphs">NiMg Step 1 0.5Li at given T</text>
<text x="122.9" y="500.6" font-family="Liberation Sans, Arial, sans-serif" font-size="14.6" font-weight="bold" text-anchor="start" fill="#000" textLength="163.5" lengthAdjust="spacingAndGlyphs">Step 2 1.15Li 700°C 20h</text>
<text transform="translate(28.9,84.5) rotate(-90)" font-family="Liberation Sans, Arial, sans-serif" font-size="11.4" text-anchor="middle" fill="#111">(101)</text>
<text transform="translate(50.7,110.7) rotate(-90)" font-family="Liberation Sans, Arial, sans-serif" font-size="11.4" text-anchor="middle" fill="#111">(006)/(012)</text>
<text transform="translate(114.0,40.8) rotate(-90)" font-family="Liberation Sans, Arial, sans-serif" font-size="11.4" text-anchor="middle" fill="#111">(104)</text>
<text transform="translate(140.7,128.8) rotate(-90)" font-family="Liberation Sans, Arial, sans-serif" font-size="11.4" text-anchor="middle" fill="#111">(015)</text>
<text transform="translate(227.8,130.2) rotate(-90)" font-family="Liberation Sans, Arial, sans-serif" font-size="11.4" text-anchor="middle" fill="#111">(107)</text>
<text transform="translate(271.7,120.2) rotate(-90)" font-family="Liberation Sans, Arial, sans-serif" font-size="11.4" text-anchor="middle" fill="#111">(018)</text>
<text transform="translate(285.6,121) rotate(-90)" font-family="Liberation Sans, Arial, sans-serif" font-size="11.4" text-anchor="middle" fill="#111">(110)</text>
<text transform="translate(310.4,132.2) rotate(-90)" font-family="Liberation Sans, Arial, sans-serif" font-size="11.4" text-anchor="middle" fill="#111">(113)</text>
<text transform="translate(12.3,316.4) rotate(-90)" font-family="Liberation Sans, Arial, sans-serif" font-size="14.4" font-weight="bold" text-anchor="middle" textLength="124.6" lengthAdjust="spacingAndGlyphs">Intensity (Counts)</text>
<text x="249" y="645.6" font-family="Liberation Sans, Arial, sans-serif" font-size="14.4" font-weight="bold" text-anchor="start" fill="#000" textLength="160" lengthAdjust="spacingAndGlyphs">Scattering Angle (deg.)</text>
<text x="61.6" y="629" font-family="Liberation Sans, Arial, sans-serif" font-size="14.5" font-weight="bold" text-anchor="middle" fill="#000">40</text>
<text x="148.4" y="629" font-family="Liberation Sans, Arial, sans-serif" font-size="14.5" font-weight="bold" text-anchor="middle" fill="#000">50</text>
<text x="234.7" y="629" font-family="Liberation Sans, Arial, sans-serif" font-size="14.5" font-weight="bold" text-anchor="middle" fill="#000">60</text>
<text x="321.7" y="629" font-family="Liberation Sans, Arial, sans-serif" font-size="14.5" font-weight="bold" text-anchor="middle" fill="#000">70</text>
<text x="343.1" y="629" font-family="Liberation Sans, Arial, sans-serif" font-size="14.5" font-weight="bold" text-anchor="middle" fill="#000">18.5</text>
<text x="369.5" y="629" font-family="Liberation Sans, Arial, sans-serif" font-size="14.5" font-weight="bold" text-anchor="middle" fill="#000">19</text>
<text x="412.3" y="629" font-family="Liberation Sans, Arial, sans-serif" font-size="14.5" font-weight="bold" text-anchor="middle" fill="#000">44</text>
<text x="448" y="629" font-family="Liberation Sans, Arial, sans-serif" font-size="14.5" font-weight="bold" text-anchor="middle" fill="#000">45</text>
<text x="503.4" y="629" font-family="Liberation Sans, Arial, sans-serif" font-size="14.5" font-weight="bold" text-anchor="middle" fill="#000">24</text>
<text x="550.6" y="629" font-family="Liberation Sans, Arial, sans-serif" font-size="14.5" font-weight="bold" text-anchor="middle" fill="#000">28</text>
<text x="598.2" y="629" font-family="Liberation Sans, Arial, sans-serif" font-size="14.5" font-weight="bold" text-anchor="middle" fill="#000">32</text>
<text transform="translate(370.4,58.8) scale(0.85,1)" font-family="Liberation Sans, Arial, sans-serif" font-size="27">^</text>
<text x="383.4" y="47.8" font-family="Liberation Sans, Arial, sans-serif" font-size="17" font-weight="normal" text-anchor="start" fill="#000" textLength="62.8" lengthAdjust="spacingAndGlyphs">rocksalt</text>
<text x="508.1" y="55.8" font-family="DejaVu Sans, sans-serif" font-size="21.5" font-weight="normal" text-anchor="start" fill="#000">*</text>
<text x="521.2" y="47.7" font-family="Liberation Sans, Arial, sans-serif" font-size="17.6">Li<tspan font-size="12" dy="4.2">5</tspan><tspan dy="-4.2">AlO</tspan><tspan font-size="12" dy="4.2">4</tspan></text>
<text transform="translate(386.8,296.1) scale(0.92,1)" font-family="Liberation Sans, Arial, sans-serif" font-size="21" font-weight="bold" text-anchor="middle">^</text>
<text transform="translate(412.4,441.90000000000003) scale(0.92,1)" font-family="Liberation Sans, Arial, sans-serif" font-size="21" font-weight="bold" text-anchor="middle">^</text>
<text transform="translate(412.0,580.8000000000001) scale(0.92,1)" font-family="Liberation Sans, Arial, sans-serif" font-size="21" font-weight="bold" text-anchor="middle">^</text>
<text x="502.4" y="361.90000000000003" font-family="DejaVu Sans, sans-serif" font-size="24.5" font-weight="bold" text-anchor="middle" fill="#000">*</text>
<text x="626" y="368.2" font-family="DejaVu Sans, sans-serif" font-size="24.5" font-weight="bold" text-anchor="middle" fill="#000">*</text>
</svg>
</body></html>
